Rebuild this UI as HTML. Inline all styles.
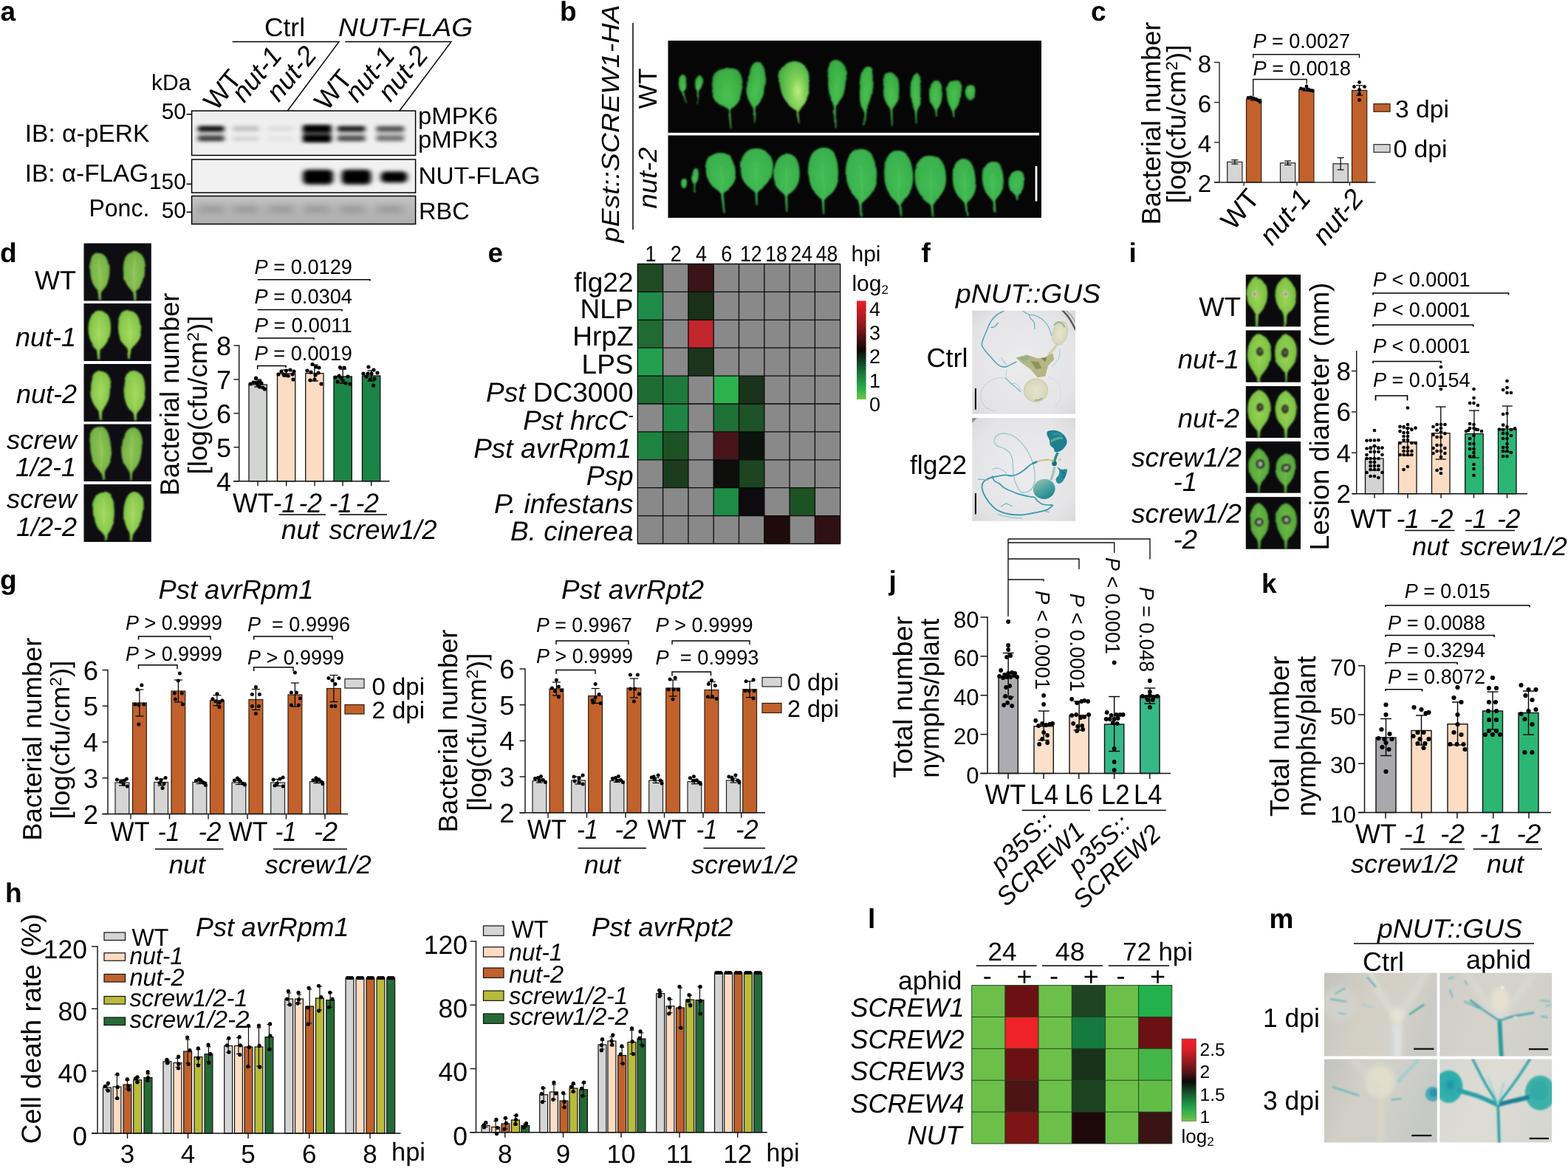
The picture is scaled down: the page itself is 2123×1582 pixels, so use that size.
<!DOCTYPE html>
<html lang="en">
<head>
<meta charset="utf-8">
<title>Figure</title>
<style>html,body{margin:0;padding:0;background:#fff;overflow:hidden}svg{display:block}</style>
</head>
<body>
<svg width="2123" height="1582" viewBox="0 0 2123 1582" font-family="'Liberation Sans', Arial, Helvetica, sans-serif" text-rendering="geometricPrecision">
<defs>
<filter id="bl3" x="-30%" y="-100%" width="160%" height="300%"><feGaussianBlur stdDeviation="3.2 2.2"/></filter>
<filter id="bl4" x="-30%" y="-100%" width="160%" height="300%"><feGaussianBlur stdDeviation="3.5 2.6"/></filter>
<filter id="bl6" x="-30%" y="-100%" width="160%" height="300%"><feGaussianBlur stdDeviation="6 4"/></filter>
<clipPath id="cb1"><rect x="259.6" y="150.1" width="303" height="60.3"/></clipPath>
<clipPath id="cb2"><rect x="259.6" y="216" width="303" height="45"/></clipPath>
<clipPath id="cb3"><rect x="259.6" y="265.5" width="303" height="38"/></clipPath>
<linearGradient id="gp" x1="0" y1="0" x2="0" y2="1"><stop offset="0" stop-color="#c4c4c4"/><stop offset="0.5" stop-color="#b6b6b6"/><stop offset="1" stop-color="#aeaeae"/></linearGradient>
<radialGradient id="lg" cx="0.5" cy="0.45" r="0.65"><stop offset="0" stop-color="#4cc052"/><stop offset="0.6" stop-color="#3bb045"/><stop offset="1" stop-color="#2a9239"/></radialGradient>
<radialGradient id="lgy" cx="0.55" cy="0.5" r="0.6"><stop offset="0" stop-color="#c8ec8a"/><stop offset="0.35" stop-color="#8ad65c"/><stop offset="1" stop-color="#3fae42"/></radialGradient>
<radialGradient id="lg2" cx="0.5" cy="0.45" r="0.65"><stop offset="0" stop-color="#44bd55"/><stop offset="0.7" stop-color="#39b04c"/><stop offset="1" stop-color="#2b963e"/></radialGradient>
<filter id="soft" x="-10%" y="-10%" width="120%" height="120%"><feGaussianBlur stdDeviation="0.7"/></filter>
<filter id="rough" x="-5%" y="-5%" width="110%" height="110%" filterUnits="objectBoundingBox"><feTurbulence type="fractalNoise" baseFrequency="0.035" numOctaves="1" seed="7" result="n"/><feDisplacementMap in="SourceGraphic" in2="n" scale="9" xChannelSelector="R" yChannelSelector="G" result="d"/><feGaussianBlur in="d" stdDeviation="0.9"/></filter>
<filter id="rough2" x="-5%" y="-5%" width="110%" height="110%" filterUnits="objectBoundingBox"><feTurbulence type="fractalNoise" baseFrequency="0.03" numOctaves="1" seed="11" result="n"/><feDisplacementMap in="SourceGraphic" in2="n" scale="6" xChannelSelector="R" yChannelSelector="G" result="d"/><feGaussianBlur in="d" stdDeviation="0.9"/></filter>
<radialGradient id="ld" cx="0.5" cy="0.45" r="0.7"><stop offset="0" stop-color="#a6d95f"/><stop offset="0.6" stop-color="#86c84a"/><stop offset="1" stop-color="#5da33a"/></radialGradient>
<radialGradient id="ldd" cx="0.5" cy="0.45" r="0.7"><stop offset="0" stop-color="#8cc456"/><stop offset="0.6" stop-color="#78b447"/><stop offset="1" stop-color="#4f8e36"/></radialGradient>
<clipPath id="cd0"><rect x="113.5" y="329.5" width="91.3" height="78"/></clipPath>
<clipPath id="cd1"><rect x="113.5" y="411" width="91.3" height="78"/></clipPath>
<clipPath id="cd2"><rect x="113.5" y="493" width="91.3" height="78"/></clipPath>
<clipPath id="cd3"><rect x="113.5" y="574.5" width="91.3" height="77.5"/></clipPath>
<clipPath id="cd4"><rect x="113.5" y="656" width="91.3" height="78"/></clipPath>
<linearGradient id="cbe" x1="0" y1="0" x2="0" y2="1"><stop offset="0" stop-color="#ee1f2b"/><stop offset="0.25" stop-color="#8e1a1f"/><stop offset="0.5" stop-color="#0a0a0a"/><stop offset="0.75" stop-color="#1c7d3c"/><stop offset="0.9" stop-color="#2cb24a"/><stop offset="1" stop-color="#72c34b"/></linearGradient>
<radialGradient id="pf" cx="0.5" cy="0.5" r="0.75"><stop offset="0" stop-color="#ececee"/><stop offset="0.7" stop-color="#e4e4e6"/><stop offset="1" stop-color="#d6d6d8"/></radialGradient>
<clipPath id="cf1"><rect x="1316.3" y="420.7" width="139.7" height="140"/></clipPath>
<clipPath id="cf2"><rect x="1316.3" y="566.2" width="139.7" height="139.5"/></clipPath>
<filter id="soft2" x="-10%" y="-10%" width="120%" height="120%"><feGaussianBlur stdDeviation="0.7"/></filter>
<radialGradient id="cot1" cx="0.5" cy="0.5" r="0.6"><stop offset="0" stop-color="#e6e3cf"/><stop offset="0.7" stop-color="#d9d8bc"/><stop offset="1" stop-color="#b9ba8f"/></radialGradient>
<linearGradient id="cot2" x1="0.3" y1="0" x2="0.6" y2="1"><stop offset="0" stop-color="#8fbdb0"/><stop offset="0.5" stop-color="#4ea3a0"/><stop offset="1" stop-color="#1c8890"/></linearGradient>
<radialGradient id="li" cx="0.5" cy="0.4" r="0.7"><stop offset="0" stop-color="#9bd455"/><stop offset="0.6" stop-color="#7cc244"/><stop offset="1" stop-color="#4f9a35"/></radialGradient>
<radialGradient id="li2" cx="0.5" cy="0.4" r="0.7"><stop offset="0" stop-color="#6db844"/><stop offset="0.6" stop-color="#57a83c"/><stop offset="1" stop-color="#3a8030"/></radialGradient>
<clipPath id="ci0"><rect x="1686.8" y="371.9" width="74.2" height="70.5"/></clipPath>
<clipPath id="ci1"><rect x="1686.8" y="447.4" width="74.2" height="70.3"/></clipPath>
<clipPath id="ci2"><rect x="1686.8" y="523" width="74.2" height="70"/></clipPath>
<clipPath id="ci3"><rect x="1686.8" y="597.9" width="74.2" height="69.8"/></clipPath>
<clipPath id="ci4"><rect x="1686.8" y="673.1" width="74.2" height="70.6"/></clipPath>
<linearGradient id="cbl" x1="0" y1="0" x2="0" y2="1"><stop offset="0" stop-color="#f01f2a"/><stop offset="0.12" stop-color="#e01f28"/><stop offset="0.4" stop-color="#5a1416"/><stop offset="0.52" stop-color="#0a0a0a"/><stop offset="0.66" stop-color="#17552b"/><stop offset="0.82" stop-color="#1fa049"/><stop offset="0.93" stop-color="#4cb848"/><stop offset="1" stop-color="#74c34b"/></linearGradient>
<linearGradient id="pm1" x1="0" y1="0" x2="1" y2="0.3"><stop offset="0" stop-color="#c3c3bf"/><stop offset="0.45" stop-color="#d3cfc5"/><stop offset="0.75" stop-color="#d4d1c8"/><stop offset="1" stop-color="#cacac5"/></linearGradient>
<linearGradient id="pm2" x1="0" y1="0" x2="1" y2="0.2"><stop offset="0" stop-color="#cfcdc8"/><stop offset="0.5" stop-color="#d6d3cb"/><stop offset="1" stop-color="#d0d0ca"/></linearGradient>
<linearGradient id="pm3" x1="0" y1="0" x2="1" y2="0.3"><stop offset="0" stop-color="#c2c3bf"/><stop offset="0.4" stop-color="#d2d0c6"/><stop offset="0.7" stop-color="#cfcfc9"/><stop offset="1" stop-color="#c6c9c6"/></linearGradient>
<linearGradient id="pm4" x1="0" y1="0" x2="1" y2="0.3"><stop offset="0" stop-color="#d6d6d0"/><stop offset="0.5" stop-color="#dddcd5"/><stop offset="1" stop-color="#d7d7d1"/></linearGradient>
<filter id="soft3" x="-10%" y="-10%" width="120%" height="120%"><feGaussianBlur stdDeviation="1.1"/></filter>
<filter id="soft4" x="-20%" y="-20%" width="140%" height="140%"><feGaussianBlur stdDeviation="3"/></filter>
<radialGradient id="ctl" cx="0.55" cy="0.45" r="0.6"><stop offset="0" stop-color="#1f8fa0"/><stop offset="0.3" stop-color="#2aa9ac"/><stop offset="1" stop-color="#38b3ae"/></radialGradient>
<clipPath id="cm0"><rect x="1793" y="1317.7" width="152.6" height="112.8"/></clipPath>
<clipPath id="cm1"><rect x="1949.4" y="1317.7" width="151.8" height="112.8"/></clipPath>
<clipPath id="cm2"><rect x="1793" y="1434.6" width="152.8" height="112.8"/></clipPath>
<clipPath id="cm3"><rect x="1949.4" y="1434.6" width="151.8" height="112.8"/></clipPath>
</defs>
<text x="0.5" y="27.5" font-size="37" font-weight="bold">a</text>
<text x="358" y="48.6" font-size="35" textLength="55" lengthAdjust="spacingAndGlyphs">Ctrl</text>
<text x="458" y="48.6" font-size="35" font-style="italic" textLength="182" lengthAdjust="spacingAndGlyphs">NUT-FLAG</text>
<polyline points="314.6,56.6 459,56.6 389.3,150" fill="none" stroke="#000" stroke-width="1.5"/>
<polyline points="467.2,56.6 610.9,56.6 541,150" fill="none" stroke="#000" stroke-width="1.5"/>
<text x="292.8" y="151.4" font-size="36.5" transform="rotate(-50.5 292.8 151.4)">WT</text>
<text x="330.4" y="140.4" font-size="36.5" font-style="italic" transform="rotate(-50.5 330.4 140.4)">nut-1</text>
<text x="377.6" y="139.5" font-size="36.5" font-style="italic" transform="rotate(-50.5 377.6 139.5)">nut-2</text>
<text x="442.8" y="151.4" font-size="36.5" transform="rotate(-50.5 442.8 151.4)">WT</text>
<text x="483.4" y="140.4" font-size="36.5" font-style="italic" transform="rotate(-50.5 483.4 140.4)">nut-1</text>
<text x="528.6" y="139.5" font-size="36.5" font-style="italic" transform="rotate(-50.5 528.6 139.5)">nut-2</text>
<text x="205" y="122.4" font-size="30">kDa</text>
<rect x="259.6" y="150.1" width="303" height="60.3" fill="#efefef"/>
<g clip-path="url(#cb1)">
<g filter="url(#bl3)">
<rect x="267.7" y="170.45" width="36" height="7.5" fill="#000" rx="3" opacity="0.92"/>
<rect x="267.7" y="184.05" width="36" height="7.5" fill="#000" rx="3" opacity="0.7"/>
<rect x="267.7" y="174" width="36" height="14" fill="#000" rx="4" opacity="0.18"/>
<rect x="315" y="170.45" width="36" height="7.5" fill="#000" rx="3" opacity="0.18"/>
<rect x="315" y="184.05" width="36" height="7.5" fill="#000" rx="3" opacity="0.1"/>
<rect x="363" y="170.45" width="34" height="7.5" fill="#000" rx="3" opacity="0.07"/>
<rect x="363" y="184.05" width="34" height="7.5" fill="#000" rx="3" opacity="0.04"/>
<rect x="409.8" y="168.95" width="39" height="10.5" fill="#000" rx="3" opacity="1.0"/>
<rect x="409.8" y="182.55" width="39" height="10.5" fill="#000" rx="3" opacity="1.0"/>
<rect x="409.8" y="171" width="39" height="20" fill="#000" rx="4" opacity="0.5"/>
<rect x="456.7" y="170.45" width="38" height="7.5" fill="#000" rx="3" opacity="0.85"/>
<rect x="456.7" y="184.05" width="38" height="7.5" fill="#000" rx="3" opacity="0.62"/>
<rect x="456.7" y="174" width="38" height="14" fill="#000" rx="4" opacity="0.18"/>
<rect x="509.3" y="170.45" width="38" height="7.5" fill="#000" rx="3" opacity="0.6"/>
<rect x="509.3" y="184.05" width="38" height="7.5" fill="#000" rx="3" opacity="0.45"/>
<rect x="509.3" y="174" width="38" height="14" fill="#000" rx="4" opacity="0.18"/>
</g>
</g>
<rect x="259.6" y="150.1" width="303" height="60.3" fill="none" stroke="#000" stroke-width="1.5"/>
<rect x="259.6" y="216" width="303" height="45" fill="#f1f1f1"/>
<g clip-path="url(#cb2)">
<g filter="url(#bl4)">
<rect x="410" y="229.8" width="41" height="20" fill="#000" rx="6"/>
<rect x="412" y="230.8" width="37" height="18" fill="#000" rx="6"/>
<rect x="462.5" y="229.8" width="40" height="20" fill="#000" rx="6"/>
<rect x="464.5" y="230.8" width="36" height="18" fill="#000" rx="6"/>
<rect x="515.5" y="232.3" width="36" height="15" fill="#000" rx="6"/>
<rect x="517.5" y="233.3" width="32" height="13" fill="#000" rx="6"/>
</g>
</g>
<rect x="259.6" y="216" width="303" height="45" fill="none" stroke="#000" stroke-width="1.5"/>
<rect x="259.6" y="265.5" width="303" height="38" fill="url(#gp)"/>
<g clip-path="url(#cb3)">
<g filter="url(#bl6)" opacity="0.35">
<rect x="269" y="279" width="34" height="8" fill="#555"/>
<rect x="316" y="279" width="34" height="8" fill="#555"/>
<rect x="363" y="279" width="34" height="8" fill="#555"/>
<rect x="412" y="279" width="34" height="8" fill="#555"/>
<rect x="460" y="279" width="34" height="8" fill="#555"/>
<rect x="511" y="279" width="34" height="8" fill="#555"/>
</g>
</g>
<rect x="259.6" y="265.5" width="303" height="38" fill="none" stroke="#000" stroke-width="1.5"/>
<text x="252" y="160.8" font-size="30" text-anchor="end">50</text>
<line x1="252.5" y1="154.8" x2="259.6" y2="154.8" stroke="#000" stroke-width="1.5"/>
<text x="252" y="256" font-size="30" text-anchor="end">150</text>
<line x1="252.5" y1="249.3" x2="259.6" y2="249.3" stroke="#000" stroke-width="1.5"/>
<text x="252" y="295.2" font-size="30" text-anchor="end">50</text>
<line x1="252.5" y1="287.3" x2="259.6" y2="287.3" stroke="#000" stroke-width="1.5"/>
<text x="33.8" y="192.2" font-size="33.5" textLength="168.5" lengthAdjust="spacingAndGlyphs">IB: α-pERK</text>
<text x="33.8" y="245.8" font-size="33.5" textLength="167.5" lengthAdjust="spacingAndGlyphs">IB: α-FLAG</text>
<text x="120.4" y="293.4" font-size="33" textLength="82" lengthAdjust="spacingAndGlyphs">Ponc.</text>
<text x="566" y="168.3" font-size="32.5" textLength="108" lengthAdjust="spacingAndGlyphs">pMPK6</text>
<text x="566" y="199.5" font-size="32.5" textLength="108" lengthAdjust="spacingAndGlyphs">pMPK3</text>
<text x="566.5" y="249" font-size="32.5" textLength="165" lengthAdjust="spacingAndGlyphs">NUT-FLAG</text>
<text x="567" y="296.5" font-size="32.5">RBC</text>
<text x="758" y="27.5" font-size="37" font-weight="bold">b</text>
<text x="838" y="328.5" font-size="33.5" font-style="italic" transform="rotate(-90 838 328.5)" textLength="322" lengthAdjust="spacingAndGlyphs">pEst::SCREW1-HA</text>
<line x1="857" y1="31" x2="857" y2="311" stroke="#000" stroke-width="1.5"/>
<text x="889" y="147.5" font-size="35" transform="rotate(-90 889 147.5)" textLength="55" lengthAdjust="spacingAndGlyphs">WT</text>
<text x="889" y="282.5" font-size="35" font-style="italic" transform="rotate(-90 889 282.5)" textLength="83" lengthAdjust="spacingAndGlyphs">nut-2</text>
<rect x="904.5" y="55" width="505.5" height="240" fill="#060606"/>
<rect x="904.5" y="179.8" width="502.5" height="3.6" fill="#fff"/>
<rect x="1401.6" y="225" width="2.8" height="47.5" fill="#fff"/>
<g filter="url(#rough)">
<g transform="rotate(-8 924 113.0)">
<path d="M924.0,140.0 L923.0,124.0 C922.4,121.8 918.5,120.5 918.5,111.2 C918.5,105.1 920.7,102.0 924.0,102.0 C927.3,102.0 929.5,105.1 929.5,111.2 C929.5,120.5 925.6,121.8 925.0,124.0 L925.2,140.0 Z" fill="url(#lg)"/>
</g>
<g transform="rotate(4 945.5 114.0)">
<path d="M945.6,141.0 L944.5,124.0 C943.9,122.0 941.0,120.8 941.0,112.4 C941.0,106.8 942.8,104.0 945.5,104.0 C948.2,104.0 950.0,106.8 950.0,112.4 C950.0,120.8 947.1,122.0 946.5,124.0 L946.8,141.0 Z" fill="url(#lg)"/>
</g>
<g transform="rotate(-3 985 121.5)">
<path d="M985.1,175.0 L983.7,152.0 C982.8,145.9 963.5,142.2 963.5,116.6 C963.5,99.5 972.1,91.0 985.0,91.0 C997.9,91.0 1006.5,99.5 1006.5,116.6 C1006.5,142.2 987.2,145.9 986.3,152.0 L986.7,175.0 Z" fill="url(#lg)"/>
</g>
<g transform="rotate(4 1024.5 115.5)">
<path d="M1024.5,166.0 L1023.2,147.0 C1022.3,140.7 1012.2,136.9 1012.2,110.5 C1012.2,92.8 1017.1,84.0 1024.5,84.0 C1031.8,84.0 1036.8,92.8 1036.8,110.5 C1036.8,136.9 1026.7,140.7 1025.8,147.0 L1026.1,166.0 Z" fill="url(#lg)"/>
</g>
<g transform="rotate(-6 1077 117.5)">
<path d="M1076.8,168.0 L1075.7,152.0 C1074.8,145.1 1056.2,141.0 1056.2,112.0 C1056.2,92.7 1064.5,83.0 1077.0,83.0 C1089.5,83.0 1097.8,92.7 1097.8,112.0 C1097.8,141.0 1079.2,145.1 1078.3,152.0 L1078.4,168.0 Z" fill="url(#lgy)"/>
</g>
<g transform="rotate(2 1132.5 113.0)">
<path d="M1132.9,174.0 L1131.2,145.0 C1130.3,138.6 1120.0,134.8 1120.0,107.9 C1120.0,90.0 1125.0,81.0 1132.5,81.0 C1140.0,81.0 1145.0,90.0 1145.0,107.9 C1145.0,134.8 1134.7,138.6 1133.8,145.0 L1134.5,174.0 Z" fill="url(#lg)"/>
</g>
<g transform="rotate(5 1172.5 121.5)">
<path d="M1172.4,170.0 L1171.2,152.0 C1170.3,145.9 1164.0,142.2 1164.0,116.6 C1164.0,99.5 1167.4,91.0 1172.5,91.0 C1177.6,91.0 1181.0,99.5 1181.0,116.6 C1181.0,142.2 1174.7,145.9 1173.8,152.0 L1174.0,170.0 Z" fill="url(#lg)"/>
</g>
<g>
<path d="M1207.1,171.0 L1205.7,149.0 C1204.8,143.7 1195.5,140.5 1195.5,118.3 C1195.5,103.4 1200.1,96.0 1207.0,96.0 C1213.9,96.0 1218.5,103.4 1218.5,118.3 C1218.5,140.5 1209.2,143.7 1208.3,149.0 L1208.7,171.0 Z" fill="url(#lg)"/>
</g>
<g>
<path d="M1239.8,166.0 L1238.7,151.0 C1237.8,146.1 1232.5,143.2 1232.5,122.6 C1232.5,108.9 1235.5,102.0 1240.0,102.0 C1244.5,102.0 1247.5,108.9 1247.5,122.6 C1247.5,143.2 1242.2,146.1 1241.3,151.0 L1241.4,166.0 Z" fill="url(#lg)"/>
</g>
<g>
<path d="M1267.1,159.0 L1266.2,150.0 C1265.3,145.7 1259.0,143.1 1259.0,125.1 C1259.0,113.0 1262.4,107.0 1267.5,107.0 C1272.6,107.0 1276.0,113.0 1276.0,125.1 C1276.0,143.1 1269.7,145.7 1268.8,150.0 L1268.7,159.0 Z" fill="url(#lg)"/>
</g>
<g>
<path d="M1291.5,159.0 L1290.7,151.0 C1289.8,146.7 1281.5,144.1 1281.5,126.1 C1281.5,114.0 1285.7,108.0 1292.0,108.0 C1298.3,108.0 1302.5,114.0 1302.5,126.1 C1302.5,144.1 1294.2,146.7 1293.3,151.0 L1293.1,159.0 Z" fill="url(#lg)"/>
</g>
<g>
<path d="M1314.5,137.0 C1310.3,136.6 1307.5,132.6 1307.5,124.2 C1307.5,118.1 1310.3,115.0 1314.5,115.0 C1318.7,115.0 1321.5,118.1 1321.5,124.2 C1321.5,132.6 1318.7,136.6 1314.5,137.0 Z" fill="url(#lg)"/>
</g>
</g>
<g filter="url(#rough2)">
<g>
<path d="M927.0,255.0 C924.6,254.7 923.0,252.2 923.0,247.4 C923.0,243.0 924.6,241.0 927.0,241.0 C929.4,241.0 931.0,243.0 931.0,247.4 C931.0,252.2 929.4,254.7 927.0,255.0 Z" fill="url(#lg2)"/>
</g>
<g transform="rotate(5 941.5 239.0)">
<path d="M941.4,261.0 L940.5,249.0 C939.9,247.0 937.2,245.8 937.2,238.2 C937.2,231.8 939.0,229.0 941.5,229.0 C944.0,229.0 945.8,231.8 945.8,238.2 C945.8,245.8 943.1,247.0 942.5,249.0 L942.6,261.0 Z" fill="url(#lg2)"/>
</g>
<g transform="rotate(-4 976 235.0)">
<path d="M976.0,288.0 L974.4,263.0 C973.4,257.4 956.0,254.0 956.0,232.8 C956.0,214.8 964.0,207.0 976.0,207.0 C988.0,207.0 996.0,214.8 996.0,232.8 C996.0,254.0 978.6,257.4 977.6,263.0 L978.0,288.0 Z" fill="url(#lg2)"/>
</g>
<line x1="976" y1="223.8" x2="976.5" y2="261" stroke="#63c765" stroke-width="1.2" opacity="0.55"/>
<g>
<path d="M1023.7,278.0 L1022.4,261.0 C1021.4,255.0 1002.8,251.4 1002.8,228.6 C1002.8,209.4 1011.2,201.0 1024.0,201.0 C1036.8,201.0 1045.2,209.4 1045.2,228.6 C1045.2,251.4 1026.6,255.0 1025.6,261.0 L1025.6,278.0 Z" fill="url(#lg2)"/>
</g>
<line x1="1024" y1="219" x2="1024.5" y2="259" stroke="#63c765" stroke-width="1.2" opacity="0.55"/>
<g>
<path d="M1064.4,288.0 L1062.9,266.0 C1061.9,260.2 1046.2,256.7 1046.2,234.7 C1046.2,216.1 1053.5,208.0 1064.5,208.0 C1075.5,208.0 1082.8,216.1 1082.8,234.7 C1082.8,256.7 1067.1,260.2 1066.1,266.0 L1066.3,288.0 Z" fill="url(#lg2)"/>
</g>
<line x1="1064.5" y1="225.4" x2="1065" y2="264" stroke="#63c765" stroke-width="1.2" opacity="0.55"/>
<g>
<path d="M1114.3,291.0 L1112.9,273.0 C1111.9,265.7 1094.0,261.3 1094.0,233.6 C1094.0,210.2 1102.2,200.0 1114.5,200.0 C1126.8,200.0 1135.0,210.2 1135.0,233.6 C1135.0,261.3 1117.1,265.7 1116.1,273.0 L1116.2,291.0 Z" fill="url(#lg2)"/>
</g>
<line x1="1114.5" y1="221.9" x2="1115" y2="271" stroke="#63c765" stroke-width="1.2" opacity="0.55"/>
<g>
<path d="M1165.7,293.0 L1164.4,276.0 C1163.4,268.6 1144.8,264.2 1144.8,236.0 C1144.8,212.4 1153.2,202.0 1166.0,202.0 C1178.8,202.0 1187.2,212.4 1187.2,236.0 C1187.2,264.2 1168.6,268.6 1167.6,276.0 L1167.6,293.0 Z" fill="url(#lg2)"/>
</g>
<line x1="1166" y1="224.2" x2="1166.5" y2="274" stroke="#63c765" stroke-width="1.2" opacity="0.55"/>
<g transform="rotate(-3 1217 241.5)">
<path d="M1216.7,294.0 L1215.4,278.0 C1214.4,270.7 1197.5,266.3 1197.5,238.6 C1197.5,215.2 1205.3,205.0 1217.0,205.0 C1228.7,205.0 1236.5,215.2 1236.5,238.6 C1236.5,266.3 1219.6,270.7 1218.6,278.0 L1218.6,294.0 Z" fill="url(#lg2)"/>
</g>
<line x1="1217" y1="226.9" x2="1217.5" y2="276" stroke="#63c765" stroke-width="1.2" opacity="0.55"/>
<g transform="rotate(-3 1260 244.0)">
<path d="M1259.6,293.0 L1258.4,278.0 C1257.4,271.2 1238.8,267.1 1238.8,241.3 C1238.8,219.5 1247.2,210.0 1260.0,210.0 C1272.8,210.0 1281.2,219.5 1281.2,241.3 C1281.2,267.1 1262.6,271.2 1261.6,278.0 L1261.6,293.0 Z" fill="url(#lg2)"/>
</g>
<line x1="1260" y1="230.4" x2="1260.5" y2="276" stroke="#63c765" stroke-width="1.2" opacity="0.55"/>
<g transform="rotate(-4 1305.5 245.5)">
<path d="M1305.2,293.0 L1303.9,276.0 C1302.9,269.9 1290.0,266.2 1290.0,243.1 C1290.0,223.5 1296.2,215.0 1305.5,215.0 C1314.8,215.0 1321.0,223.5 1321.0,243.1 C1321.0,266.2 1308.1,269.9 1307.1,276.0 L1307.1,293.0 Z" fill="url(#lg2)"/>
</g>
<line x1="1305.5" y1="233.3" x2="1306" y2="274" stroke="#63c765" stroke-width="1.2" opacity="0.55"/>
<g transform="rotate(-4 1345 245.5)">
<path d="M1344.6,288.0 L1343.4,273.0 C1342.4,267.5 1330.0,264.2 1330.0,243.3 C1330.0,225.7 1336.0,218.0 1345.0,218.0 C1354.0,218.0 1360.0,225.7 1360.0,243.3 C1360.0,264.2 1347.6,267.5 1346.6,273.0 L1346.6,288.0 Z" fill="url(#lg2)"/>
</g>
<line x1="1345" y1="234.5" x2="1345.5" y2="271" stroke="#63c765" stroke-width="1.2" opacity="0.55"/>
<g>
<path d="M1376.2,271.0 L1375.4,266.0 C1374.4,262.5 1366.5,260.4 1366.5,247.1 C1366.5,235.9 1370.7,231.0 1377.0,231.0 C1383.3,231.0 1387.5,235.9 1387.5,247.1 C1387.5,260.4 1379.6,262.5 1378.6,266.0 L1378.2,271.0 Z" fill="url(#lg2)"/>
</g>
</g>
<text x="1477" y="27.5" font-size="37" font-weight="bold">c</text>
<text x="1571" y="304.5" font-size="36" transform="rotate(-90 1571 304.5)" textLength="275" lengthAdjust="spacingAndGlyphs">Bacterial number</text>
<text x="1605" y="275.5" font-size="36" transform="rotate(-90 1605 275.5)" textLength="215" lengthAdjust="spacingAndGlyphs">[log(cfu/cm<tspan font-size="22" dy="-11">2</tspan><tspan dy="11">)]</tspan></text>
<rect x="1661.7" y="219.38" width="20.2" height="27.62" fill="#d5d5d5" stroke="#222" stroke-width="1.2"/>
<rect x="1687.5" y="134.33" width="20.2" height="112.67" fill="#c1622c" stroke="#3a1a08" stroke-width="1.2"/>
<line x1="1671.8" y1="216.67" x2="1671.8" y2="222.08" stroke="#000" stroke-width="1.2"/>
<line x1="1667.3" y1="216.67" x2="1676.3" y2="216.67" stroke="#000" stroke-width="1.2"/>
<line x1="1667.3" y1="222.08" x2="1676.3" y2="222.08" stroke="#000" stroke-width="1.2"/>
<line x1="1697.6" y1="132.71" x2="1697.6" y2="135.96" stroke="#000" stroke-width="1.2"/>
<line x1="1693.1" y1="132.71" x2="1702.1" y2="132.71" stroke="#000" stroke-width="1.2"/>
<line x1="1693.1" y1="135.96" x2="1702.1" y2="135.96" stroke="#000" stroke-width="1.2"/>
<rect x="1733.5" y="220.73" width="20.2" height="26.27" fill="#d5d5d5" stroke="#222" stroke-width="1.2"/>
<rect x="1758.7" y="121.33" width="20.2" height="125.67" fill="#c1622c" stroke="#3a1a08" stroke-width="1.2"/>
<line x1="1743.6" y1="218.02" x2="1743.6" y2="223.44" stroke="#000" stroke-width="1.2"/>
<line x1="1739.1" y1="218.02" x2="1748.1" y2="218.02" stroke="#000" stroke-width="1.2"/>
<line x1="1739.1" y1="223.44" x2="1748.1" y2="223.44" stroke="#000" stroke-width="1.2"/>
<line x1="1768.8" y1="119.44" x2="1768.8" y2="123.23" stroke="#000" stroke-width="1.2"/>
<line x1="1764.3" y1="119.44" x2="1773.3" y2="119.44" stroke="#000" stroke-width="1.2"/>
<line x1="1764.3" y1="123.23" x2="1773.3" y2="123.23" stroke="#000" stroke-width="1.2"/>
<rect x="1805" y="221.81" width="20.2" height="25.19" fill="#d5d5d5" stroke="#222" stroke-width="1.2"/>
<rect x="1830.5" y="122.42" width="20.2" height="124.58" fill="#c1622c" stroke="#3a1a08" stroke-width="1.2"/>
<line x1="1815.1" y1="213.69" x2="1815.1" y2="229.94" stroke="#000" stroke-width="1.2"/>
<line x1="1810.6" y1="213.69" x2="1819.6" y2="213.69" stroke="#000" stroke-width="1.2"/>
<line x1="1810.6" y1="229.94" x2="1819.6" y2="229.94" stroke="#000" stroke-width="1.2"/>
<line x1="1840.6" y1="115.65" x2="1840.6" y2="129.19" stroke="#000" stroke-width="1.2"/>
<line x1="1836.1" y1="115.65" x2="1845.1" y2="115.65" stroke="#000" stroke-width="1.2"/>
<line x1="1836.1" y1="129.19" x2="1845.1" y2="129.19" stroke="#000" stroke-width="1.2"/>
<circle cx="1690" cy="132.5" r="2.4" fill="#000"/>
<circle cx="1693.5" cy="132" r="2.4" fill="#000"/>
<circle cx="1697" cy="133" r="2.4" fill="#000"/>
<circle cx="1700.5" cy="134.5" r="2.4" fill="#000"/>
<circle cx="1703.5" cy="136" r="2.4" fill="#000"/>
<circle cx="1706" cy="138" r="2.4" fill="#000"/>
<circle cx="1761.5" cy="120" r="2.4" fill="#000"/>
<circle cx="1765" cy="121" r="2.4" fill="#000"/>
<circle cx="1769" cy="117" r="2.4" fill="#000"/>
<circle cx="1771.5" cy="121.5" r="2.4" fill="#000"/>
<circle cx="1774.5" cy="122.5" r="2.4" fill="#000"/>
<circle cx="1777" cy="123" r="2.4" fill="#000"/>
<circle cx="1840.5" cy="111.5" r="2.4" fill="#000"/>
<circle cx="1833.5" cy="117.5" r="2.4" fill="#000"/>
<circle cx="1847.5" cy="117.5" r="2.4" fill="#000"/>
<circle cx="1840.5" cy="121.5" r="2.4" fill="#000"/>
<circle cx="1840.5" cy="127" r="2.4" fill="#000"/>
<circle cx="1840.5" cy="135.5" r="2.4" fill="#000"/>
<line x1="1651" y1="83.8" x2="1651" y2="247" stroke="#222" stroke-width="1.4"/>
<line x1="1644" y1="247" x2="1862.5" y2="247" stroke="#222" stroke-width="1.4"/>
<line x1="1644" y1="247" x2="1651" y2="247" stroke="#222" stroke-width="1.4"/>
<text x="1640" y="260" font-size="33" text-anchor="end">2</text>
<line x1="1644" y1="192.83" x2="1651" y2="192.83" stroke="#222" stroke-width="1.4"/>
<text x="1640" y="205.83" font-size="33" text-anchor="end">4</text>
<line x1="1644" y1="138.67" x2="1651" y2="138.67" stroke="#222" stroke-width="1.4"/>
<text x="1640" y="151.67" font-size="33" text-anchor="end">6</text>
<line x1="1644" y1="84.5" x2="1651" y2="84.5" stroke="#222" stroke-width="1.4"/>
<text x="1640" y="97.5" font-size="33" text-anchor="end">8</text>
<line x1="1684.2" y1="247" x2="1684.2" y2="251.5" stroke="#222" stroke-width="1.4"/>
<line x1="1756" y1="247" x2="1756" y2="251.5" stroke="#222" stroke-width="1.4"/>
<line x1="1827.5" y1="247" x2="1827.5" y2="251.5" stroke="#222" stroke-width="1.4"/>
<text x="1707" y="269.5" font-size="37" text-anchor="end" transform="rotate(-50 1707 269.5)">WT</text>
<text x="1776.5" y="269.5" font-size="37" text-anchor="end" font-style="italic" transform="rotate(-50 1776.5 269.5)">nut-1</text>
<text x="1848" y="269.5" font-size="37" text-anchor="end" font-style="italic" transform="rotate(-50 1848 269.5)">nut-2</text>
<text x="1696.5" y="65" font-size="27.8" textLength="131.5" lengthAdjust="spacingAndGlyphs"><tspan font-style="italic">P</tspan> = 0.0027</text>
<polyline points="1696.7,78.5 1696.7,73.7 1840.5,73.7 1840.5,78.5" fill="none" stroke="#111" stroke-width="1.4"/>
<text x="1696.5" y="102" font-size="27.8" textLength="132.5" lengthAdjust="spacingAndGlyphs"><tspan font-style="italic">P</tspan> = 0.0018</text>
<polyline points="1696.7,130 1696.7,107.5 1769.2,107.5 1769.2,113.5" fill="none" stroke="#111" stroke-width="1.4"/>
<rect x="1860" y="140.7" width="22" height="10.5" fill="#c1622c" stroke="#3a1a08" stroke-width="1.2"/>
<text x="1889" y="159" font-size="33" textLength="73" lengthAdjust="spacingAndGlyphs">3 dpi</text>
<rect x="1860" y="195.7" width="22" height="10.5" fill="#d5d5d5" stroke="#222" stroke-width="1.2"/>
<text x="1886.5" y="213" font-size="33" textLength="73" lengthAdjust="spacingAndGlyphs">0 dpi</text>
<text x="0" y="355" font-size="37" font-weight="bold">d</text>
<rect x="113.5" y="329.5" width="91.3" height="78" fill="#0e0e12"/>
<g clip-path="url(#cd0)" filter="url(#rough2)">
<g>
<path d="M133.9,408.0 L132.6,396.0 C131.1,390.6 121.1,387.4 121.1,364.7 C121.1,349.6 126.6,342.0 134.8,342.0 C143.1,342.0 148.6,349.6 148.6,364.7 C148.6,387.4 138.5,390.6 137.0,396.0 L136.6,408.0 Z" fill="url(#ldd)"/>
</g>
<line x1="134.8" y1="350" x2="134.8" y2="392" stroke="#b5dd7a" stroke-width="1" opacity="0.6"/>
<g>
<path d="M180.6,408.0 L179.3,396.0 C177.8,390.5 166.8,387.2 166.8,364.1 C166.8,348.7 172.7,341.0 181.5,341.0 C190.3,341.0 196.2,348.7 196.2,364.1 C196.2,387.2 185.2,390.5 183.7,396.0 L183.3,408.0 Z" fill="url(#ldd)"/>
</g>
<line x1="181.5" y1="349" x2="181.5" y2="392" stroke="#b5dd7a" stroke-width="1" opacity="0.6"/>
</g>
<rect x="113.5" y="411" width="91.3" height="78" fill="#0e0e12"/>
<g clip-path="url(#cd1)" filter="url(#rough2)">
<g>
<path d="M133.4,487.0 L132.1,475.0 C130.6,469.7 119.6,466.5 119.6,444.1 C119.6,429.2 125.5,421.7 134.3,421.7 C143.2,421.7 149.1,429.2 149.1,444.1 C149.1,466.5 138.0,469.7 136.5,475.0 L136.1,487.0 Z" fill="url(#ld)"/>
</g>
<line x1="134.3" y1="429.7" x2="134.3" y2="471" stroke="#b5dd7a" stroke-width="1" opacity="0.6"/>
<g>
<path d="M174.2,486.0 L172.8,473.0 C171.3,467.8 159.0,464.7 159.0,442.8 C159.0,428.3 165.4,421.0 175.0,421.0 C184.6,421.0 191.0,428.3 191.0,442.8 C191.0,464.7 178.7,467.8 177.2,473.0 L176.9,486.0 Z" fill="url(#ld)"/>
</g>
<line x1="175" y1="429" x2="175" y2="469" stroke="#b5dd7a" stroke-width="1" opacity="0.6"/>
</g>
<rect x="113.5" y="493" width="91.3" height="78" fill="#0e0e12"/>
<g clip-path="url(#cd2)" filter="url(#rough2)">
<g>
<path d="M135.0,569.0 L133.8,559.0 C132.3,553.3 122.0,549.9 122.0,525.9 C122.0,510.0 127.6,502.0 136.0,502.0 C144.4,502.0 150.0,510.0 150.0,525.9 C150.0,549.9 139.7,553.3 138.2,559.0 L137.8,569.0 Z" fill="url(#ld)"/>
</g>
<line x1="136" y1="510" x2="136" y2="555" stroke="#b5dd7a" stroke-width="1" opacity="0.6"/>
<g>
<path d="M181.0,569.0 L179.8,559.0 C178.3,553.3 167.5,549.9 167.5,525.9 C167.5,510.0 173.3,502.0 182.0,502.0 C190.7,502.0 196.5,510.0 196.5,525.9 C196.5,549.9 185.7,553.3 184.2,559.0 L183.8,569.0 Z" fill="url(#ld)"/>
</g>
<line x1="182" y1="510" x2="182" y2="555" stroke="#b5dd7a" stroke-width="1" opacity="0.6"/>
</g>
<rect x="113.5" y="574.5" width="91.3" height="77.5" fill="#0e0e12"/>
<g clip-path="url(#cd3)" filter="url(#rough2)">
<g transform="rotate(-4 136.5 609.5)">
<path d="M135.5,651.0 L134.3,641.0 C132.8,634.7 121.5,630.9 121.5,604.5 C121.5,586.8 127.5,578.0 136.5,578.0 C145.5,578.0 151.5,586.8 151.5,604.5 C151.5,630.9 140.2,634.7 138.7,641.0 L138.3,651.0 Z" fill="url(#ldd)"/>
</g>
<line x1="136.5" y1="586" x2="136.5" y2="637" stroke="#b5dd7a" stroke-width="1" opacity="0.6"/>
<g transform="rotate(2 179 610.5)">
<path d="M178.0,651.0 L176.8,641.0 C175.3,634.9 165.0,631.2 165.0,605.6 C165.0,588.5 170.6,580.0 179.0,580.0 C187.4,580.0 193.0,588.5 193.0,605.6 C193.0,631.2 182.7,634.9 181.2,641.0 L180.8,651.0 Z" fill="url(#ldd)"/>
</g>
<line x1="179" y1="588" x2="179" y2="637" stroke="#b5dd7a" stroke-width="1" opacity="0.6"/>
</g>
<rect x="113.5" y="656" width="91.3" height="78" fill="#0e0e12"/>
<g clip-path="url(#cd4)" filter="url(#rough2)">
<g transform="rotate(-3 141 696.5)">
<path d="M139.9,733.0 L138.8,726.0 C137.3,720.1 126.0,716.6 126.0,691.8 C126.0,675.3 132.0,667.0 141.0,667.0 C150.0,667.0 156.0,675.3 156.0,691.8 C156.0,716.6 144.7,720.1 143.2,726.0 L142.6,733.0 Z" fill="url(#ld)"/>
</g>
<line x1="141" y1="675" x2="141" y2="722" stroke="#b5dd7a" stroke-width="1" opacity="0.6"/>
<g transform="rotate(6 180 694.5)">
<path d="M179.0,733.0 L177.8,724.0 C176.3,718.1 167.0,714.6 167.0,689.8 C167.0,673.3 172.2,665.0 180.0,665.0 C187.8,665.0 193.0,673.3 193.0,689.8 C193.0,714.6 183.7,718.1 182.2,724.0 L181.7,733.0 Z" fill="url(#ld)"/>
</g>
<line x1="180" y1="673" x2="180" y2="720" stroke="#b5dd7a" stroke-width="1" opacity="0.6"/>
</g>
<text x="103" y="391.5" font-size="36" text-anchor="end">WT</text>
<text x="103" y="468.7" font-size="36" text-anchor="end" font-style="italic">nut-1</text>
<text x="104" y="546" font-size="36" text-anchor="end" font-style="italic">nut-2</text>
<text x="104" y="608" font-size="36" text-anchor="end" font-style="italic" textLength="95" lengthAdjust="spacingAndGlyphs">screw</text>
<text x="103" y="645" font-size="36" text-anchor="end" font-style="italic">1/2-1</text>
<text x="104" y="687.5" font-size="36" text-anchor="end" font-style="italic" textLength="95" lengthAdjust="spacingAndGlyphs">screw</text>
<text x="104" y="725.5" font-size="36" text-anchor="end" font-style="italic">1/2-2</text>
<text x="241.5" y="671.5" font-size="36" transform="rotate(-90 241.5 671.5)" textLength="275" lengthAdjust="spacingAndGlyphs">Bacterial number</text>
<text x="279.5" y="642.5" font-size="36" transform="rotate(-90 279.5 642.5)" textLength="215" lengthAdjust="spacingAndGlyphs">[log(cfu/cm<tspan font-size="22" dy="-11">2</tspan><tspan dy="11">)]</tspan></text>
<rect x="337" y="521" width="24.3" height="130.7" fill="#d3d5d3" stroke="#111" stroke-width="1.3"/>
<line x1="349.15" y1="514" x2="349.15" y2="524" stroke="#000" stroke-width="1.3"/>
<line x1="344.15" y1="514" x2="354.15" y2="514" stroke="#000" stroke-width="1.3"/>
<line x1="344.15" y1="524" x2="354.15" y2="524" stroke="#000" stroke-width="1.3"/>
<rect x="375.5" y="506" width="24.3" height="145.7" fill="#fcdcc2" stroke="#111" stroke-width="1.3"/>
<line x1="387.65" y1="501" x2="387.65" y2="510" stroke="#000" stroke-width="1.3"/>
<line x1="382.65" y1="501" x2="392.65" y2="501" stroke="#000" stroke-width="1.3"/>
<line x1="382.65" y1="510" x2="392.65" y2="510" stroke="#000" stroke-width="1.3"/>
<rect x="413.7" y="505.7" width="24.3" height="146" fill="#fcdcc2" stroke="#111" stroke-width="1.3"/>
<line x1="425.85" y1="494" x2="425.85" y2="516" stroke="#000" stroke-width="1.3"/>
<line x1="420.85" y1="494" x2="430.85" y2="494" stroke="#000" stroke-width="1.3"/>
<line x1="420.85" y1="516" x2="430.85" y2="516" stroke="#000" stroke-width="1.3"/>
<rect x="452" y="510" width="24.3" height="141.7" fill="#1c8446" stroke="#111" stroke-width="1.3"/>
<line x1="464.15" y1="500" x2="464.15" y2="519" stroke="#000" stroke-width="1.3"/>
<line x1="459.15" y1="500" x2="469.15" y2="500" stroke="#000" stroke-width="1.3"/>
<line x1="459.15" y1="519" x2="469.15" y2="519" stroke="#000" stroke-width="1.3"/>
<rect x="490.5" y="509" width="24.3" height="142.7" fill="#1c8446" stroke="#111" stroke-width="1.3"/>
<line x1="502.65" y1="502" x2="502.65" y2="516" stroke="#000" stroke-width="1.3"/>
<line x1="497.65" y1="502" x2="507.65" y2="502" stroke="#000" stroke-width="1.3"/>
<line x1="497.65" y1="516" x2="507.65" y2="516" stroke="#000" stroke-width="1.3"/>
<circle cx="339" cy="520" r="2.6" fill="#000"/>
<circle cx="343" cy="518" r="2.6" fill="#000"/>
<circle cx="346.5" cy="512" r="2.6" fill="#000"/>
<circle cx="349" cy="521" r="2.6" fill="#000"/>
<circle cx="351.5" cy="524" r="2.6" fill="#000"/>
<circle cx="354" cy="519" r="2.6" fill="#000"/>
<circle cx="356" cy="525" r="2.6" fill="#000"/>
<circle cx="358.5" cy="527" r="2.6" fill="#000"/>
<circle cx="347" cy="518" r="2.6" fill="#000"/>
<circle cx="352" cy="517" r="2.6" fill="#000"/>
<circle cx="377" cy="507" r="2.6" fill="#000"/>
<circle cx="381" cy="503" r="2.6" fill="#000"/>
<circle cx="384" cy="507" r="2.6" fill="#000"/>
<circle cx="387.5" cy="502" r="2.6" fill="#000"/>
<circle cx="390" cy="509" r="2.6" fill="#000"/>
<circle cx="393" cy="501" r="2.6" fill="#000"/>
<circle cx="396" cy="507" r="2.6" fill="#000"/>
<circle cx="397" cy="514" r="2.6" fill="#000"/>
<circle cx="398" cy="503" r="2.6" fill="#000"/>
<circle cx="385" cy="508" r="2.6" fill="#000"/>
<circle cx="416" cy="502" r="2.6" fill="#000"/>
<circle cx="420" cy="515" r="2.6" fill="#000"/>
<circle cx="423" cy="493.5" r="2.6" fill="#000"/>
<circle cx="426" cy="514" r="2.6" fill="#000"/>
<circle cx="428" cy="497" r="2.6" fill="#000"/>
<circle cx="431" cy="505" r="2.6" fill="#000"/>
<circle cx="432" cy="498" r="2.6" fill="#000"/>
<circle cx="435" cy="520" r="2.6" fill="#000"/>
<circle cx="421" cy="504" r="2.6" fill="#000"/>
<circle cx="427" cy="508" r="2.6" fill="#000"/>
<circle cx="454" cy="511" r="2.6" fill="#000"/>
<circle cx="457" cy="517" r="2.6" fill="#000"/>
<circle cx="460.5" cy="497.5" r="2.6" fill="#000"/>
<circle cx="462" cy="512" r="2.6" fill="#000"/>
<circle cx="464" cy="515" r="2.6" fill="#000"/>
<circle cx="466" cy="498" r="2.6" fill="#000"/>
<circle cx="468" cy="519" r="2.6" fill="#000"/>
<circle cx="471" cy="510" r="2.6" fill="#000"/>
<circle cx="474" cy="520" r="2.6" fill="#000"/>
<circle cx="459" cy="509" r="2.6" fill="#000"/>
<circle cx="492" cy="506" r="2.6" fill="#000"/>
<circle cx="496" cy="510" r="2.6" fill="#000"/>
<circle cx="499" cy="497" r="2.6" fill="#000"/>
<circle cx="501" cy="514" r="2.6" fill="#000"/>
<circle cx="503" cy="506" r="2.6" fill="#000"/>
<circle cx="506" cy="501" r="2.6" fill="#000"/>
<circle cx="507" cy="513" r="2.6" fill="#000"/>
<circle cx="511" cy="505" r="2.6" fill="#000"/>
<circle cx="505.5" cy="522" r="2.6" fill="#000"/>
<circle cx="498" cy="506" r="2.6" fill="#000"/>
<line x1="323.7" y1="467.3" x2="323.7" y2="651.7" stroke="#111" stroke-width="1.4"/>
<line x1="316" y1="651.7" x2="527.5" y2="651.7" stroke="#111" stroke-width="1.4"/>
<line x1="316.5" y1="651.7" x2="323.7" y2="651.7" stroke="#111" stroke-width="1.4"/>
<text x="313" y="664.5" font-size="36" text-anchor="end">4</text>
<line x1="316.5" y1="605.78" x2="323.7" y2="605.78" stroke="#111" stroke-width="1.4"/>
<text x="313" y="618.58" font-size="36" text-anchor="end">5</text>
<line x1="316.5" y1="559.85" x2="323.7" y2="559.85" stroke="#111" stroke-width="1.4"/>
<text x="313" y="572.65" font-size="36" text-anchor="end">6</text>
<line x1="316.5" y1="513.92" x2="323.7" y2="513.92" stroke="#111" stroke-width="1.4"/>
<text x="313" y="526.72" font-size="36" text-anchor="end">7</text>
<line x1="316.5" y1="468" x2="323.7" y2="468" stroke="#111" stroke-width="1.4"/>
<text x="313" y="480.8" font-size="36" text-anchor="end">8</text>
<line x1="349" y1="651.7" x2="349" y2="658.2" stroke="#111" stroke-width="1.4"/>
<line x1="387.7" y1="651.7" x2="387.7" y2="658.2" stroke="#111" stroke-width="1.4"/>
<line x1="426" y1="651.7" x2="426" y2="658.2" stroke="#111" stroke-width="1.4"/>
<line x1="464" y1="651.7" x2="464" y2="658.2" stroke="#111" stroke-width="1.4"/>
<line x1="502.7" y1="651.7" x2="502.7" y2="658.2" stroke="#111" stroke-width="1.4"/>
<text x="315" y="694" font-size="37" textLength="55.5" lengthAdjust="spacingAndGlyphs">WT</text>
<text x="369.5" y="694" font-size="37" font-style="italic" textLength="31.5" lengthAdjust="spacingAndGlyphs">-1</text>
<text x="404.5" y="694" font-size="37" font-style="italic" textLength="31.5" lengthAdjust="spacingAndGlyphs">-2</text>
<text x="445.5" y="694" font-size="37" font-style="italic" textLength="31.5" lengthAdjust="spacingAndGlyphs">-1</text>
<text x="481.5" y="694" font-size="37" font-style="italic" textLength="31.5" lengthAdjust="spacingAndGlyphs">-2</text>
<line x1="377.5" y1="697" x2="441" y2="697" stroke="#000" stroke-width="1.4"/>
<line x1="459.5" y1="697" x2="524" y2="697" stroke="#000" stroke-width="1.4"/>
<text x="381" y="730" font-size="37" font-style="italic" textLength="51" lengthAdjust="spacingAndGlyphs">nut</text>
<text x="445.5" y="730" font-size="37" font-style="italic" textLength="146" lengthAdjust="spacingAndGlyphs">screw1/2</text>
<text x="344.5" y="371" font-size="27.8" textLength="132.5" lengthAdjust="spacingAndGlyphs"><tspan font-style="italic">P</tspan> = 0.0129</text>
<text x="344.5" y="411" font-size="27.8" textLength="132.5" lengthAdjust="spacingAndGlyphs"><tspan font-style="italic">P</tspan> = 0.0304</text>
<text x="344.5" y="450" font-size="27.8" textLength="132.5" lengthAdjust="spacingAndGlyphs"><tspan font-style="italic">P</tspan> = 0.0011</text>
<text x="344.5" y="488" font-size="27.8" textLength="132.5" lengthAdjust="spacingAndGlyphs"><tspan font-style="italic">P</tspan> = 0.0019</text>
<polyline points="348.7,378.7 501,378.7 501,380.5" fill="none" stroke="#000" stroke-width="1.5"/>
<polyline points="348.7,419.5 463,419.5 463,421.5" fill="none" stroke="#000" stroke-width="1.5"/>
<polyline points="348.7,458 425,458 425,460" fill="none" stroke="#000" stroke-width="1.5"/>
<polyline points="348.7,500 348.7,495.5 387,495.5 387,498" fill="none" stroke="#000" stroke-width="1.5"/>
<text x="660.5" y="355" font-size="37" font-weight="bold">e</text>
<rect x="863.3" y="357.5" width="274.4" height="379" fill="#898989"/>
<rect x="863.3" y="357.5" width="34.3" height="37.9" fill="#1f4a22"/>
<rect x="931.9" y="357.5" width="34.3" height="37.9" fill="#3a1417"/>
<rect x="863.3" y="395.4" width="34.3" height="37.9" fill="#1e8c48"/>
<rect x="931.9" y="395.4" width="34.3" height="37.9" fill="#1a3019"/>
<rect x="863.3" y="433.3" width="34.3" height="37.9" fill="#216a33"/>
<rect x="931.9" y="433.3" width="34.3" height="37.9" fill="#c1272d"/>
<rect x="863.3" y="471.2" width="34.3" height="37.9" fill="#22a04e"/>
<rect x="931.9" y="471.2" width="34.3" height="37.9" fill="#1c341c"/>
<rect x="863.3" y="509.1" width="34.3" height="37.9" fill="#1f6b34"/>
<rect x="897.6" y="509.1" width="34.3" height="37.9" fill="#1e7a3c"/>
<rect x="966.2" y="509.1" width="34.3" height="37.9" fill="#2bb24c"/>
<rect x="1000.5" y="509.1" width="34.3" height="37.9" fill="#1a331b"/>
<rect x="897.6" y="547" width="34.3" height="37.9" fill="#1e8543"/>
<rect x="966.2" y="547" width="34.3" height="37.9" fill="#1f7036"/>
<rect x="1000.5" y="547" width="34.3" height="37.9" fill="#1d5326"/>
<rect x="863.3" y="584.9" width="34.3" height="37.9" fill="#1e8241"/>
<rect x="897.6" y="584.9" width="34.3" height="37.9" fill="#1d5224"/>
<rect x="966.2" y="584.9" width="34.3" height="37.9" fill="#471519"/>
<rect x="1000.5" y="584.9" width="34.3" height="37.9" fill="#0c120c"/>
<rect x="897.6" y="622.8" width="34.3" height="37.9" fill="#1c3d1d"/>
<rect x="966.2" y="622.8" width="34.3" height="37.9" fill="#0e0e0c"/>
<rect x="1000.5" y="622.8" width="34.3" height="37.9" fill="#1c4520"/>
<rect x="966.2" y="660.7" width="34.3" height="37.9" fill="#1e8c45"/>
<rect x="1000.5" y="660.7" width="34.3" height="37.9" fill="#0d0b0d"/>
<rect x="1069.1" y="660.7" width="34.3" height="37.9" fill="#1d5224"/>
<rect x="1034.8" y="698.6" width="34.3" height="37.9" fill="#1f0b0c"/>
<rect x="1103.4" y="698.6" width="34.3" height="37.9" fill="#2f1114"/>
<line x1="863.3" y1="357.5" x2="863.3" y2="736.5" stroke="#0a0a0a" stroke-width="1.3"/>
<line x1="897.6" y1="357.5" x2="897.6" y2="736.5" stroke="#0a0a0a" stroke-width="1.3"/>
<line x1="931.9" y1="357.5" x2="931.9" y2="736.5" stroke="#0a0a0a" stroke-width="1.3"/>
<line x1="966.2" y1="357.5" x2="966.2" y2="736.5" stroke="#0a0a0a" stroke-width="1.3"/>
<line x1="1000.5" y1="357.5" x2="1000.5" y2="736.5" stroke="#0a0a0a" stroke-width="1.3"/>
<line x1="1034.8" y1="357.5" x2="1034.8" y2="736.5" stroke="#0a0a0a" stroke-width="1.3"/>
<line x1="1069.1" y1="357.5" x2="1069.1" y2="736.5" stroke="#0a0a0a" stroke-width="1.3"/>
<line x1="1103.4" y1="357.5" x2="1103.4" y2="736.5" stroke="#0a0a0a" stroke-width="1.3"/>
<line x1="1137.7" y1="357.5" x2="1137.7" y2="736.5" stroke="#0a0a0a" stroke-width="1.3"/>
<line x1="863.3" y1="357.5" x2="1137.7" y2="357.5" stroke="#0a0a0a" stroke-width="1.3"/>
<line x1="863.3" y1="395.4" x2="1137.7" y2="395.4" stroke="#0a0a0a" stroke-width="1.3"/>
<line x1="863.3" y1="433.3" x2="1137.7" y2="433.3" stroke="#0a0a0a" stroke-width="1.3"/>
<line x1="863.3" y1="471.2" x2="1137.7" y2="471.2" stroke="#0a0a0a" stroke-width="1.3"/>
<line x1="863.3" y1="509.1" x2="1137.7" y2="509.1" stroke="#0a0a0a" stroke-width="1.3"/>
<line x1="863.3" y1="547" x2="1137.7" y2="547" stroke="#0a0a0a" stroke-width="1.3"/>
<line x1="863.3" y1="584.9" x2="1137.7" y2="584.9" stroke="#0a0a0a" stroke-width="1.3"/>
<line x1="863.3" y1="622.8" x2="1137.7" y2="622.8" stroke="#0a0a0a" stroke-width="1.3"/>
<line x1="863.3" y1="660.7" x2="1137.7" y2="660.7" stroke="#0a0a0a" stroke-width="1.3"/>
<line x1="863.3" y1="698.6" x2="1137.7" y2="698.6" stroke="#0a0a0a" stroke-width="1.3"/>
<line x1="863.3" y1="736.5" x2="1137.7" y2="736.5" stroke="#0a0a0a" stroke-width="1.3"/>
<text x="880.95" y="353.5" font-size="30" text-anchor="middle" textLength="15" lengthAdjust="spacingAndGlyphs">1</text>
<text x="915.25" y="353.5" font-size="30" text-anchor="middle" textLength="15" lengthAdjust="spacingAndGlyphs">2</text>
<text x="949.55" y="353.5" font-size="30" text-anchor="middle" textLength="15" lengthAdjust="spacingAndGlyphs">4</text>
<text x="983.85" y="353.5" font-size="30" text-anchor="middle" textLength="15" lengthAdjust="spacingAndGlyphs">6</text>
<text x="1016.65" y="353.5" font-size="30" text-anchor="middle" textLength="29.5" lengthAdjust="spacingAndGlyphs">12</text>
<text x="1050.95" y="353.5" font-size="30" text-anchor="middle" textLength="29.5" lengthAdjust="spacingAndGlyphs">18</text>
<text x="1085.25" y="353.5" font-size="30" text-anchor="middle" textLength="29.5" lengthAdjust="spacingAndGlyphs">24</text>
<text x="1119.55" y="353.5" font-size="30" text-anchor="middle" textLength="29.5" lengthAdjust="spacingAndGlyphs">48</text>
<text x="1152.5" y="353.5" font-size="30">hpi</text>
<text x="857.5" y="395" font-size="37" text-anchor="end">flg22</text>
<text x="857.5" y="431" font-size="37" text-anchor="end">NLP</text>
<text x="857.5" y="468" font-size="37" text-anchor="end">HrpZ</text>
<text x="857.5" y="505.5" font-size="37" text-anchor="end">LPS</text>
<text x="857.5" y="544" font-size="37" text-anchor="end"><tspan font-style="italic">Pst</tspan> DC3000</text>
<text x="857.5" y="582" font-size="37" text-anchor="end" font-style="italic">Pst hrcC<tspan font-size="22" dy="-12">-</tspan></text>
<text x="855" y="620" font-size="37" text-anchor="end" font-style="italic">Pst avrRpm1</text>
<text x="857.5" y="657" font-size="37" text-anchor="end" font-style="italic">Psp</text>
<text x="857.5" y="694.5" font-size="37" text-anchor="end" font-style="italic">P. infestans</text>
<text x="857.5" y="732" font-size="37" text-anchor="end" font-style="italic">B. cinerea</text>
<rect x="1160" y="407.4" width="12.6" height="133.6" fill="url(#cbe)"/>
<text x="1177" y="427.6" font-size="27">4</text>
<text x="1177" y="460.3" font-size="27">3</text>
<text x="1177" y="491.7" font-size="27">2</text>
<text x="1177" y="524.7" font-size="27">1</text>
<text x="1177" y="557.4" font-size="27">0</text>
<text x="1153.4" y="394" font-size="30">log<tspan font-size="17" dy="4">2</tspan></text>
<text x="1247.5" y="355" font-size="37" font-weight="bold">f</text>
<text x="1294" y="410" font-size="36" font-style="italic" textLength="196" lengthAdjust="spacingAndGlyphs">pNUT::GUS</text>
<text x="1254.5" y="496.5" font-size="36" textLength="56" lengthAdjust="spacingAndGlyphs">Ctrl</text>
<text x="1232" y="642" font-size="36" textLength="77" lengthAdjust="spacingAndGlyphs">flg22</text>
<rect x="1316.3" y="420.7" width="139.7" height="140" fill="url(#pf)"/>
<g clip-path="url(#cf1)" filter="url(#soft2)">
<path d="M1438.0,419.7 C1439.4,421.3 1444.1,426.1 1446.5,429.2 C1448.9,432.4 1450.5,435.7 1452.2,438.7 C1453.9,441.7 1455.8,445.8 1456.5,447.2" fill="none" stroke="#5a5a58" stroke-width="2.6"/>
<path d="M1442.7,419.7 C1444.0,421.0 1448.1,424.5 1450.3,427.3 C1452.5,430.2 1455.1,435.2 1456.0,436.8" fill="none" stroke="#a9a9a6" stroke-width="1.6"/>
<path d="M1376.4,489.9 C1375.4,490.4 1372.9,491.6 1370.7,492.7 C1368.5,493.8 1365.5,495.9 1363.1,496.5 C1360.7,497.2 1358.7,497.2 1356.5,496.5 C1354.2,495.9 1352.3,495.0 1349.8,492.7 C1347.3,490.5 1344.0,486.3 1341.3,483.3 C1338.6,480.3 1335.7,477.4 1333.7,474.7 C1331.7,472.0 1329.8,470.0 1329.4,467.1 C1329.1,464.3 1330.6,461.1 1331.8,457.7 C1333.0,454.2 1335.0,449.9 1336.5,446.3 C1338.1,442.7 1339.1,439.2 1341.3,435.9 C1343.5,432.5 1346.8,428.8 1349.8,426.4 C1352.8,423.9 1357.7,422.0 1359.3,421.2" fill="none" stroke="#4f9fb8" stroke-width="1.5"/>
<path d="M1341.3,443.4 C1342.2,443.3 1345.2,443.6 1347.0,442.5 C1348.7,441.4 1350.9,437.8 1351.7,436.8" fill="none" stroke="#4f9fb8" stroke-width="1.2"/>
<path d="M1384.4,421.2 C1385.9,422.0 1390.7,424.9 1393.4,425.9 C1396.2,426.9 1398.2,426.3 1401.0,427.3 C1403.9,428.4 1407.5,429.7 1410.5,432.1 C1413.5,434.4 1416.8,437.8 1419.0,441.5 C1421.2,445.3 1423.0,452.6 1423.8,454.8" fill="none" stroke="#7ab4c6" stroke-width="1.3"/>
<path d="M1393.4,425.9 C1393.7,426.8 1394.2,429.3 1395.3,431.1 C1396.4,432.9 1399.1,434.3 1400.1,436.8 C1401.0,439.3 1400.9,444.7 1401.0,446.3" fill="none" stroke="#6aaec2" stroke-width="1.2"/>
<path d="M1355.5,484.2 C1356.1,485.2 1357.9,488.0 1359.3,489.9 C1360.7,491.8 1363.2,494.6 1364.0,495.6" fill="none" stroke="#9cc6d2" stroke-width="1.1"/>
<path d="M1361.2,511.7 C1362.1,512.6 1364.7,515.3 1366.9,517.4 C1369.1,519.4 1371.9,521.8 1374.5,524.0 C1377.0,526.2 1380.8,529.6 1382.1,530.7" fill="none" stroke="#7ab4c6" stroke-width="1.3"/>
<path d="M1368.8,519.3 C1370.0,519.4 1374.2,518.7 1376.4,520.2 C1378.6,521.8 1381.1,527.3 1382.1,528.8" fill="none" stroke="#9cc6d2" stroke-width="1"/>
<path d="M1363.1,500.3 C1362.8,502.2 1363.1,509.8 1361.2,511.7 C1359.3,513.6 1355.5,510.8 1351.7,511.7 C1347.9,512.6 1342.2,514.5 1338.4,517.4 C1334.6,520.2 1330.7,525.0 1329.0,528.8 C1327.2,532.6 1327.1,536.4 1328.0,540.1 C1329.0,543.9 1331.3,548.7 1334.6,551.5 C1338.0,554.4 1345.7,556.3 1347.9,557.2" fill="none" stroke="#c5d3d8" stroke-width="1.1"/>
<path d="M1419.0,509.8 C1421.4,511.4 1430.4,514.5 1433.2,519.3 C1436.1,524.0 1436.9,532.7 1436.1,538.2 C1435.3,543.8 1429.8,550.1 1428.5,552.5" fill="none" stroke="#d5dade" stroke-width="1.1"/>
<path d="M1435.1,471.9 C1434.8,474.3 1435.1,482.0 1433.2,486.1 C1431.4,490.2 1425.3,494.8 1423.8,496.5" fill="none" stroke="#9cc6d2" stroke-width="1"/>
<ellipse cx="1435.14" cy="451.5" rx="10.6" ry="16.6" fill="url(#cot1)" transform="rotate(14 1435.14 451.5)"/>
<path d="M1426.6,440.6 C1427.6,439.9 1430.4,436.7 1432.3,436.3 C1434.2,435.9 1436.4,437.0 1438.0,438.2 C1439.6,439.4 1441.1,442.6 1441.8,443.4" fill="none" stroke="#8fb08a" stroke-width="2.2" opacity="0.8"/>
<path d="M1432.3,465.2 C1431.4,466.5 1428.8,470.1 1426.6,472.8 C1424.4,475.5 1420.3,479.9 1419.0,481.4" fill="none" stroke="#cfcfae" stroke-width="3"/>
<path d="M1375.4,484.2 L1390.6,480.4 L1404.8,485.6 L1414.3,483.7 L1425.7,478.5 L1427.1,487.1 L1419.0,495.6 L1415.2,509.8 L1404.8,511.2 L1395.3,500.3 L1382.1,490.8Z" fill="#b4b684"/>
<path d="M1395.3,488.9 L1405.8,489.9 L1410.5,498.4 L1402.9,500.3Z" fill="#8e9160"/>
<path d="M1378.3,485.2 L1390.6,481.4 L1395.3,485.2 L1385.8,489.9Z" fill="#8fae8a" opacity="0.8"/>
<path d="M1409.5,485.2 L1417.1,484.2 L1415.2,489.9Z" fill="#7f8250"/>
<ellipse cx="1402.43" cy="528.77" rx="16.8" ry="16.2" fill="url(#cot1)" transform="rotate(-10 1402.43 528.77)"/>
<path d="M1401.0,542.0 C1402.0,542.0 1405.0,542.0 1406.7,541.6 C1408.4,541.1 1410.7,539.6 1411.4,539.2" fill="none" stroke="#6fae9f" stroke-width="1.8" opacity="0.8"/>
</g>
<line x1="1320.9" y1="526" x2="1320.9" y2="554.8" stroke="#111" stroke-width="2.1"/>
<rect x="1316.3" y="566.2" width="139.7" height="139.5" fill="url(#pf)"/>
<g clip-path="url(#cf2)" filter="url(#soft2)">
<path d="M1316,566 L1323,566 L1316,573 Z" fill="#8a8a8a"/>
<path d="M1347.9,591.3 C1349.0,590.7 1352.0,588.1 1354.6,587.5 C1357.1,586.9 1360.2,587.0 1363.1,587.5 C1365.9,588.0 1368.8,588.8 1371.6,590.3 C1374.5,591.9 1377.5,594.4 1380.2,597.0 C1382.8,599.5 1385.5,602.5 1387.7,605.5 C1390.0,608.5 1391.7,611.5 1393.4,615.0 C1395.2,618.5 1396.9,622.4 1398.2,626.4 C1399.4,630.3 1400.5,634.6 1401.0,638.7 C1401.5,642.8 1401.5,647.4 1401.0,651.0 C1400.5,654.6 1399.7,658.0 1398.2,660.5 C1396.6,663.0 1393.9,665.1 1391.5,666.2 C1389.2,667.3 1385.2,667.0 1383.9,667.1" fill="none" stroke="#9cc8cc" stroke-width="1.4"/>
<path d="M1347.9,591.3 C1347.6,592.4 1345.7,595.9 1346.0,597.9 C1346.3,600.0 1347.6,602.0 1349.8,603.6 C1352.0,605.2 1356.5,605.8 1359.3,607.4 C1362.1,609.0 1365.0,610.7 1366.9,613.1 C1368.8,615.5 1369.9,618.1 1370.7,621.6 C1371.5,625.1 1371.3,630.0 1371.6,633.9 C1371.9,637.9 1371.9,641.8 1372.6,645.3 C1373.2,648.8 1374.3,652.0 1375.4,654.8 C1376.5,657.6 1377.6,660.0 1379.2,662.4 C1380.8,664.8 1383.9,667.9 1384.9,669.0" fill="none" stroke="#9cc8cc" stroke-width="1.4"/>
<path d="M1343.2,635.8 C1344.3,635.5 1347.4,633.8 1349.8,633.9 C1352.2,634.1 1355.2,635.5 1357.4,636.8 C1359.6,638.1 1362.1,640.7 1363.1,641.5" fill="none" stroke="#9cc8cc" stroke-width="1.1"/>
<path d="M1403.9,625.4 C1402.4,626.0 1398.0,627.5 1395.3,629.2 C1392.6,630.9 1390.4,633.8 1387.7,635.8 C1385.1,637.9 1382.1,640.1 1379.2,641.5 C1376.4,643.0 1373.7,644.1 1370.7,644.4 C1367.7,644.7 1364.7,643.3 1361.2,643.4 C1357.7,643.6 1353.6,644.5 1349.8,645.3 C1346.0,646.1 1341.6,646.7 1338.4,648.2 C1335.3,649.6 1332.3,651.5 1330.9,653.9 C1329.4,656.2 1329.3,659.1 1329.9,662.4 C1330.5,665.7 1332.4,670.0 1334.6,673.8 C1336.9,677.6 1340.0,682.0 1343.2,685.1 C1346.3,688.3 1349.7,690.8 1353.6,692.7 C1357.6,694.6 1362.1,695.7 1366.9,696.5 C1371.6,697.3 1377.3,697.6 1382.1,697.5 C1386.8,697.3 1390.7,696.4 1395.3,695.6 C1399.9,694.8 1405.6,693.7 1409.5,692.7 C1413.5,691.8 1416.3,691.3 1419.0,689.9 C1421.7,688.5 1424.6,685.1 1425.7,684.2" fill="none" stroke="#3a9bb5" stroke-width="1.9"/>
<path d="M1343.2,644.4 C1343.7,645.5 1344.4,649.3 1346.0,651.0 C1347.6,652.8 1350.5,653.2 1352.7,654.8 C1354.9,656.4 1356.9,658.9 1359.3,660.5 C1361.7,662.1 1364.0,663.0 1366.9,664.3 C1369.7,665.5 1373.2,667.0 1376.4,668.1 C1379.5,669.2 1382.7,670.1 1385.8,670.9 C1389.0,671.7 1392.8,672.3 1395.3,672.8 C1397.9,673.3 1399.4,672.8 1401.0,673.8 C1402.6,674.7 1402.9,676.9 1404.8,678.5 C1406.7,680.1 1408.9,682.3 1412.4,683.2 C1415.9,684.2 1423.4,684.0 1425.7,684.2" fill="none" stroke="#3a9bb5" stroke-width="1.7"/>
<path d="M1355.5,686.1 C1356.5,685.5 1359.5,682.8 1361.2,682.3 C1362.9,681.8 1364.4,682.6 1365.9,683.2 C1367.5,683.9 1369.9,685.6 1370.7,686.1" fill="none" stroke="#6fb3c4" stroke-width="1.2"/>
<path d="M1324.2,649.1 L1338.4,650.1" fill="none" stroke="#6fb3c4" stroke-width="1.2"/>
<path d="M1349.8,696.5 C1352.7,697.2 1361.2,699.4 1366.9,700.3 C1372.6,701.3 1381.1,701.9 1383.9,702.2" fill="none" stroke="#9cc8cc" stroke-width="1.2"/>
<path d="M1414.3,692.7 L1420.9,693.7" fill="none" stroke="#6fb3c4" stroke-width="1.2"/>
<path d="M1403.9,625.4 C1405.0,625.1 1408.0,624.0 1410.5,623.5 C1413.0,623.0 1416.3,622.4 1419.0,622.6 C1421.7,622.7 1425.3,624.2 1426.6,624.5" fill="none" stroke="#c3c78c" stroke-width="2.2"/>
<path d="M1398.2,627.8 L1403.9,625.4" fill="none" stroke="#2a8aa0" stroke-width="2.6"/>
<path d="M1427.6,632.1 C1427.3,633.5 1426.9,637.6 1426.1,640.6 C1425.3,643.6 1423.4,648.5 1422.8,650.1" fill="none" stroke="#a3c6bf" stroke-width="3.4"/>
<ellipse cx="1413.81" cy="662.39" rx="14.9" ry="13.5" fill="url(#cot2)" transform="rotate(-15 1413.81 662.39)"/>
<path d="M1418.1,584.6 C1419.5,583.4 1423.6,582.6 1426.6,582.8 C1429.6,582.9 1433.4,584.0 1436.1,585.6 C1438.8,587.2 1441.3,589.9 1442.7,592.2 C1444.1,594.6 1444.9,597.4 1444.6,599.8 C1444.3,602.2 1442.4,604.6 1440.8,606.5 C1439.3,608.4 1437.2,610.2 1435.1,611.2 C1433.1,612.1 1429.9,612.8 1428.5,612.1 C1427.1,611.5 1427.7,609.0 1426.6,607.4 C1425.5,605.8 1422.8,604.6 1421.9,602.7 C1420.9,600.8 1421.6,598.1 1420.9,596.0 C1420.3,594.0 1418.6,592.2 1418.1,590.3 C1417.6,588.4 1416.7,585.9 1418.1,584.6Z" fill="#1d7f8e"/>
<path d="M1422.8,597.9 C1424.1,597.3 1427.7,594.9 1430.4,594.1 C1433.1,593.3 1437.5,593.3 1438.9,593.2" fill="none" stroke="#6aa99a" stroke-width="3.2" opacity="0.9"/>
<path d="M1423.8,588.4 C1425.0,588.3 1429.0,587.2 1431.4,587.5 C1433.7,587.8 1436.9,589.9 1438.0,590.3" fill="none" stroke="#2f95a0" stroke-width="3.5" opacity="0.8"/>
<path d="M1427.6,625.4 C1427.9,624.3 1428.7,620.8 1429.5,618.8 C1430.2,616.7 1431.8,614.0 1432.3,613.1" fill="none" stroke="#2a8f98" stroke-width="3.6"/>
<circle cx="1427.56" cy="627.79" r="3.4" fill="#17707c"/>
<circle cx="1425.19" cy="624.47" r="1.8" fill="#b9c070"/>
<circle cx="1435.14" cy="622.57" r="1.8" fill="#c9cf85"/>
<path d="M1431.4,632.1 C1431.8,631.7 1434.8,635.2 1437.0,635.8 C1439.3,636.5 1443.7,634.3 1444.6,635.8 C1445.6,637.4 1443.8,642.5 1442.7,645.3 C1441.6,648.2 1439.7,651.3 1438.0,652.9 C1436.2,654.5 1433.7,655.4 1432.3,654.8 C1430.9,654.2 1429.3,651.0 1429.5,649.1 C1429.6,647.2 1432.5,645.3 1433.2,643.4 C1434.0,641.5 1434.5,639.6 1434.2,637.7 C1433.9,635.8 1430.9,632.4 1431.4,632.1Z" fill="#2b8c9a"/>
<path d="M1436.1,638.7 C1436.9,639.0 1440.2,639.2 1440.8,640.6 C1441.5,642.0 1440.0,646.1 1439.9,647.2" fill="none" stroke="#1c7482" stroke-width="3" opacity="0.8"/>
</g>
<line x1="1320.9" y1="668" x2="1320.9" y2="696.5" stroke="#111" stroke-width="2.1"/>
<text x="1528.5" y="355" font-size="37" font-weight="bold">i</text>
<rect x="1686.8" y="371.9" width="74.2" height="70.5" fill="#0b0b0d"/>
<g clip-path="url(#ci0)" filter="url(#rough2)">
<path d="M1700.4,445.4 L1699.6,427.0 C1697.5,420.7 1688.2,416.5 1688.2,398.2 C1688.2,385.1 1695.6,376.7 1701.7,374.6 C1707.8,376.7 1715.2,385.1 1715.2,398.2 C1715.2,416.5 1705.9,420.7 1703.8,427.0 L1703.0,445.4 Z" fill="url(#li)"/>
<line x1="1701.7" y1="380.6" x2="1701.7" y2="427" stroke="#a5dd70" stroke-width="1" opacity="0.35"/>
<circle cx="1698.7" cy="398.4" r="3.6" fill="#c9c4b8"/>
<circle cx="1698.7" cy="398.4" r="1.7" fill="#8a6f60"/>
<path d="M1738.9,445.4 L1738.1,428.0 C1736.0,421.7 1725.5,417.5 1725.5,399.1 C1725.5,386.0 1733.6,377.6 1740.2,375.5 C1746.8,377.6 1755.0,386.0 1755.0,399.1 C1755.0,417.5 1744.4,421.7 1742.3,428.0 L1741.5,445.4 Z" fill="url(#li)"/>
<line x1="1740.2" y1="381.5" x2="1740.2" y2="428" stroke="#a5dd70" stroke-width="1" opacity="0.35"/>
<circle cx="1740.5" cy="398.4" r="3.6" fill="#c9c4b8"/>
<circle cx="1740.5" cy="398.4" r="1.7" fill="#8a6f60"/>
</g>
<rect x="1686.8" y="447.4" width="74.2" height="70.3" fill="#0b0b0d"/>
<g clip-path="url(#ci1)" filter="url(#rough2)">
<path d="M1703.7,520.7 L1702.9,512.0 C1700.8,504.8 1688.8,500.0 1688.8,479.0 C1688.8,464.0 1697.7,454.4 1705.0,452.0 C1712.3,454.4 1721.2,464.0 1721.2,479.0 C1721.2,500.0 1709.2,504.8 1707.1,512.0 L1706.3,520.7 Z" fill="url(#li)"/>
<line x1="1705" y1="458" x2="1705" y2="512" stroke="#a5dd70" stroke-width="1" opacity="0.35"/>
<ellipse cx="1705.8" cy="476.2" rx="5.2" ry="6.4" fill="#26331f" opacity="0.9"/>
<circle cx="1705.8" cy="475.7" r="2.6" fill="#474a42"/>
<circle cx="1706.4" cy="475.2" r="1.1" fill="#80837a"/>
<path d="M1739.7,520.7 L1738.9,505.0 C1736.8,498.8 1726.0,494.6 1726.0,476.4 C1726.0,463.4 1734.2,455.1 1741.0,453.0 C1747.8,455.1 1756.0,463.4 1756.0,476.4 C1756.0,494.6 1745.2,498.8 1743.1,505.0 L1742.3,520.7 Z" fill="url(#li)"/>
<line x1="1741" y1="459" x2="1741" y2="505" stroke="#a5dd70" stroke-width="1" opacity="0.35"/>
<ellipse cx="1739.7" cy="477.2" rx="5.2" ry="6.4" fill="#26331f" opacity="0.9"/>
<circle cx="1739.7" cy="476.7" r="2.6" fill="#474a42"/>
<circle cx="1740.3" cy="476.2" r="1.1" fill="#80837a"/>
</g>
<rect x="1686.8" y="523" width="74.2" height="70" fill="#0b0b0d"/>
<g clip-path="url(#ci2)" filter="url(#rough2)">
<path d="M1703.2,596.0 L1702.4,584.0 C1700.3,577.3 1689.2,572.8 1689.2,553.2 C1689.2,539.2 1697.6,530.2 1704.5,528.0 C1711.4,530.2 1719.8,539.2 1719.8,553.2 C1719.8,572.8 1708.7,577.3 1706.6,584.0 L1705.8,596.0 Z" fill="url(#li)"/>
<line x1="1704.5" y1="534" x2="1704.5" y2="584" stroke="#a5dd70" stroke-width="1" opacity="0.35"/>
<ellipse cx="1705" cy="552" rx="5.2" ry="6.4" fill="#26331f" opacity="0.9"/>
<circle cx="1705" cy="551.5" r="2.6" fill="#474a42"/>
<circle cx="1705.6" cy="551" r="1.1" fill="#80837a"/>
<path d="M1739.7,596.0 L1738.9,582.0 C1736.8,575.6 1726.5,571.4 1726.5,552.9 C1726.5,539.6 1734.5,531.1 1741.0,529.0 C1747.5,531.1 1755.5,539.6 1755.5,552.9 C1755.5,571.4 1745.2,575.6 1743.1,582.0 L1742.3,596.0 Z" fill="url(#li)"/>
<line x1="1741" y1="535" x2="1741" y2="582" stroke="#a5dd70" stroke-width="1" opacity="0.35"/>
<ellipse cx="1740" cy="553" rx="5.2" ry="6.4" fill="#26331f" opacity="0.9"/>
<circle cx="1740" cy="552.5" r="2.6" fill="#474a42"/>
<circle cx="1740.6" cy="552" r="1.1" fill="#80837a"/>
</g>
<rect x="1686.8" y="597.9" width="74.2" height="69.8" fill="#0b0b0d"/>
<g clip-path="url(#ci3)" filter="url(#rough2)">
<path d="M1703.7,670.7 L1702.9,657.0 C1700.8,651.1 1691.2,647.2 1691.2,630.0 C1691.2,617.8 1698.8,610.0 1705.0,608.0 C1711.2,610.0 1718.8,617.8 1718.8,630.0 C1718.8,647.2 1709.2,651.1 1707.1,657.0 L1706.3,670.7 Z" fill="url(#li2)"/>
<line x1="1705" y1="614" x2="1705" y2="657" stroke="#a5dd70" stroke-width="1" opacity="0.35"/>
<circle cx="1706.3" cy="629" r="6.2" fill="#223020" opacity="0.9"/>
<circle cx="1706.3" cy="629" r="3.1" fill="#8f8e88"/>
<circle cx="1706.7" cy="628.6" r="1.5" fill="#bdbcb4"/>
<path d="M1739.2,670.7 L1738.4,658.0 C1736.3,652.6 1727.5,649.0 1727.5,633.2 C1727.5,622.0 1734.7,614.8 1740.5,613.0 C1746.3,614.8 1753.5,622.0 1753.5,633.2 C1753.5,649.0 1744.7,652.6 1742.6,658.0 L1741.8,670.7 Z" fill="url(#li2)"/>
<line x1="1740.5" y1="619" x2="1740.5" y2="658" stroke="#a5dd70" stroke-width="1" opacity="0.35"/>
<circle cx="1740.7" cy="634" r="6.2" fill="#223020" opacity="0.9"/>
<circle cx="1740.7" cy="634" r="3.1" fill="#8f8e88"/>
<circle cx="1741.1" cy="633.6" r="1.5" fill="#bdbcb4"/>
</g>
<rect x="1686.8" y="673.1" width="74.2" height="70.6" fill="#0b0b0d"/>
<g clip-path="url(#ci4)" filter="url(#rough2)">
<path d="M1703.7,746.7 L1702.9,733.0 C1700.8,726.8 1691.8,722.6 1691.8,704.4 C1691.8,691.4 1699.0,683.1 1705.0,681.0 C1711.0,683.1 1718.2,691.4 1718.2,704.4 C1718.2,722.6 1709.2,726.8 1707.1,733.0 L1706.3,746.7 Z" fill="url(#li2)"/>
<line x1="1705" y1="687" x2="1705" y2="733" stroke="#a5dd70" stroke-width="1" opacity="0.35"/>
<circle cx="1704.8" cy="707.3" r="6.2" fill="#223020" opacity="0.9"/>
<circle cx="1704.8" cy="707.3" r="3.1" fill="#8f8e88"/>
<circle cx="1705.2" cy="706.9" r="1.5" fill="#bdbcb4"/>
<path d="M1739.7,746.7 L1738.9,734.0 C1736.8,727.6 1727.0,723.3 1727.0,704.6 C1727.0,691.2 1734.7,682.6 1741.0,680.5 C1747.3,682.6 1755.0,691.2 1755.0,704.6 C1755.0,723.3 1745.2,727.6 1743.1,734.0 L1742.3,746.7 Z" fill="url(#li2)"/>
<line x1="1741" y1="686.5" x2="1741" y2="734" stroke="#a5dd70" stroke-width="1" opacity="0.35"/>
<circle cx="1740.7" cy="704.3" r="6.2" fill="#223020" opacity="0.9"/>
<circle cx="1740.7" cy="704.3" r="3.1" fill="#8f8e88"/>
<circle cx="1741.1" cy="703.9" r="1.5" fill="#bdbcb4"/>
</g>
<text x="1680" y="428" font-size="36.5" text-anchor="end">WT</text>
<text x="1678" y="499" font-size="36.5" text-anchor="end" font-style="italic">nut-1</text>
<text x="1678" y="579" font-size="36.5" text-anchor="end" font-style="italic">nut-2</text>
<text x="1681" y="631.5" font-size="36.5" text-anchor="end" font-style="italic" textLength="149" lengthAdjust="spacingAndGlyphs">screw1/2</text>
<text x="1621" y="664.5" font-size="36.5" text-anchor="end" font-style="italic">-1</text>
<text x="1681" y="708" font-size="36.5" text-anchor="end" font-style="italic" textLength="149" lengthAdjust="spacingAndGlyphs">screw1/2</text>
<text x="1621" y="742.5" font-size="36.5" text-anchor="end" font-style="italic">-2</text>
<text x="1799" y="745.5" font-size="36.5" transform="rotate(-90 1799 745.5)" textLength="363" lengthAdjust="spacingAndGlyphs">Lesion diameter (mm)</text>
<rect x="1848.5" y="621" width="24.5" height="47.7" fill="#d3d3d3" stroke="#111" stroke-width="1.3"/>
<line x1="1860.75" y1="605" x2="1860.75" y2="637" stroke="#000" stroke-width="1.3"/>
<line x1="1853.75" y1="605" x2="1867.75" y2="605" stroke="#000" stroke-width="1.3"/>
<line x1="1853.75" y1="637" x2="1867.75" y2="637" stroke="#000" stroke-width="1.3"/>
<rect x="1893.5" y="598.7" width="24.5" height="70" fill="#fcdcc2" stroke="#111" stroke-width="1.3"/>
<line x1="1905.75" y1="580" x2="1905.75" y2="617" stroke="#000" stroke-width="1.3"/>
<line x1="1898.75" y1="580" x2="1912.75" y2="580" stroke="#000" stroke-width="1.3"/>
<line x1="1898.75" y1="617" x2="1912.75" y2="617" stroke="#000" stroke-width="1.3"/>
<rect x="1938.5" y="586.7" width="24.5" height="82" fill="#fcdcc2" stroke="#111" stroke-width="1.3"/>
<line x1="1950.75" y1="551" x2="1950.75" y2="622" stroke="#000" stroke-width="1.3"/>
<line x1="1943.75" y1="551" x2="1957.75" y2="551" stroke="#000" stroke-width="1.3"/>
<line x1="1943.75" y1="622" x2="1957.75" y2="622" stroke="#000" stroke-width="1.3"/>
<rect x="1983.7" y="587.5" width="24.5" height="81.2" fill="#2bb673" stroke="#111" stroke-width="1.3"/>
<line x1="1995.95" y1="556" x2="1995.95" y2="620" stroke="#000" stroke-width="1.3"/>
<line x1="1988.95" y1="556" x2="2002.95" y2="556" stroke="#000" stroke-width="1.3"/>
<line x1="1988.95" y1="620" x2="2002.95" y2="620" stroke="#000" stroke-width="1.3"/>
<rect x="2028.5" y="581" width="24.5" height="87.7" fill="#2bb673" stroke="#111" stroke-width="1.3"/>
<line x1="2040.75" y1="550" x2="2040.75" y2="612" stroke="#000" stroke-width="1.3"/>
<line x1="2033.75" y1="550" x2="2047.75" y2="550" stroke="#000" stroke-width="1.3"/>
<line x1="2033.75" y1="612" x2="2047.75" y2="612" stroke="#000" stroke-width="1.3"/>
<circle cx="1861" cy="583" r="2.35" fill="#000"/>
<circle cx="1861" cy="596.5" r="2.35" fill="#000"/>
<circle cx="1855.6" cy="596.5" r="2.35" fill="#000"/>
<circle cx="1861" cy="604" r="2.35" fill="#000"/>
<circle cx="1855.6" cy="607" r="2.35" fill="#000"/>
<circle cx="1866.4" cy="607" r="2.35" fill="#000"/>
<circle cx="1850.5" cy="607.5" r="2.35" fill="#000"/>
<circle cx="1861" cy="612" r="2.35" fill="#000"/>
<circle cx="1855.6" cy="612" r="2.35" fill="#000"/>
<circle cx="1866.4" cy="612" r="2.35" fill="#000"/>
<circle cx="1850.5" cy="616" r="2.35" fill="#000"/>
<circle cx="1871.5" cy="616" r="2.35" fill="#000"/>
<circle cx="1861" cy="621" r="2.35" fill="#000"/>
<circle cx="1855.6" cy="621" r="2.35" fill="#000"/>
<circle cx="1866.4" cy="621" r="2.35" fill="#000"/>
<circle cx="1850.5" cy="621" r="2.35" fill="#000"/>
<circle cx="1861" cy="626" r="2.35" fill="#000"/>
<circle cx="1855.6" cy="626" r="2.35" fill="#000"/>
<circle cx="1861" cy="631" r="2.35" fill="#000"/>
<circle cx="1855.6" cy="631" r="2.35" fill="#000"/>
<circle cx="1866.4" cy="631" r="2.35" fill="#000"/>
<circle cx="1861" cy="636" r="2.35" fill="#000"/>
<circle cx="1855.6" cy="636" r="2.35" fill="#000"/>
<circle cx="1866.4" cy="636" r="2.35" fill="#000"/>
<circle cx="1850.5" cy="640" r="2.35" fill="#000"/>
<circle cx="1871.5" cy="640" r="2.35" fill="#000"/>
<circle cx="1861" cy="645" r="2.35" fill="#000"/>
<circle cx="1855.6" cy="645" r="2.35" fill="#000"/>
<circle cx="1866.4" cy="647" r="2.35" fill="#000"/>
<circle cx="1866.4" cy="596.21" r="2.35" fill="#000"/>
<circle cx="1850.5" cy="596.86" r="2.35" fill="#000"/>
<circle cx="1871.5" cy="606.55" r="2.35" fill="#000"/>
<circle cx="1906" cy="552.5" r="2.35" fill="#000"/>
<circle cx="1906" cy="575" r="2.35" fill="#000"/>
<circle cx="1900.6" cy="578" r="2.35" fill="#000"/>
<circle cx="1906" cy="580" r="2.35" fill="#000"/>
<circle cx="1911.4" cy="582" r="2.35" fill="#000"/>
<circle cx="1906" cy="586" r="2.35" fill="#000"/>
<circle cx="1900.6" cy="586" r="2.35" fill="#000"/>
<circle cx="1906" cy="591" r="2.35" fill="#000"/>
<circle cx="1900.6" cy="591" r="2.35" fill="#000"/>
<circle cx="1906" cy="596" r="2.35" fill="#000"/>
<circle cx="1900.6" cy="596" r="2.35" fill="#000"/>
<circle cx="1911.4" cy="600" r="2.35" fill="#000"/>
<circle cx="1895.5" cy="600" r="2.35" fill="#000"/>
<circle cx="1916.5" cy="600" r="2.35" fill="#000"/>
<circle cx="1906" cy="606" r="2.35" fill="#000"/>
<circle cx="1900.6" cy="606" r="2.35" fill="#000"/>
<circle cx="1906" cy="611" r="2.35" fill="#000"/>
<circle cx="1900.6" cy="611" r="2.35" fill="#000"/>
<circle cx="1911.4" cy="611" r="2.35" fill="#000"/>
<circle cx="1906" cy="616" r="2.35" fill="#000"/>
<circle cx="1900.6" cy="616" r="2.35" fill="#000"/>
<circle cx="1911.4" cy="616" r="2.35" fill="#000"/>
<circle cx="1895.5" cy="616" r="2.35" fill="#000"/>
<circle cx="1906" cy="632" r="2.35" fill="#000"/>
<circle cx="1900.6" cy="636" r="2.35" fill="#000"/>
<circle cx="1895.5" cy="577.78" r="2.35" fill="#000"/>
<circle cx="1916.5" cy="579.64" r="2.35" fill="#000"/>
<circle cx="1895.5" cy="584.05" r="2.35" fill="#000"/>
<circle cx="1951" cy="497" r="2.35" fill="#000"/>
<circle cx="1951" cy="527" r="2.35" fill="#000"/>
<circle cx="1951" cy="575" r="2.35" fill="#000"/>
<circle cx="1945.6" cy="575" r="2.35" fill="#000"/>
<circle cx="1956.4" cy="575" r="2.35" fill="#000"/>
<circle cx="1940.5" cy="578" r="2.35" fill="#000"/>
<circle cx="1951" cy="580" r="2.35" fill="#000"/>
<circle cx="1951" cy="585" r="2.35" fill="#000"/>
<circle cx="1951" cy="592" r="2.35" fill="#000"/>
<circle cx="1945.6" cy="592" r="2.35" fill="#000"/>
<circle cx="1951" cy="603" r="2.35" fill="#000"/>
<circle cx="1945.6" cy="603" r="2.35" fill="#000"/>
<circle cx="1956.4" cy="607" r="2.35" fill="#000"/>
<circle cx="1940.5" cy="607" r="2.35" fill="#000"/>
<circle cx="1951" cy="611" r="2.35" fill="#000"/>
<circle cx="1945.6" cy="611" r="2.35" fill="#000"/>
<circle cx="1956.4" cy="614" r="2.35" fill="#000"/>
<circle cx="1940.5" cy="614" r="2.35" fill="#000"/>
<circle cx="1951" cy="619" r="2.35" fill="#000"/>
<circle cx="1951" cy="635" r="2.35" fill="#000"/>
<circle cx="1945.6" cy="637" r="2.35" fill="#000"/>
<circle cx="1951" cy="641" r="2.35" fill="#000"/>
<circle cx="1945.6" cy="582.75" r="2.35" fill="#000"/>
<circle cx="1956.4" cy="587.08" r="2.35" fill="#000"/>
<circle cx="1940.5" cy="589" r="2.35" fill="#000"/>
<circle cx="1995.5" cy="527" r="2.35" fill="#000"/>
<circle cx="1995.5" cy="539" r="2.35" fill="#000"/>
<circle cx="1995.5" cy="546" r="2.35" fill="#000"/>
<circle cx="1990.1" cy="546" r="2.35" fill="#000"/>
<circle cx="2000.9" cy="549" r="2.35" fill="#000"/>
<circle cx="1995.5" cy="575" r="2.35" fill="#000"/>
<circle cx="1995.5" cy="580" r="2.35" fill="#000"/>
<circle cx="1990.1" cy="580" r="2.35" fill="#000"/>
<circle cx="2000.9" cy="582" r="2.35" fill="#000"/>
<circle cx="1985" cy="584" r="2.35" fill="#000"/>
<circle cx="2006" cy="584" r="2.35" fill="#000"/>
<circle cx="1995.5" cy="590" r="2.35" fill="#000"/>
<circle cx="1990.1" cy="594" r="2.35" fill="#000"/>
<circle cx="1995.5" cy="601" r="2.35" fill="#000"/>
<circle cx="1990.1" cy="601" r="2.35" fill="#000"/>
<circle cx="1995.5" cy="608" r="2.35" fill="#000"/>
<circle cx="1990.1" cy="608" r="2.35" fill="#000"/>
<circle cx="1995.5" cy="613" r="2.35" fill="#000"/>
<circle cx="1995.5" cy="618" r="2.35" fill="#000"/>
<circle cx="1990.1" cy="618" r="2.35" fill="#000"/>
<circle cx="1995.5" cy="629" r="2.35" fill="#000"/>
<circle cx="1995.5" cy="635" r="2.35" fill="#000"/>
<circle cx="1995.5" cy="644" r="2.35" fill="#000"/>
<circle cx="1990.1" cy="574" r="2.35" fill="#000"/>
<circle cx="1988.12" cy="582.78" r="2.35" fill="#000"/>
<circle cx="1998.37" cy="581.55" r="2.35" fill="#000"/>
<circle cx="2040.5" cy="516" r="2.35" fill="#000"/>
<circle cx="2040.5" cy="525" r="2.35" fill="#000"/>
<circle cx="2035.1" cy="528" r="2.35" fill="#000"/>
<circle cx="2040.5" cy="532" r="2.35" fill="#000"/>
<circle cx="2045.9" cy="532" r="2.35" fill="#000"/>
<circle cx="2040.5" cy="560" r="2.35" fill="#000"/>
<circle cx="2035.1" cy="561" r="2.35" fill="#000"/>
<circle cx="2040.5" cy="578" r="2.35" fill="#000"/>
<circle cx="2035.1" cy="582" r="2.35" fill="#000"/>
<circle cx="2045.9" cy="582" r="2.35" fill="#000"/>
<circle cx="2040.5" cy="587" r="2.35" fill="#000"/>
<circle cx="2035.1" cy="587" r="2.35" fill="#000"/>
<circle cx="2045.9" cy="590" r="2.35" fill="#000"/>
<circle cx="2040.5" cy="594" r="2.35" fill="#000"/>
<circle cx="2035.1" cy="594" r="2.35" fill="#000"/>
<circle cx="2040.5" cy="601" r="2.35" fill="#000"/>
<circle cx="2040.5" cy="606" r="2.35" fill="#000"/>
<circle cx="2035.1" cy="606" r="2.35" fill="#000"/>
<circle cx="2040.5" cy="611" r="2.35" fill="#000"/>
<circle cx="2035.1" cy="611" r="2.35" fill="#000"/>
<circle cx="2045.9" cy="613" r="2.35" fill="#000"/>
<circle cx="2040.5" cy="618" r="2.35" fill="#000"/>
<circle cx="2035.1" cy="618" r="2.35" fill="#000"/>
<circle cx="2035.1" cy="575.7" r="2.35" fill="#000"/>
<circle cx="2030" cy="581.52" r="2.35" fill="#000"/>
<circle cx="2051" cy="580.28" r="2.35" fill="#000"/>
<line x1="1836.7" y1="475" x2="1836.7" y2="668.7" stroke="#111" stroke-width="1.4"/>
<line x1="1831.7" y1="668.7" x2="2068" y2="668.7" stroke="#111" stroke-width="1.4"/>
<line x1="1830" y1="668.7" x2="1836.7" y2="668.7" stroke="#111" stroke-width="1.4"/>
<text x="1829" y="681.2" font-size="35" text-anchor="end">2</text>
<line x1="1830" y1="613.3" x2="1836.7" y2="613.3" stroke="#111" stroke-width="1.4"/>
<text x="1829" y="625.8" font-size="35" text-anchor="end">4</text>
<line x1="1830" y1="557.9" x2="1836.7" y2="557.9" stroke="#111" stroke-width="1.4"/>
<text x="1829" y="570.4" font-size="35" text-anchor="end">6</text>
<line x1="1830" y1="502.5" x2="1836.7" y2="502.5" stroke="#111" stroke-width="1.4"/>
<text x="1829" y="515" font-size="35" text-anchor="end">8</text>
<line x1="1861" y1="668.7" x2="1861" y2="674.7" stroke="#111" stroke-width="1.4"/>
<line x1="1906" y1="668.7" x2="1906" y2="674.7" stroke="#111" stroke-width="1.4"/>
<line x1="1951" y1="668.7" x2="1951" y2="674.7" stroke="#111" stroke-width="1.4"/>
<line x1="1995.5" y1="668.7" x2="1995.5" y2="674.7" stroke="#111" stroke-width="1.4"/>
<line x1="2040.5" y1="668.7" x2="2040.5" y2="674.7" stroke="#111" stroke-width="1.4"/>
<text x="1828.5" y="715" font-size="36.5" textLength="56" lengthAdjust="spacingAndGlyphs">WT</text>
<text x="1890.5" y="715" font-size="36.5" font-style="italic" textLength="31.5" lengthAdjust="spacingAndGlyphs">-1</text>
<text x="1936" y="715" font-size="36.5" font-style="italic" textLength="31.5" lengthAdjust="spacingAndGlyphs">-2</text>
<text x="1982" y="715" font-size="36.5" font-style="italic" textLength="31.5" lengthAdjust="spacingAndGlyphs">-1</text>
<text x="2027" y="715" font-size="36.5" font-style="italic" textLength="31.5" lengthAdjust="spacingAndGlyphs">-2</text>
<line x1="1902" y1="718.5" x2="1969.5" y2="718.5" stroke="#000" stroke-width="1.4"/>
<line x1="1984" y1="718.5" x2="2051" y2="718.5" stroke="#000" stroke-width="1.4"/>
<text x="1912" y="752" font-size="35" font-style="italic" textLength="49" lengthAdjust="spacingAndGlyphs">nut</text>
<text x="1977" y="752" font-size="35" font-style="italic" textLength="145" lengthAdjust="spacingAndGlyphs">screw1/2</text>
<text x="1859" y="387.5" font-size="27.8" textLength="131.5" lengthAdjust="spacingAndGlyphs"><tspan font-style="italic">P</tspan> &lt; 0.0001</text>
<text x="1859" y="428.7" font-size="27.8" textLength="131.5" lengthAdjust="spacingAndGlyphs"><tspan font-style="italic">P</tspan> &lt; 0.0001</text>
<text x="1859" y="477.5" font-size="27.8" textLength="131.5" lengthAdjust="spacingAndGlyphs"><tspan font-style="italic">P</tspan> &lt; 0.0001</text>
<text x="1859" y="523.7" font-size="27.8" textLength="131.5" lengthAdjust="spacingAndGlyphs"><tspan font-style="italic">P</tspan> = 0.0154</text>
<polyline points="1859,399.5 1859,397 2042.5,397 2042.5,399.5" fill="none" stroke="#000" stroke-width="1.7"/>
<polyline points="1859,442.5 1859,440 1994.7,440 1994.7,442.5" fill="none" stroke="#000" stroke-width="1.7"/>
<polyline points="1859,492 1859,489.5 1951,489.5 1951,492" fill="none" stroke="#000" stroke-width="1.7"/>
<polyline points="1862.5,542.5 1862.5,536 1905.5,536 1905.5,542.5" fill="none" stroke="#000" stroke-width="1.7"/>
<text x="0" y="798" font-size="37" font-weight="bold">g</text>
<text x="214.5" y="811" font-size="36.5" font-style="italic" textLength="210" lengthAdjust="spacingAndGlyphs">Pst avrRpm1</text>
<text x="760" y="811" font-size="36.5" font-style="italic" textLength="193" lengthAdjust="spacingAndGlyphs">Pst avrRpt2</text>
<rect x="156" y="1060" width="18.8" height="42.5" fill="#d5d5d5" stroke="#222" stroke-width="1.2"/>
<rect x="179.5" y="952" width="18.8" height="150.5" fill="#c1622c" stroke="#3a1a08" stroke-width="1.2"/>
<line x1="165.4" y1="1056" x2="165.4" y2="1064" stroke="#000" stroke-width="1.2"/>
<line x1="160.9" y1="1056" x2="169.9" y2="1056" stroke="#000" stroke-width="1.2"/>
<line x1="160.9" y1="1064" x2="169.9" y2="1064" stroke="#000" stroke-width="1.2"/>
<line x1="188.9" y1="934" x2="188.9" y2="970" stroke="#000" stroke-width="1.2"/>
<line x1="183.4" y1="934" x2="194.4" y2="934" stroke="#000" stroke-width="1.2"/>
<line x1="183.4" y1="970" x2="194.4" y2="970" stroke="#000" stroke-width="1.2"/>
<circle cx="158.4" cy="1056" r="2.5" fill="#000"/>
<circle cx="163.4" cy="1059" r="2.5" fill="#000"/>
<circle cx="167.4" cy="1062" r="2.5" fill="#000"/>
<circle cx="171.4" cy="1055" r="2.5" fill="#000"/>
<circle cx="172.4" cy="1065" r="2.5" fill="#000"/>
<circle cx="168.4" cy="1057" r="2.5" fill="#000"/>
<circle cx="185.9" cy="934" r="2.5" fill="#000"/>
<circle cx="191.9" cy="928" r="2.5" fill="#000"/>
<circle cx="182.9" cy="954" r="2.5" fill="#000"/>
<circle cx="194.9" cy="954" r="2.5" fill="#000"/>
<circle cx="187.9" cy="955" r="2.5" fill="#000"/>
<circle cx="187.9" cy="981" r="2.5" fill="#000"/>
<rect x="208.7" y="1059.5" width="18.8" height="43" fill="#d5d5d5" stroke="#222" stroke-width="1.2"/>
<rect x="232" y="936" width="18.8" height="166.5" fill="#c1622c" stroke="#3a1a08" stroke-width="1.2"/>
<line x1="218.1" y1="1055" x2="218.1" y2="1064" stroke="#000" stroke-width="1.2"/>
<line x1="213.6" y1="1055" x2="222.6" y2="1055" stroke="#000" stroke-width="1.2"/>
<line x1="213.6" y1="1064" x2="222.6" y2="1064" stroke="#000" stroke-width="1.2"/>
<line x1="241.4" y1="921" x2="241.4" y2="951" stroke="#000" stroke-width="1.2"/>
<line x1="235.9" y1="921" x2="246.9" y2="921" stroke="#000" stroke-width="1.2"/>
<line x1="235.9" y1="951" x2="246.9" y2="951" stroke="#000" stroke-width="1.2"/>
<circle cx="212.1" cy="1054.5" r="2.5" fill="#000"/>
<circle cx="218.1" cy="1056.5" r="2.5" fill="#000"/>
<circle cx="222.1" cy="1061.5" r="2.5" fill="#000"/>
<circle cx="224.1" cy="1053.5" r="2.5" fill="#000"/>
<circle cx="220.1" cy="1067.5" r="2.5" fill="#000"/>
<circle cx="216.1" cy="1060.5" r="2.5" fill="#000"/>
<circle cx="243.4" cy="912" r="2.5" fill="#000"/>
<circle cx="241.4" cy="922" r="2.5" fill="#000"/>
<circle cx="236.4" cy="939" r="2.5" fill="#000"/>
<circle cx="246.4" cy="939" r="2.5" fill="#000"/>
<circle cx="237.4" cy="947" r="2.5" fill="#000"/>
<circle cx="247.4" cy="954" r="2.5" fill="#000"/>
<rect x="261" y="1059.5" width="18.8" height="43" fill="#d5d5d5" stroke="#222" stroke-width="1.2"/>
<rect x="284.5" y="948.7" width="18.8" height="153.8" fill="#c1622c" stroke="#3a1a08" stroke-width="1.2"/>
<line x1="270.4" y1="1057.5" x2="270.4" y2="1061.5" stroke="#000" stroke-width="1.2"/>
<line x1="265.9" y1="1057.5" x2="274.9" y2="1057.5" stroke="#000" stroke-width="1.2"/>
<line x1="265.9" y1="1061.5" x2="274.9" y2="1061.5" stroke="#000" stroke-width="1.2"/>
<line x1="293.9" y1="941.7" x2="293.9" y2="955.7" stroke="#000" stroke-width="1.2"/>
<line x1="288.4" y1="941.7" x2="299.4" y2="941.7" stroke="#000" stroke-width="1.2"/>
<line x1="288.4" y1="955.7" x2="299.4" y2="955.7" stroke="#000" stroke-width="1.2"/>
<circle cx="265.4" cy="1057.5" r="2.5" fill="#000"/>
<circle cx="269.4" cy="1055.5" r="2.5" fill="#000"/>
<circle cx="273.4" cy="1058.5" r="2.5" fill="#000"/>
<circle cx="276.4" cy="1060.5" r="2.5" fill="#000"/>
<circle cx="278.4" cy="1063.5" r="2.5" fill="#000"/>
<circle cx="271.4" cy="1056.5" r="2.5" fill="#000"/>
<circle cx="293.9" cy="939.7" r="2.5" fill="#000"/>
<circle cx="287.9" cy="946.7" r="2.5" fill="#000"/>
<circle cx="291.9" cy="949.7" r="2.5" fill="#000"/>
<circle cx="296.9" cy="951.7" r="2.5" fill="#000"/>
<circle cx="300.9" cy="948.7" r="2.5" fill="#000"/>
<circle cx="296.9" cy="957.7" r="2.5" fill="#000"/>
<rect x="314" y="1060" width="18.8" height="42.5" fill="#d5d5d5" stroke="#222" stroke-width="1.2"/>
<rect x="337" y="947.5" width="18.8" height="155" fill="#c1622c" stroke="#3a1a08" stroke-width="1.2"/>
<line x1="323.4" y1="1057.5" x2="323.4" y2="1062.5" stroke="#000" stroke-width="1.2"/>
<line x1="318.9" y1="1057.5" x2="327.9" y2="1057.5" stroke="#000" stroke-width="1.2"/>
<line x1="318.9" y1="1062.5" x2="327.9" y2="1062.5" stroke="#000" stroke-width="1.2"/>
<line x1="346.4" y1="933.5" x2="346.4" y2="961.5" stroke="#000" stroke-width="1.2"/>
<line x1="340.9" y1="933.5" x2="351.9" y2="933.5" stroke="#000" stroke-width="1.2"/>
<line x1="340.9" y1="961.5" x2="351.9" y2="961.5" stroke="#000" stroke-width="1.2"/>
<circle cx="317.4" cy="1057" r="2.5" fill="#000"/>
<circle cx="321.4" cy="1054" r="2.5" fill="#000"/>
<circle cx="325.4" cy="1058" r="2.5" fill="#000"/>
<circle cx="328.4" cy="1061" r="2.5" fill="#000"/>
<circle cx="331.4" cy="1063" r="2.5" fill="#000"/>
<circle cx="323.4" cy="1056" r="2.5" fill="#000"/>
<circle cx="346.4" cy="930.5" r="2.5" fill="#000"/>
<circle cx="341.4" cy="940.5" r="2.5" fill="#000"/>
<circle cx="351.4" cy="940.5" r="2.5" fill="#000"/>
<circle cx="341.4" cy="956.5" r="2.5" fill="#000"/>
<circle cx="350.4" cy="956.5" r="2.5" fill="#000"/>
<circle cx="346.4" cy="966.5" r="2.5" fill="#000"/>
<rect x="366.7" y="1060" width="18.8" height="42.5" fill="#d5d5d5" stroke="#222" stroke-width="1.2"/>
<rect x="390" y="941" width="18.8" height="161.5" fill="#c1622c" stroke="#3a1a08" stroke-width="1.2"/>
<line x1="376.1" y1="1055.5" x2="376.1" y2="1064.5" stroke="#000" stroke-width="1.2"/>
<line x1="371.6" y1="1055.5" x2="380.6" y2="1055.5" stroke="#000" stroke-width="1.2"/>
<line x1="371.6" y1="1064.5" x2="380.6" y2="1064.5" stroke="#000" stroke-width="1.2"/>
<line x1="399.4" y1="925" x2="399.4" y2="957" stroke="#000" stroke-width="1.2"/>
<line x1="393.9" y1="925" x2="404.9" y2="925" stroke="#000" stroke-width="1.2"/>
<line x1="393.9" y1="957" x2="404.9" y2="957" stroke="#000" stroke-width="1.2"/>
<circle cx="370.1" cy="1056" r="2.5" fill="#000"/>
<circle cx="375.1" cy="1061" r="2.5" fill="#000"/>
<circle cx="379.1" cy="1055" r="2.5" fill="#000"/>
<circle cx="383.1" cy="1053" r="2.5" fill="#000"/>
<circle cx="383.1" cy="1065" r="2.5" fill="#000"/>
<circle cx="372.1" cy="1064" r="2.5" fill="#000"/>
<circle cx="399.4" cy="911" r="2.5" fill="#000"/>
<circle cx="394.4" cy="938" r="2.5" fill="#000"/>
<circle cx="401.4" cy="938" r="2.5" fill="#000"/>
<circle cx="406.4" cy="946" r="2.5" fill="#000"/>
<circle cx="394.4" cy="955" r="2.5" fill="#000"/>
<circle cx="404.4" cy="955" r="2.5" fill="#000"/>
<rect x="419.5" y="1058.7" width="18.8" height="43.8" fill="#d5d5d5" stroke="#222" stroke-width="1.2"/>
<rect x="442.5" y="932.5" width="18.8" height="170" fill="#c1622c" stroke="#3a1a08" stroke-width="1.2"/>
<line x1="428.9" y1="1056.7" x2="428.9" y2="1060.7" stroke="#000" stroke-width="1.2"/>
<line x1="424.4" y1="1056.7" x2="433.4" y2="1056.7" stroke="#000" stroke-width="1.2"/>
<line x1="424.4" y1="1060.7" x2="433.4" y2="1060.7" stroke="#000" stroke-width="1.2"/>
<line x1="451.9" y1="914.5" x2="451.9" y2="950.5" stroke="#000" stroke-width="1.2"/>
<line x1="446.4" y1="914.5" x2="457.4" y2="914.5" stroke="#000" stroke-width="1.2"/>
<line x1="446.4" y1="950.5" x2="457.4" y2="950.5" stroke="#000" stroke-width="1.2"/>
<circle cx="423.9" cy="1056.7" r="2.5" fill="#000"/>
<circle cx="427.9" cy="1053.7" r="2.5" fill="#000"/>
<circle cx="431.9" cy="1055.7" r="2.5" fill="#000"/>
<circle cx="434.9" cy="1058.7" r="2.5" fill="#000"/>
<circle cx="436.9" cy="1061.7" r="2.5" fill="#000"/>
<circle cx="428.9" cy="1057.7" r="2.5" fill="#000"/>
<circle cx="444.9" cy="918.5" r="2.5" fill="#000"/>
<circle cx="449.9" cy="921.5" r="2.5" fill="#000"/>
<circle cx="458.9" cy="918.5" r="2.5" fill="#000"/>
<circle cx="453.9" cy="926.5" r="2.5" fill="#000"/>
<circle cx="448.9" cy="956.5" r="2.5" fill="#000"/>
<circle cx="453.9" cy="956.5" r="2.5" fill="#000"/>
<line x1="146" y1="906.8" x2="146" y2="1102.5" stroke="#111" stroke-width="1.4"/>
<line x1="138.5" y1="1102.5" x2="471" y2="1102.5" stroke="#111" stroke-width="1.4"/>
<line x1="138.5" y1="1102.5" x2="146" y2="1102.5" stroke="#111" stroke-width="1.4"/>
<text x="133" y="1115.5" font-size="36.5" text-anchor="end">2</text>
<line x1="138.5" y1="1053.75" x2="146" y2="1053.75" stroke="#111" stroke-width="1.4"/>
<text x="133" y="1066.75" font-size="36.5" text-anchor="end">3</text>
<line x1="138.5" y1="1005" x2="146" y2="1005" stroke="#111" stroke-width="1.4"/>
<text x="133" y="1018" font-size="36.5" text-anchor="end">4</text>
<line x1="138.5" y1="956.25" x2="146" y2="956.25" stroke="#111" stroke-width="1.4"/>
<text x="133" y="969.25" font-size="36.5" text-anchor="end">5</text>
<line x1="138.5" y1="907.5" x2="146" y2="907.5" stroke="#111" stroke-width="1.4"/>
<text x="133" y="920.5" font-size="36.5" text-anchor="end">6</text>
<line x1="177" y1="1102.5" x2="177" y2="1109.5" stroke="#111" stroke-width="1.4"/>
<line x1="229.5" y1="1102.5" x2="229.5" y2="1109.5" stroke="#111" stroke-width="1.4"/>
<line x1="282" y1="1102.5" x2="282" y2="1109.5" stroke="#111" stroke-width="1.4"/>
<line x1="335" y1="1102.5" x2="335" y2="1109.5" stroke="#111" stroke-width="1.4"/>
<line x1="387.5" y1="1102.5" x2="387.5" y2="1109.5" stroke="#111" stroke-width="1.4"/>
<line x1="440" y1="1102.5" x2="440" y2="1109.5" stroke="#111" stroke-width="1.4"/>
<text x="56" y="1138.7" font-size="36" transform="rotate(-90 56 1138.7)" textLength="275" lengthAdjust="spacingAndGlyphs">Bacterial number</text>
<text x="94" y="1109.5" font-size="36" transform="rotate(-90 94 1109.5)" textLength="215" lengthAdjust="spacingAndGlyphs">[log(cfu/cm<tspan font-size="22" dy="-11">2</tspan><tspan dy="11">)]</tspan></text>
<text x="149.5" y="1138.7" font-size="37" textLength="53" lengthAdjust="spacingAndGlyphs">WT</text>
<text x="213.5" y="1138.7" font-size="37" font-style="italic" textLength="30" lengthAdjust="spacingAndGlyphs">-1</text>
<text x="268.5" y="1138.7" font-size="37" font-style="italic" textLength="31" lengthAdjust="spacingAndGlyphs">-2</text>
<text x="309.5" y="1138.7" font-size="37" textLength="53" lengthAdjust="spacingAndGlyphs">WT</text>
<text x="372.5" y="1138.7" font-size="37" font-style="italic" textLength="29" lengthAdjust="spacingAndGlyphs">-1</text>
<text x="425" y="1138.7" font-size="37" font-style="italic" textLength="32" lengthAdjust="spacingAndGlyphs">-2</text>
<line x1="210" y1="1150" x2="302.5" y2="1150" stroke="#000" stroke-width="1.4"/>
<line x1="370" y1="1150" x2="470" y2="1150" stroke="#000" stroke-width="1.4"/>
<text x="228.7" y="1182.5" font-size="35" font-style="italic" textLength="49" lengthAdjust="spacingAndGlyphs">nut</text>
<text x="358.7" y="1182.5" font-size="35" font-style="italic" textLength="144" lengthAdjust="spacingAndGlyphs">screw1/2</text>
<text x="170" y="852.5" font-size="27.8" textLength="131" lengthAdjust="spacingAndGlyphs"><tspan font-style="italic">P</tspan> &gt; 0.9999</text>
<polyline points="187.5,866.5 187.5,862 285,862 285,866.5" fill="none" stroke="#000" stroke-width="1.4"/>
<text x="170" y="895" font-size="27.8" textLength="131" lengthAdjust="spacingAndGlyphs"><tspan font-style="italic">P</tspan> &gt; 0.9999</text>
<polyline points="187.5,906 187.5,900.7 240,900.7 240,906" fill="none" stroke="#000" stroke-width="1.4"/>
<text x="335" y="855" font-size="27.8" textLength="139" lengthAdjust="spacingAndGlyphs"><tspan font-style="italic">P</tspan>  = 0.9996</text>
<polyline points="343.7,866.5 343.7,862 450,862 450,866.5" fill="none" stroke="#000" stroke-width="1.4"/>
<text x="335" y="900" font-size="27.8" textLength="131" lengthAdjust="spacingAndGlyphs"><tspan font-style="italic">P</tspan> &gt; 0.9999</text>
<polyline points="343.7,909 343.7,903.7 397,903.7 397,909" fill="none" stroke="#000" stroke-width="1.4"/>
<rect x="467" y="919.5" width="26" height="12.5" fill="#d5d5d5" stroke="#222" stroke-width="1.2"/>
<text x="503.5" y="941" font-size="32.5" textLength="71.5" lengthAdjust="spacingAndGlyphs">0 dpi</text>
<rect x="467" y="954.5" width="26" height="12.5" fill="#c1622c" stroke="#3a1a08" stroke-width="1.2"/>
<text x="503.5" y="972.5" font-size="32.5" textLength="71.5" lengthAdjust="spacingAndGlyphs">2 dpi</text>
<rect x="721" y="1057.5" width="18.8" height="43.2" fill="#d5d5d5" stroke="#222" stroke-width="1.2"/>
<rect x="744" y="933" width="18.8" height="167.7" fill="#c1622c" stroke="#3a1a08" stroke-width="1.2"/>
<line x1="730.4" y1="1055" x2="730.4" y2="1060" stroke="#000" stroke-width="1.2"/>
<line x1="725.9" y1="1055" x2="734.9" y2="1055" stroke="#000" stroke-width="1.2"/>
<line x1="725.9" y1="1060" x2="734.9" y2="1060" stroke="#000" stroke-width="1.2"/>
<line x1="753.4" y1="924" x2="753.4" y2="942" stroke="#000" stroke-width="1.2"/>
<line x1="747.9" y1="924" x2="758.9" y2="924" stroke="#000" stroke-width="1.2"/>
<line x1="747.9" y1="942" x2="758.9" y2="942" stroke="#000" stroke-width="1.2"/>
<circle cx="724.4" cy="1054.5" r="2.5" fill="#000"/>
<circle cx="728.4" cy="1053.5" r="2.5" fill="#000"/>
<circle cx="732.4" cy="1051.5" r="2.5" fill="#000"/>
<circle cx="735.4" cy="1056.5" r="2.5" fill="#000"/>
<circle cx="738.4" cy="1059.5" r="2.5" fill="#000"/>
<circle cx="730.4" cy="1057.5" r="2.5" fill="#000"/>
<circle cx="753.4" cy="921" r="2.5" fill="#000"/>
<circle cx="747.4" cy="932" r="2.5" fill="#000"/>
<circle cx="751.4" cy="936" r="2.5" fill="#000"/>
<circle cx="756.4" cy="930" r="2.5" fill="#000"/>
<circle cx="760.4" cy="935" r="2.5" fill="#000"/>
<circle cx="756.4" cy="944" r="2.5" fill="#000"/>
<rect x="773.7" y="1057" width="18.8" height="43.7" fill="#d5d5d5" stroke="#222" stroke-width="1.2"/>
<rect x="796.7" y="942.5" width="18.8" height="158.2" fill="#c1622c" stroke="#3a1a08" stroke-width="1.2"/>
<line x1="783.1" y1="1052" x2="783.1" y2="1062" stroke="#000" stroke-width="1.2"/>
<line x1="778.6" y1="1052" x2="787.6" y2="1052" stroke="#000" stroke-width="1.2"/>
<line x1="778.6" y1="1062" x2="787.6" y2="1062" stroke="#000" stroke-width="1.2"/>
<line x1="806.1" y1="932.5" x2="806.1" y2="952.5" stroke="#000" stroke-width="1.2"/>
<line x1="800.6" y1="932.5" x2="811.6" y2="932.5" stroke="#000" stroke-width="1.2"/>
<line x1="800.6" y1="952.5" x2="811.6" y2="952.5" stroke="#000" stroke-width="1.2"/>
<circle cx="777.1" cy="1052" r="2.5" fill="#000"/>
<circle cx="778.1" cy="1058" r="2.5" fill="#000"/>
<circle cx="784.1" cy="1060" r="2.5" fill="#000"/>
<circle cx="789.1" cy="1050" r="2.5" fill="#000"/>
<circle cx="789.1" cy="1062" r="2.5" fill="#000"/>
<circle cx="784.1" cy="1054" r="2.5" fill="#000"/>
<circle cx="806.1" cy="926.5" r="2.5" fill="#000"/>
<circle cx="802.1" cy="948.5" r="2.5" fill="#000"/>
<circle cx="806.1" cy="944.5" r="2.5" fill="#000"/>
<circle cx="811.1" cy="940.5" r="2.5" fill="#000"/>
<circle cx="803.1" cy="951.5" r="2.5" fill="#000"/>
<circle cx="813.1" cy="952.5" r="2.5" fill="#000"/>
<rect x="826" y="1057.5" width="18.8" height="43.2" fill="#d5d5d5" stroke="#222" stroke-width="1.2"/>
<rect x="849" y="932" width="18.8" height="168.7" fill="#c1622c" stroke="#3a1a08" stroke-width="1.2"/>
<line x1="835.4" y1="1055.5" x2="835.4" y2="1059.5" stroke="#000" stroke-width="1.2"/>
<line x1="830.9" y1="1055.5" x2="839.9" y2="1055.5" stroke="#000" stroke-width="1.2"/>
<line x1="830.9" y1="1059.5" x2="839.9" y2="1059.5" stroke="#000" stroke-width="1.2"/>
<line x1="858.4" y1="919" x2="858.4" y2="945" stroke="#000" stroke-width="1.2"/>
<line x1="852.9" y1="919" x2="863.9" y2="919" stroke="#000" stroke-width="1.2"/>
<line x1="852.9" y1="945" x2="863.9" y2="945" stroke="#000" stroke-width="1.2"/>
<circle cx="829.4" cy="1054.5" r="2.5" fill="#000"/>
<circle cx="833.4" cy="1053.5" r="2.5" fill="#000"/>
<circle cx="837.4" cy="1051.5" r="2.5" fill="#000"/>
<circle cx="840.4" cy="1056.5" r="2.5" fill="#000"/>
<circle cx="843.4" cy="1059.5" r="2.5" fill="#000"/>
<circle cx="835.4" cy="1057.5" r="2.5" fill="#000"/>
<circle cx="853.4" cy="914" r="2.5" fill="#000"/>
<circle cx="863.4" cy="914" r="2.5" fill="#000"/>
<circle cx="853.4" cy="933" r="2.5" fill="#000"/>
<circle cx="859.4" cy="933" r="2.5" fill="#000"/>
<circle cx="865.4" cy="940" r="2.5" fill="#000"/>
<circle cx="858.4" cy="950" r="2.5" fill="#000"/>
<rect x="878.7" y="1057" width="18.8" height="43.7" fill="#d5d5d5" stroke="#222" stroke-width="1.2"/>
<rect x="901.7" y="932" width="18.8" height="168.7" fill="#c1622c" stroke="#3a1a08" stroke-width="1.2"/>
<line x1="888.1" y1="1053.5" x2="888.1" y2="1060.5" stroke="#000" stroke-width="1.2"/>
<line x1="883.6" y1="1053.5" x2="892.6" y2="1053.5" stroke="#000" stroke-width="1.2"/>
<line x1="883.6" y1="1060.5" x2="892.6" y2="1060.5" stroke="#000" stroke-width="1.2"/>
<line x1="911.1" y1="921" x2="911.1" y2="943" stroke="#000" stroke-width="1.2"/>
<line x1="905.6" y1="921" x2="916.6" y2="921" stroke="#000" stroke-width="1.2"/>
<line x1="905.6" y1="943" x2="916.6" y2="943" stroke="#000" stroke-width="1.2"/>
<circle cx="882.1" cy="1053" r="2.5" fill="#000"/>
<circle cx="886.1" cy="1056" r="2.5" fill="#000"/>
<circle cx="891.1" cy="1050" r="2.5" fill="#000"/>
<circle cx="894.1" cy="1057" r="2.5" fill="#000"/>
<circle cx="896.1" cy="1061" r="2.5" fill="#000"/>
<circle cx="885.1" cy="1052" r="2.5" fill="#000"/>
<circle cx="907.1" cy="920" r="2.5" fill="#000"/>
<circle cx="914.1" cy="918" r="2.5" fill="#000"/>
<circle cx="905.1" cy="934" r="2.5" fill="#000"/>
<circle cx="912.1" cy="934" r="2.5" fill="#000"/>
<circle cx="918.1" cy="934" r="2.5" fill="#000"/>
<circle cx="911.1" cy="947" r="2.5" fill="#000"/>
<rect x="931" y="1058.7" width="18.8" height="42" fill="#d5d5d5" stroke="#222" stroke-width="1.2"/>
<rect x="954" y="934.5" width="18.8" height="166.2" fill="#c1622c" stroke="#3a1a08" stroke-width="1.2"/>
<line x1="940.4" y1="1055.7" x2="940.4" y2="1061.7" stroke="#000" stroke-width="1.2"/>
<line x1="935.9" y1="1055.7" x2="944.9" y2="1055.7" stroke="#000" stroke-width="1.2"/>
<line x1="935.9" y1="1061.7" x2="944.9" y2="1061.7" stroke="#000" stroke-width="1.2"/>
<line x1="963.4" y1="923.5" x2="963.4" y2="945.5" stroke="#000" stroke-width="1.2"/>
<line x1="957.9" y1="923.5" x2="968.9" y2="923.5" stroke="#000" stroke-width="1.2"/>
<line x1="957.9" y1="945.5" x2="968.9" y2="945.5" stroke="#000" stroke-width="1.2"/>
<circle cx="934.4" cy="1053.7" r="2.5" fill="#000"/>
<circle cx="939.4" cy="1051.7" r="2.5" fill="#000"/>
<circle cx="943.4" cy="1056.7" r="2.5" fill="#000"/>
<circle cx="946.4" cy="1059.7" r="2.5" fill="#000"/>
<circle cx="948.4" cy="1061.7" r="2.5" fill="#000"/>
<circle cx="938.4" cy="1057.7" r="2.5" fill="#000"/>
<circle cx="963.4" cy="921.5" r="2.5" fill="#000"/>
<circle cx="959.4" cy="926.5" r="2.5" fill="#000"/>
<circle cx="968.4" cy="928.5" r="2.5" fill="#000"/>
<circle cx="958.4" cy="943.5" r="2.5" fill="#000"/>
<circle cx="964.4" cy="943.5" r="2.5" fill="#000"/>
<circle cx="970.4" cy="946.5" r="2.5" fill="#000"/>
<rect x="983.5" y="1057" width="18.8" height="43.7" fill="#d5d5d5" stroke="#222" stroke-width="1.2"/>
<rect x="1005.7" y="933.7" width="18.8" height="167" fill="#c1622c" stroke="#3a1a08" stroke-width="1.2"/>
<line x1="992.9" y1="1054" x2="992.9" y2="1060" stroke="#000" stroke-width="1.2"/>
<line x1="988.4" y1="1054" x2="997.4" y2="1054" stroke="#000" stroke-width="1.2"/>
<line x1="988.4" y1="1060" x2="997.4" y2="1060" stroke="#000" stroke-width="1.2"/>
<line x1="1015.1" y1="922.7" x2="1015.1" y2="944.7" stroke="#000" stroke-width="1.2"/>
<line x1="1009.6" y1="922.7" x2="1020.6" y2="922.7" stroke="#000" stroke-width="1.2"/>
<line x1="1009.6" y1="944.7" x2="1020.6" y2="944.7" stroke="#000" stroke-width="1.2"/>
<circle cx="986.9" cy="1052" r="2.5" fill="#000"/>
<circle cx="990.9" cy="1053" r="2.5" fill="#000"/>
<circle cx="995.9" cy="1050" r="2.5" fill="#000"/>
<circle cx="998.9" cy="1057" r="2.5" fill="#000"/>
<circle cx="1000.9" cy="1060" r="2.5" fill="#000"/>
<circle cx="991.9" cy="1056" r="2.5" fill="#000"/>
<circle cx="1010.1" cy="922.7" r="2.5" fill="#000"/>
<circle cx="1020.1" cy="920.7" r="2.5" fill="#000"/>
<circle cx="1009.1" cy="935.7" r="2.5" fill="#000"/>
<circle cx="1014.1" cy="935.7" r="2.5" fill="#000"/>
<circle cx="1021.1" cy="935.7" r="2.5" fill="#000"/>
<circle cx="1020.1" cy="945.7" r="2.5" fill="#000"/>
<line x1="711" y1="905.3" x2="711" y2="1100.7" stroke="#111" stroke-width="1.4"/>
<line x1="703.5" y1="1100.7" x2="1036" y2="1100.7" stroke="#111" stroke-width="1.4"/>
<line x1="703.5" y1="1100.7" x2="711" y2="1100.7" stroke="#111" stroke-width="1.4"/>
<text x="696.5" y="1113.7" font-size="36.5" text-anchor="end">2</text>
<line x1="703.5" y1="1052.03" x2="711" y2="1052.03" stroke="#111" stroke-width="1.4"/>
<text x="696.5" y="1065.03" font-size="36.5" text-anchor="end">3</text>
<line x1="703.5" y1="1003.35" x2="711" y2="1003.35" stroke="#111" stroke-width="1.4"/>
<text x="696.5" y="1016.35" font-size="36.5" text-anchor="end">4</text>
<line x1="703.5" y1="954.67" x2="711" y2="954.67" stroke="#111" stroke-width="1.4"/>
<text x="696.5" y="967.67" font-size="36.5" text-anchor="end">5</text>
<line x1="703.5" y1="906" x2="711" y2="906" stroke="#111" stroke-width="1.4"/>
<text x="696.5" y="919" font-size="36.5" text-anchor="end">6</text>
<line x1="742" y1="1100.7" x2="742" y2="1107.7" stroke="#111" stroke-width="1.4"/>
<line x1="794.5" y1="1100.7" x2="794.5" y2="1107.7" stroke="#111" stroke-width="1.4"/>
<line x1="847" y1="1100.7" x2="847" y2="1107.7" stroke="#111" stroke-width="1.4"/>
<line x1="899.5" y1="1100.7" x2="899.5" y2="1107.7" stroke="#111" stroke-width="1.4"/>
<line x1="952" y1="1100.7" x2="952" y2="1107.7" stroke="#111" stroke-width="1.4"/>
<line x1="1003.7" y1="1100.7" x2="1003.7" y2="1107.7" stroke="#111" stroke-width="1.4"/>
<text x="619" y="1127.5" font-size="36" transform="rotate(-90 619 1127.5)" textLength="275" lengthAdjust="spacingAndGlyphs">Bacterial number</text>
<text x="658" y="1098.5" font-size="36" transform="rotate(-90 658 1098.5)" textLength="214" lengthAdjust="spacingAndGlyphs">[log(cfu/cm<tspan font-size="22" dy="-11">2</tspan><tspan dy="11">)]</tspan></text>
<text x="714" y="1136" font-size="37" textLength="53" lengthAdjust="spacingAndGlyphs">WT</text>
<text x="781" y="1136" font-size="37" font-style="italic" textLength="28.5" lengthAdjust="spacingAndGlyphs">-1</text>
<text x="832.5" y="1136" font-size="37" font-style="italic" textLength="30.5" lengthAdjust="spacingAndGlyphs">-2</text>
<text x="876.5" y="1136" font-size="37" textLength="53" lengthAdjust="spacingAndGlyphs">WT</text>
<text x="942.5" y="1136" font-size="37" font-style="italic" textLength="28.5" lengthAdjust="spacingAndGlyphs">-1</text>
<text x="996" y="1136" font-size="37" font-style="italic" textLength="30.5" lengthAdjust="spacingAndGlyphs">-2</text>
<line x1="782.5" y1="1148.7" x2="875" y2="1148.7" stroke="#000" stroke-width="1.4"/>
<line x1="952.5" y1="1148.7" x2="1036" y2="1148.7" stroke="#000" stroke-width="1.4"/>
<text x="791" y="1182.5" font-size="35" font-style="italic" textLength="49" lengthAdjust="spacingAndGlyphs">nut</text>
<text x="936" y="1182.5" font-size="35" font-style="italic" textLength="144" lengthAdjust="spacingAndGlyphs">screw1/2</text>
<text x="726" y="856" font-size="27.8" textLength="130" lengthAdjust="spacingAndGlyphs"><tspan font-style="italic">P</tspan> = 0.9967</text>
<polyline points="753,873 753,868 851,868 851,873" fill="none" stroke="#000" stroke-width="1.4"/>
<text x="726" y="897.5" font-size="27.8" textLength="131" lengthAdjust="spacingAndGlyphs"><tspan font-style="italic">P</tspan> &gt; 0.9999</text>
<polyline points="753,913 753,907.5 806,907.5 806,913" fill="none" stroke="#000" stroke-width="1.4"/>
<text x="887.5" y="856" font-size="27.8" textLength="132" lengthAdjust="spacingAndGlyphs"><tspan font-style="italic">P</tspan> &gt; 0.9999</text>
<polyline points="910,873 910,868 1015,868 1015,873" fill="none" stroke="#000" stroke-width="1.4"/>
<text x="887.5" y="899.5" font-size="27.8" textLength="140" lengthAdjust="spacingAndGlyphs"><tspan font-style="italic">P</tspan>  = 0.9993</text>
<polyline points="910,915.5 910,910 962.5,910 962.5,915.5" fill="none" stroke="#000" stroke-width="1.4"/>
<rect x="1032" y="917.5" width="26" height="12.5" fill="#d5d5d5" stroke="#222" stroke-width="1.2"/>
<text x="1066" y="935" font-size="32.5" textLength="70" lengthAdjust="spacingAndGlyphs">0 dpi</text>
<rect x="1032" y="952.5" width="26" height="13" fill="#c1622c" stroke="#3a1a08" stroke-width="1.2"/>
<text x="1066" y="970.5" font-size="32.5" textLength="70" lengthAdjust="spacingAndGlyphs">2 dpi</text>
<text x="1203.5" y="798.5" font-size="37" font-weight="bold">j</text>
<text x="1235.5" y="1053.7" font-size="36.5" transform="rotate(-90 1235.5 1053.7)" textLength="219" lengthAdjust="spacingAndGlyphs">Total number</text>
<text x="1271.5" y="1053.7" font-size="36.5" transform="rotate(-90 1271.5 1053.7)" textLength="216" lengthAdjust="spacingAndGlyphs">nymphs/plant</text>
<rect x="1352" y="916" width="26.3" height="131.5" fill="#acacb0" stroke="#111" stroke-width="1.4"/>
<line x1="1365.15" y1="884.5" x2="1365.15" y2="944" stroke="#000" stroke-width="1.4"/>
<line x1="1357.65" y1="884.5" x2="1372.65" y2="884.5" stroke="#000" stroke-width="1.4"/>
<line x1="1357.65" y1="944" x2="1372.65" y2="944" stroke="#000" stroke-width="1.4"/>
<rect x="1400" y="983.7" width="26.3" height="63.8" fill="#fce0cb" stroke="#111" stroke-width="1.4"/>
<line x1="1413.15" y1="963" x2="1413.15" y2="1002.5" stroke="#000" stroke-width="1.4"/>
<line x1="1405.65" y1="963" x2="1420.65" y2="963" stroke="#000" stroke-width="1.4"/>
<line x1="1405.65" y1="1002.5" x2="1420.65" y2="1002.5" stroke="#000" stroke-width="1.4"/>
<rect x="1448" y="968.7" width="26.3" height="78.8" fill="#fce0cb" stroke="#111" stroke-width="1.4"/>
<line x1="1461.15" y1="950" x2="1461.15" y2="989" stroke="#000" stroke-width="1.4"/>
<line x1="1453.65" y1="950" x2="1468.65" y2="950" stroke="#000" stroke-width="1.4"/>
<line x1="1453.65" y1="989" x2="1468.65" y2="989" stroke="#000" stroke-width="1.4"/>
<rect x="1495.5" y="981" width="26.3" height="66.5" fill="#36b889" stroke="#111" stroke-width="1.4"/>
<line x1="1508.65" y1="943.5" x2="1508.65" y2="1017.5" stroke="#000" stroke-width="1.4"/>
<line x1="1501.15" y1="943.5" x2="1516.15" y2="943.5" stroke="#000" stroke-width="1.4"/>
<line x1="1501.15" y1="1017.5" x2="1516.15" y2="1017.5" stroke="#000" stroke-width="1.4"/>
<rect x="1543.7" y="942.5" width="26.3" height="105" fill="#36b889" stroke="#111" stroke-width="1.4"/>
<line x1="1556.85" y1="932" x2="1556.85" y2="953" stroke="#000" stroke-width="1.4"/>
<line x1="1549.35" y1="932" x2="1564.35" y2="932" stroke="#000" stroke-width="1.4"/>
<line x1="1549.35" y1="953" x2="1564.35" y2="953" stroke="#000" stroke-width="1.4"/>
<circle cx="1365.15" cy="842" r="2.9" fill="#000"/>
<circle cx="1365.15" cy="874" r="2.9" fill="#000"/>
<circle cx="1365.15" cy="880" r="2.9" fill="#000"/>
<circle cx="1363.15" cy="890" r="2.9" fill="#000"/>
<circle cx="1368.15" cy="888" r="2.9" fill="#000"/>
<circle cx="1355.15" cy="908" r="2.9" fill="#000"/>
<circle cx="1360.15" cy="914" r="2.9" fill="#000"/>
<circle cx="1365.15" cy="912" r="2.9" fill="#000"/>
<circle cx="1370.15" cy="911" r="2.9" fill="#000"/>
<circle cx="1374.15" cy="912" r="2.9" fill="#000"/>
<circle cx="1353.15" cy="916" r="2.9" fill="#000"/>
<circle cx="1358.15" cy="918" r="2.9" fill="#000"/>
<circle cx="1363.15" cy="917" r="2.9" fill="#000"/>
<circle cx="1368.15" cy="917" r="2.9" fill="#000"/>
<circle cx="1373.15" cy="915" r="2.9" fill="#000"/>
<circle cx="1377.15" cy="917" r="2.9" fill="#000"/>
<circle cx="1362.15" cy="931" r="2.9" fill="#000"/>
<circle cx="1367.15" cy="929" r="2.9" fill="#000"/>
<circle cx="1361.15" cy="943" r="2.9" fill="#000"/>
<circle cx="1368.15" cy="945" r="2.9" fill="#000"/>
<circle cx="1359.15" cy="955" r="2.9" fill="#000"/>
<circle cx="1364.15" cy="952" r="2.9" fill="#000"/>
<circle cx="1370.15" cy="956" r="2.9" fill="#000"/>
<circle cx="1413.15" cy="942" r="2.9" fill="#000"/>
<circle cx="1413.15" cy="954" r="2.9" fill="#000"/>
<circle cx="1402.15" cy="976" r="2.9" fill="#000"/>
<circle cx="1406.15" cy="983" r="2.9" fill="#000"/>
<circle cx="1411.15" cy="980" r="2.9" fill="#000"/>
<circle cx="1416.15" cy="982" r="2.9" fill="#000"/>
<circle cx="1421.15" cy="981" r="2.9" fill="#000"/>
<circle cx="1425.15" cy="980" r="2.9" fill="#000"/>
<circle cx="1413.15" cy="992" r="2.9" fill="#000"/>
<circle cx="1411.15" cy="1001" r="2.9" fill="#000"/>
<circle cx="1418.15" cy="996" r="2.9" fill="#000"/>
<circle cx="1407.15" cy="1008" r="2.9" fill="#000"/>
<circle cx="1418.15" cy="1006" r="2.9" fill="#000"/>
<circle cx="1451.15" cy="947" r="2.9" fill="#000"/>
<circle cx="1458.15" cy="952" r="2.9" fill="#000"/>
<circle cx="1464.15" cy="950" r="2.9" fill="#000"/>
<circle cx="1468.15" cy="949" r="2.9" fill="#000"/>
<circle cx="1473.15" cy="950" r="2.9" fill="#000"/>
<circle cx="1451.15" cy="969" r="2.9" fill="#000"/>
<circle cx="1457.15" cy="968" r="2.9" fill="#000"/>
<circle cx="1463.15" cy="972" r="2.9" fill="#000"/>
<circle cx="1468.15" cy="971" r="2.9" fill="#000"/>
<circle cx="1474.15" cy="968" r="2.9" fill="#000"/>
<circle cx="1453.15" cy="980" r="2.9" fill="#000"/>
<circle cx="1459.15" cy="984" r="2.9" fill="#000"/>
<circle cx="1465.15" cy="983" r="2.9" fill="#000"/>
<circle cx="1458.15" cy="990" r="2.9" fill="#000"/>
<circle cx="1466.15" cy="988" r="2.9" fill="#000"/>
<circle cx="1508.65" cy="897.5" r="2.9" fill="#000"/>
<circle cx="1498.65" cy="965" r="2.9" fill="#000"/>
<circle cx="1504.65" cy="969" r="2.9" fill="#000"/>
<circle cx="1511.65" cy="968" r="2.9" fill="#000"/>
<circle cx="1516.65" cy="968" r="2.9" fill="#000"/>
<circle cx="1520.65" cy="968" r="2.9" fill="#000"/>
<circle cx="1497.65" cy="974" r="2.9" fill="#000"/>
<circle cx="1502.65" cy="974" r="2.9" fill="#000"/>
<circle cx="1508.65" cy="974" r="2.9" fill="#000"/>
<circle cx="1513.65" cy="973" r="2.9" fill="#000"/>
<circle cx="1506.65" cy="979" r="2.9" fill="#000"/>
<circle cx="1512.65" cy="980" r="2.9" fill="#000"/>
<circle cx="1508.65" cy="1014" r="2.9" fill="#000"/>
<circle cx="1508.65" cy="1032" r="2.9" fill="#000"/>
<circle cx="1508.65" cy="1043" r="2.9" fill="#000"/>
<circle cx="1556.85" cy="922" r="2.9" fill="#000"/>
<circle cx="1556.85" cy="937" r="2.9" fill="#000"/>
<circle cx="1546.85" cy="943" r="2.9" fill="#000"/>
<circle cx="1551.85" cy="944" r="2.9" fill="#000"/>
<circle cx="1556.85" cy="942" r="2.9" fill="#000"/>
<circle cx="1561.85" cy="944" r="2.9" fill="#000"/>
<circle cx="1566.85" cy="943" r="2.9" fill="#000"/>
<circle cx="1553.85" cy="948" r="2.9" fill="#000"/>
<circle cx="1560.85" cy="948" r="2.9" fill="#000"/>
<circle cx="1556.85" cy="958" r="2.9" fill="#000"/>
<line x1="1337" y1="835.3" x2="1337" y2="1047.5" stroke="#111" stroke-width="1.5"/>
<line x1="1327.5" y1="1047.5" x2="1585" y2="1047.5" stroke="#111" stroke-width="1.5"/>
<line x1="1327.5" y1="1047.5" x2="1337" y2="1047.5" stroke="#111" stroke-width="1.5"/>
<text x="1325.5" y="1061" font-size="31" text-anchor="end">0</text>
<line x1="1327.5" y1="994.62" x2="1337" y2="994.62" stroke="#111" stroke-width="1.5"/>
<text x="1325.5" y="1008.12" font-size="31" text-anchor="end">20</text>
<line x1="1327.5" y1="941.75" x2="1337" y2="941.75" stroke="#111" stroke-width="1.5"/>
<text x="1325.5" y="955.25" font-size="31" text-anchor="end">40</text>
<line x1="1327.5" y1="888.88" x2="1337" y2="888.88" stroke="#111" stroke-width="1.5"/>
<text x="1325.5" y="902.38" font-size="31" text-anchor="end">60</text>
<line x1="1327.5" y1="836" x2="1337" y2="836" stroke="#111" stroke-width="1.5"/>
<text x="1325.5" y="849.5" font-size="31" text-anchor="end">80</text>
<line x1="1365" y1="1047.5" x2="1365" y2="1055" stroke="#111" stroke-width="1.5"/>
<line x1="1413" y1="1047.5" x2="1413" y2="1055" stroke="#111" stroke-width="1.5"/>
<line x1="1460.7" y1="1047.5" x2="1460.7" y2="1055" stroke="#111" stroke-width="1.5"/>
<line x1="1508.7" y1="1047.5" x2="1508.7" y2="1055" stroke="#111" stroke-width="1.5"/>
<line x1="1556.7" y1="1047.5" x2="1556.7" y2="1055" stroke="#111" stroke-width="1.5"/>
<text x="1333.5" y="1089" font-size="38" textLength="55.5" lengthAdjust="spacingAndGlyphs">WT</text>
<text x="1394.5" y="1089" font-size="38" textLength="38.5" lengthAdjust="spacingAndGlyphs">L4</text>
<text x="1441.5" y="1089" font-size="38" textLength="39" lengthAdjust="spacingAndGlyphs">L6</text>
<text x="1491" y="1089" font-size="38" textLength="38.5" lengthAdjust="spacingAndGlyphs">L2</text>
<text x="1535" y="1089" font-size="38" textLength="38.5" lengthAdjust="spacingAndGlyphs">L4</text>
<line x1="1383.7" y1="1097.5" x2="1476" y2="1097.5" stroke="#000" stroke-width="1.5"/>
<line x1="1487" y1="1097.5" x2="1578.7" y2="1097.5" stroke="#000" stroke-width="1.5"/>
<text x="1354.5" y="1184" font-size="34.5" font-style="italic" transform="rotate(-43 1354.5 1184)">p35S::</text>
<text x="1362.5" y="1229" font-size="34.5" font-style="italic" transform="rotate(-43 1362.5 1229)">SCREW1</text>
<text x="1459.5" y="1187" font-size="34.5" font-style="italic" transform="rotate(-43 1459.5 1187)">p35S::</text>
<text x="1466" y="1232.5" font-size="34.5" font-style="italic" transform="rotate(-43 1466 1232.5)">SCREW2</text>
<line x1="1365" y1="730" x2="1365" y2="835" stroke="#111" stroke-width="1.4"/>
<polyline points="1365,730 1557,730 1557,757.5" fill="none" stroke="#111" stroke-width="1.4"/>
<polyline points="1365,735 1508.7,735 1508.7,748.7" fill="none" stroke="#111" stroke-width="1.4"/>
<polyline points="1365,757 1461,757 1461,771" fill="none" stroke="#111" stroke-width="1.4"/>
<polyline points="1365,785 1413,785 1413,787.5" fill="none" stroke="#111" stroke-width="1.4"/>
<text x="1401.5" y="800" font-size="27.8" transform="rotate(90 1401.5 800)" textLength="134" lengthAdjust="spacingAndGlyphs"><tspan font-style="italic">P</tspan> &lt; 0.0001</text>
<text x="1449" y="803.7" font-size="27.8" transform="rotate(90 1449 803.7)" textLength="133" lengthAdjust="spacingAndGlyphs"><tspan font-style="italic">P</tspan> &lt; 0.0001</text>
<text x="1496.5" y="755" font-size="27.8" transform="rotate(90 1496.5 755)" textLength="131" lengthAdjust="spacingAndGlyphs"><tspan font-style="italic">P</tspan> &lt; 0.0001</text>
<text x="1543" y="795" font-size="27.8" transform="rotate(90 1543 795)" textLength="115" lengthAdjust="spacingAndGlyphs"><tspan font-style="italic">P</tspan> = 0.048</text>
<text x="1708" y="802.5" font-size="37" font-weight="bold">k</text>
<text x="1745" y="1106" font-size="36.5" transform="rotate(-90 1745 1106)" textLength="217.5" lengthAdjust="spacingAndGlyphs">Total number</text>
<text x="1781" y="1106" font-size="36.5" transform="rotate(-90 1781 1106)" textLength="217.5" lengthAdjust="spacingAndGlyphs">nymphs/plant</text>
<rect x="1863" y="999" width="27" height="101.5" fill="#a9a9ad" stroke="#111" stroke-width="1.4"/>
<line x1="1876.5" y1="973.5" x2="1876.5" y2="1023.5" stroke="#000" stroke-width="1.4"/>
<line x1="1869" y1="973.5" x2="1884" y2="973.5" stroke="#000" stroke-width="1.4"/>
<line x1="1869" y1="1023.5" x2="1884" y2="1023.5" stroke="#000" stroke-width="1.4"/>
<rect x="1911" y="989.5" width="27" height="111" fill="#fcdcc2" stroke="#111" stroke-width="1.4"/>
<line x1="1924.5" y1="969" x2="1924.5" y2="1009" stroke="#000" stroke-width="1.4"/>
<line x1="1917" y1="969" x2="1932" y2="969" stroke="#000" stroke-width="1.4"/>
<line x1="1917" y1="1009" x2="1932" y2="1009" stroke="#000" stroke-width="1.4"/>
<rect x="1960" y="980.7" width="27" height="119.8" fill="#fcdcc2" stroke="#111" stroke-width="1.4"/>
<line x1="1973.5" y1="951" x2="1973.5" y2="1009" stroke="#000" stroke-width="1.4"/>
<line x1="1966" y1="951" x2="1981" y2="951" stroke="#000" stroke-width="1.4"/>
<line x1="1966" y1="1009" x2="1981" y2="1009" stroke="#000" stroke-width="1.4"/>
<rect x="2007.5" y="963" width="27" height="137.5" fill="#2bb673" stroke="#111" stroke-width="1.4"/>
<line x1="2021" y1="937" x2="2021" y2="988" stroke="#000" stroke-width="1.4"/>
<line x1="2013.5" y1="937" x2="2028.5" y2="937" stroke="#000" stroke-width="1.4"/>
<line x1="2013.5" y1="988" x2="2028.5" y2="988" stroke="#000" stroke-width="1.4"/>
<rect x="2056" y="965.5" width="27" height="135" fill="#2bb673" stroke="#111" stroke-width="1.4"/>
<line x1="2069.5" y1="936" x2="2069.5" y2="995" stroke="#000" stroke-width="1.4"/>
<line x1="2062" y1="936" x2="2077" y2="936" stroke="#000" stroke-width="1.4"/>
<line x1="2062" y1="995" x2="2077" y2="995" stroke="#000" stroke-width="1.4"/>
<circle cx="1876.5" cy="954.5" r="3.1" fill="#000"/>
<circle cx="1876.5" cy="968" r="3.1" fill="#000"/>
<circle cx="1870.5" cy="988" r="3.1" fill="#000"/>
<circle cx="1881.5" cy="994" r="3.1" fill="#000"/>
<circle cx="1866.5" cy="1000" r="3.1" fill="#000"/>
<circle cx="1874.5" cy="1001" r="3.1" fill="#000"/>
<circle cx="1884.5" cy="1001" r="3.1" fill="#000"/>
<circle cx="1876.5" cy="1006" r="3.1" fill="#000"/>
<circle cx="1871.5" cy="1012" r="3.1" fill="#000"/>
<circle cx="1880.5" cy="1015" r="3.1" fill="#000"/>
<circle cx="1876.5" cy="1045" r="3.1" fill="#000"/>
<circle cx="1914.5" cy="958" r="3.1" fill="#000"/>
<circle cx="1924.5" cy="961" r="3.1" fill="#000"/>
<circle cx="1930.5" cy="966" r="3.1" fill="#000"/>
<circle cx="1934.5" cy="965" r="3.1" fill="#000"/>
<circle cx="1919.5" cy="992" r="3.1" fill="#000"/>
<circle cx="1927.5" cy="992" r="3.1" fill="#000"/>
<circle cx="1913.5" cy="997" r="3.1" fill="#000"/>
<circle cx="1934.5" cy="1001" r="3.1" fill="#000"/>
<circle cx="1922.5" cy="1001" r="3.1" fill="#000"/>
<circle cx="1919.5" cy="1007" r="3.1" fill="#000"/>
<circle cx="1929.5" cy="1007" r="3.1" fill="#000"/>
<circle cx="1927.5" cy="1013" r="3.1" fill="#000"/>
<circle cx="1973.5" cy="931" r="3.1" fill="#000"/>
<circle cx="1968.5" cy="945" r="3.1" fill="#000"/>
<circle cx="1978.5" cy="951" r="3.1" fill="#000"/>
<circle cx="1973.5" cy="968" r="3.1" fill="#000"/>
<circle cx="1973.5" cy="981" r="3.1" fill="#000"/>
<circle cx="1968.5" cy="992" r="3.1" fill="#000"/>
<circle cx="1978.5" cy="995" r="3.1" fill="#000"/>
<circle cx="1963.5" cy="1008" r="3.1" fill="#000"/>
<circle cx="1972.5" cy="1008" r="3.1" fill="#000"/>
<circle cx="1981.5" cy="1008" r="3.1" fill="#000"/>
<circle cx="1983.5" cy="1015" r="3.1" fill="#000"/>
<circle cx="2021" cy="918" r="3.1" fill="#000"/>
<circle cx="2016" cy="932" r="3.1" fill="#000"/>
<circle cx="2026" cy="932" r="3.1" fill="#000"/>
<circle cx="2016" cy="951" r="3.1" fill="#000"/>
<circle cx="2025" cy="951" r="3.1" fill="#000"/>
<circle cx="2015" cy="963" r="3.1" fill="#000"/>
<circle cx="2026" cy="963" r="3.1" fill="#000"/>
<circle cx="2016" cy="975" r="3.1" fill="#000"/>
<circle cx="2026" cy="975" r="3.1" fill="#000"/>
<circle cx="2011" cy="995" r="3.1" fill="#000"/>
<circle cx="2021" cy="995" r="3.1" fill="#000"/>
<circle cx="2031" cy="995" r="3.1" fill="#000"/>
<circle cx="2016" cy="990" r="3.1" fill="#000"/>
<circle cx="2026" cy="990" r="3.1" fill="#000"/>
<circle cx="2059.5" cy="928" r="3.1" fill="#000"/>
<circle cx="2069.5" cy="934" r="3.1" fill="#000"/>
<circle cx="2079.5" cy="934" r="3.1" fill="#000"/>
<circle cx="2065.5" cy="942" r="3.1" fill="#000"/>
<circle cx="2074.5" cy="948" r="3.1" fill="#000"/>
<circle cx="2069.5" cy="963" r="3.1" fill="#000"/>
<circle cx="2079.5" cy="961" r="3.1" fill="#000"/>
<circle cx="2059.5" cy="967" r="3.1" fill="#000"/>
<circle cx="2064.5" cy="974" r="3.1" fill="#000"/>
<circle cx="2074.5" cy="981" r="3.1" fill="#000"/>
<circle cx="2064.5" cy="1019" r="3.1" fill="#000"/>
<circle cx="2074.5" cy="1019" r="3.1" fill="#000"/>
<line x1="1847.5" y1="901" x2="1847.5" y2="1100.5" stroke="#111" stroke-width="1.5"/>
<line x1="1839" y1="1100.5" x2="2100" y2="1100.5" stroke="#111" stroke-width="1.5"/>
<line x1="1839" y1="1100.5" x2="1847.5" y2="1100.5" stroke="#111" stroke-width="1.5"/>
<text x="1836" y="1113.7" font-size="31.5" text-anchor="end">10</text>
<line x1="1839" y1="1034.23" x2="1847.5" y2="1034.23" stroke="#111" stroke-width="1.5"/>
<text x="1836" y="1047.43" font-size="31.5" text-anchor="end">30</text>
<line x1="1839" y1="967.97" x2="1847.5" y2="967.97" stroke="#111" stroke-width="1.5"/>
<text x="1836" y="981.17" font-size="31.5" text-anchor="end">50</text>
<line x1="1839" y1="901.7" x2="1847.5" y2="901.7" stroke="#111" stroke-width="1.5"/>
<text x="1836" y="914.9" font-size="31.5" text-anchor="end">70</text>
<line x1="1876" y1="1100.5" x2="1876" y2="1108.5" stroke="#111" stroke-width="1.5"/>
<line x1="1924.7" y1="1100.5" x2="1924.7" y2="1108.5" stroke="#111" stroke-width="1.5"/>
<line x1="1973" y1="1100.5" x2="1973" y2="1108.5" stroke="#111" stroke-width="1.5"/>
<line x1="2021.7" y1="1100.5" x2="2021.7" y2="1108.5" stroke="#111" stroke-width="1.5"/>
<line x1="2070" y1="1100.5" x2="2070" y2="1108.5" stroke="#111" stroke-width="1.5"/>
<text x="1835" y="1141.7" font-size="37" textLength="56" lengthAdjust="spacingAndGlyphs">WT</text>
<text x="1901" y="1141.7" font-size="37" font-style="italic" textLength="31" lengthAdjust="spacingAndGlyphs">-1</text>
<text x="1950" y="1141.7" font-size="37" font-style="italic" textLength="33" lengthAdjust="spacingAndGlyphs">-2</text>
<text x="2003.5" y="1141.7" font-size="37" font-style="italic" textLength="30" lengthAdjust="spacingAndGlyphs">-1</text>
<text x="2053.5" y="1141.7" font-size="37" font-style="italic" textLength="33" lengthAdjust="spacingAndGlyphs">-2</text>
<line x1="1896" y1="1150" x2="1983" y2="1150" stroke="#000" stroke-width="1.5"/>
<line x1="1994.7" y1="1150" x2="2088" y2="1150" stroke="#000" stroke-width="1.5"/>
<text x="1829" y="1182" font-size="35" font-style="italic" textLength="145" lengthAdjust="spacingAndGlyphs">screw1/2</text>
<text x="2013" y="1182" font-size="35" font-style="italic" textLength="50" lengthAdjust="spacingAndGlyphs">nut</text>
<text x="1901.7" y="810" font-size="27.8" textLength="116" lengthAdjust="spacingAndGlyphs"><tspan font-style="italic">P</tspan> = 0.015</text>
<polyline points="1876,822 1876,820 2071,820 2071,822.5" fill="none" stroke="#000" stroke-width="1.6"/>
<text x="1879" y="852.5" font-size="27.8" textLength="132" lengthAdjust="spacingAndGlyphs"><tspan font-style="italic">P</tspan> = 0.0088</text>
<polyline points="1876,862.5 1876,860.5 2023,860.5 2023,863" fill="none" stroke="#000" stroke-width="1.6"/>
<text x="1879" y="889.5" font-size="27.8" textLength="132" lengthAdjust="spacingAndGlyphs"><tspan font-style="italic">P</tspan> = 0.3294</text>
<polyline points="1876,899.5 1876,897.5 1973,897.5 1973,900" fill="none" stroke="#000" stroke-width="1.6"/>
<text x="1879" y="926" font-size="27.8" textLength="132" lengthAdjust="spacingAndGlyphs"><tspan font-style="italic">P</tspan> = 0.8072</text>
<polyline points="1876,936 1876,933.7 1925.5,933.7 1925.5,936.5" fill="none" stroke="#000" stroke-width="1.6"/>
<text x="7" y="1222" font-size="37" font-weight="bold">h</text>
<text x="54.5" y="1549.5" font-size="37" transform="rotate(-90 54.5 1549.5)" textLength="312" lengthAdjust="spacingAndGlyphs">Cell death rate (%)</text>
<text x="265" y="1268" font-size="36" font-style="italic" textLength="207.5" lengthAdjust="spacingAndGlyphs">Pst avrRpm1</text>
<text x="801" y="1268" font-size="36" font-style="italic" textLength="191.5" lengthAdjust="spacingAndGlyphs">Pst avrRpt2</text>
<rect x="139.5" y="1473" width="10.9" height="62" fill="#d5d5d5" stroke="#111" stroke-width="1.2"/>
<line x1="144.95" y1="1470" x2="144.95" y2="1476" stroke="#111" stroke-width="1.2"/>
<line x1="141.95" y1="1470" x2="147.95" y2="1470" stroke="#111" stroke-width="1.2"/>
<line x1="141.95" y1="1476" x2="147.95" y2="1476" stroke="#111" stroke-width="1.2"/>
<circle cx="146.32" cy="1467.16" r="2.6" fill="#000"/>
<circle cx="142.29" cy="1471.34" r="2.6" fill="#000"/>
<circle cx="146.29" cy="1477.21" r="2.6" fill="#000"/>
<rect x="153" y="1472" width="10.9" height="63" fill="#fddcc2" stroke="#111" stroke-width="1.2"/>
<line x1="158.45" y1="1456" x2="158.45" y2="1488" stroke="#111" stroke-width="1.2"/>
<line x1="155.45" y1="1456" x2="161.45" y2="1456" stroke="#111" stroke-width="1.2"/>
<line x1="155.45" y1="1488" x2="161.45" y2="1488" stroke="#111" stroke-width="1.2"/>
<circle cx="158.96" cy="1455.08" r="2.6" fill="#000"/>
<circle cx="159.09" cy="1472.43" r="2.6" fill="#000"/>
<circle cx="158.77" cy="1487.48" r="2.6" fill="#000"/>
<rect x="167" y="1469" width="10.9" height="66" fill="#c1622c" stroke="#111" stroke-width="1.2"/>
<line x1="172.45" y1="1463" x2="172.45" y2="1475" stroke="#111" stroke-width="1.2"/>
<line x1="169.45" y1="1463" x2="175.45" y2="1463" stroke="#111" stroke-width="1.2"/>
<line x1="169.45" y1="1475" x2="175.45" y2="1475" stroke="#111" stroke-width="1.2"/>
<circle cx="172.24" cy="1461.82" r="2.6" fill="#000"/>
<circle cx="173.79" cy="1470.98" r="2.6" fill="#000"/>
<circle cx="174.25" cy="1475.63" r="2.6" fill="#000"/>
<rect x="180.7" y="1462.7" width="10.9" height="72.3" fill="#b9bb3a" stroke="#111" stroke-width="1.2"/>
<line x1="186.15" y1="1459.7" x2="186.15" y2="1465.7" stroke="#111" stroke-width="1.2"/>
<line x1="183.15" y1="1459.7" x2="189.15" y2="1459.7" stroke="#111" stroke-width="1.2"/>
<line x1="183.15" y1="1465.7" x2="189.15" y2="1465.7" stroke="#111" stroke-width="1.2"/>
<circle cx="185.98" cy="1458.9" r="2.6" fill="#000"/>
<circle cx="183.37" cy="1460.81" r="2.6" fill="#000"/>
<circle cx="186.01" cy="1465.66" r="2.6" fill="#000"/>
<rect x="195" y="1459.5" width="10.9" height="75.5" fill="#256b35" stroke="#111" stroke-width="1.2"/>
<line x1="200.45" y1="1454.5" x2="200.45" y2="1464.5" stroke="#111" stroke-width="1.2"/>
<line x1="197.45" y1="1454.5" x2="203.45" y2="1454.5" stroke="#111" stroke-width="1.2"/>
<line x1="197.45" y1="1464.5" x2="203.45" y2="1464.5" stroke="#111" stroke-width="1.2"/>
<circle cx="200.09" cy="1451.82" r="2.6" fill="#000"/>
<circle cx="200.6" cy="1459.74" r="2.6" fill="#000"/>
<circle cx="199.39" cy="1463.57" r="2.6" fill="#000"/>
<rect x="221" y="1437.7" width="10.9" height="97.3" fill="#d5d5d5" stroke="#111" stroke-width="1.2"/>
<line x1="226.45" y1="1435.7" x2="226.45" y2="1439.7" stroke="#111" stroke-width="1.2"/>
<line x1="223.45" y1="1435.7" x2="229.45" y2="1435.7" stroke="#111" stroke-width="1.2"/>
<line x1="223.45" y1="1439.7" x2="229.45" y2="1439.7" stroke="#111" stroke-width="1.2"/>
<circle cx="225.93" cy="1435.29" r="2.6" fill="#000"/>
<circle cx="226.51" cy="1439.69" r="2.6" fill="#000"/>
<circle cx="227.15" cy="1439.25" r="2.6" fill="#000"/>
<rect x="235" y="1439.5" width="10.9" height="95.5" fill="#fddcc2" stroke="#111" stroke-width="1.2"/>
<line x1="240.45" y1="1433.5" x2="240.45" y2="1445.5" stroke="#111" stroke-width="1.2"/>
<line x1="237.45" y1="1433.5" x2="243.45" y2="1433.5" stroke="#111" stroke-width="1.2"/>
<line x1="237.45" y1="1445.5" x2="243.45" y2="1445.5" stroke="#111" stroke-width="1.2"/>
<circle cx="241.63" cy="1431.11" r="2.6" fill="#000"/>
<circle cx="241.86" cy="1441.13" r="2.6" fill="#000"/>
<circle cx="241.5" cy="1446.87" r="2.6" fill="#000"/>
<rect x="248.7" y="1424" width="10.9" height="111" fill="#c1622c" stroke="#111" stroke-width="1.2"/>
<line x1="254.15" y1="1408" x2="254.15" y2="1440" stroke="#111" stroke-width="1.2"/>
<line x1="251.15" y1="1408" x2="257.15" y2="1408" stroke="#111" stroke-width="1.2"/>
<line x1="251.15" y1="1440" x2="257.15" y2="1440" stroke="#111" stroke-width="1.2"/>
<circle cx="253.71" cy="1405.06" r="2.6" fill="#000"/>
<circle cx="256.92" cy="1422.64" r="2.6" fill="#000"/>
<circle cx="255.17" cy="1441.15" r="2.6" fill="#000"/>
<rect x="263" y="1431.5" width="10.9" height="103.5" fill="#b9bb3a" stroke="#111" stroke-width="1.2"/>
<line x1="268.45" y1="1421.5" x2="268.45" y2="1441.5" stroke="#111" stroke-width="1.2"/>
<line x1="265.45" y1="1421.5" x2="271.45" y2="1421.5" stroke="#111" stroke-width="1.2"/>
<line x1="265.45" y1="1441.5" x2="271.45" y2="1441.5" stroke="#111" stroke-width="1.2"/>
<circle cx="268.33" cy="1419.91" r="2.6" fill="#000"/>
<circle cx="268.39" cy="1433.2" r="2.6" fill="#000"/>
<circle cx="268.45" cy="1442.99" r="2.6" fill="#000"/>
<rect x="277" y="1427.7" width="10.9" height="107.3" fill="#256b35" stroke="#111" stroke-width="1.2"/>
<line x1="282.45" y1="1417.7" x2="282.45" y2="1437.7" stroke="#111" stroke-width="1.2"/>
<line x1="279.45" y1="1417.7" x2="285.45" y2="1417.7" stroke="#111" stroke-width="1.2"/>
<line x1="279.45" y1="1437.7" x2="285.45" y2="1437.7" stroke="#111" stroke-width="1.2"/>
<circle cx="282.01" cy="1415.05" r="2.6" fill="#000"/>
<circle cx="284.85" cy="1427.54" r="2.6" fill="#000"/>
<circle cx="282.72" cy="1439.46" r="2.6" fill="#000"/>
<rect x="303.7" y="1416.5" width="10.9" height="118.5" fill="#d5d5d5" stroke="#111" stroke-width="1.2"/>
<line x1="309.15" y1="1407.5" x2="309.15" y2="1425.5" stroke="#111" stroke-width="1.2"/>
<line x1="306.15" y1="1407.5" x2="312.15" y2="1407.5" stroke="#111" stroke-width="1.2"/>
<line x1="306.15" y1="1425.5" x2="312.15" y2="1425.5" stroke="#111" stroke-width="1.2"/>
<circle cx="309.82" cy="1406.04" r="2.6" fill="#000"/>
<circle cx="307.48" cy="1415.8" r="2.6" fill="#000"/>
<circle cx="309.95" cy="1425" r="2.6" fill="#000"/>
<rect x="317.5" y="1416.5" width="10.9" height="118.5" fill="#fddcc2" stroke="#111" stroke-width="1.2"/>
<line x1="322.95" y1="1405.5" x2="322.95" y2="1427.5" stroke="#111" stroke-width="1.2"/>
<line x1="319.95" y1="1405.5" x2="325.95" y2="1405.5" stroke="#111" stroke-width="1.2"/>
<line x1="319.95" y1="1427.5" x2="325.95" y2="1427.5" stroke="#111" stroke-width="1.2"/>
<circle cx="324.17" cy="1404.7" r="2.6" fill="#000"/>
<circle cx="325.42" cy="1415.74" r="2.6" fill="#000"/>
<circle cx="324.78" cy="1428.62" r="2.6" fill="#000"/>
<rect x="331" y="1418" width="10.9" height="117" fill="#c1622c" stroke="#111" stroke-width="1.2"/>
<line x1="336.45" y1="1391" x2="336.45" y2="1445" stroke="#111" stroke-width="1.2"/>
<line x1="333.45" y1="1391" x2="339.45" y2="1391" stroke="#111" stroke-width="1.2"/>
<line x1="333.45" y1="1445" x2="339.45" y2="1445" stroke="#111" stroke-width="1.2"/>
<circle cx="336.46" cy="1389.45" r="2.6" fill="#000"/>
<circle cx="337.36" cy="1418.35" r="2.6" fill="#000"/>
<circle cx="335.7" cy="1444.62" r="2.6" fill="#000"/>
<rect x="345" y="1418" width="10.9" height="117" fill="#b9bb3a" stroke="#111" stroke-width="1.2"/>
<line x1="350.45" y1="1392" x2="350.45" y2="1444" stroke="#111" stroke-width="1.2"/>
<line x1="347.45" y1="1392" x2="353.45" y2="1392" stroke="#111" stroke-width="1.2"/>
<line x1="347.45" y1="1444" x2="353.45" y2="1444" stroke="#111" stroke-width="1.2"/>
<circle cx="350.49" cy="1389.2" r="2.6" fill="#000"/>
<circle cx="351.19" cy="1416.3" r="2.6" fill="#000"/>
<circle cx="351.73" cy="1445.18" r="2.6" fill="#000"/>
<rect x="359" y="1404.5" width="10.9" height="130.5" fill="#256b35" stroke="#111" stroke-width="1.2"/>
<line x1="364.45" y1="1387.5" x2="364.45" y2="1421.5" stroke="#111" stroke-width="1.2"/>
<line x1="361.45" y1="1387.5" x2="367.45" y2="1387.5" stroke="#111" stroke-width="1.2"/>
<line x1="361.45" y1="1421.5" x2="367.45" y2="1421.5" stroke="#111" stroke-width="1.2"/>
<circle cx="365.67" cy="1386.93" r="2.6" fill="#000"/>
<circle cx="365.92" cy="1402.74" r="2.6" fill="#000"/>
<circle cx="365.06" cy="1421.32" r="2.6" fill="#000"/>
<rect x="385.7" y="1353" width="10.9" height="182" fill="#d5d5d5" stroke="#111" stroke-width="1.2"/>
<line x1="391.15" y1="1345" x2="391.15" y2="1361" stroke="#111" stroke-width="1.2"/>
<line x1="388.15" y1="1345" x2="394.15" y2="1345" stroke="#111" stroke-width="1.2"/>
<line x1="388.15" y1="1361" x2="394.15" y2="1361" stroke="#111" stroke-width="1.2"/>
<circle cx="390.33" cy="1342.37" r="2.6" fill="#000"/>
<circle cx="388.79" cy="1353.09" r="2.6" fill="#000"/>
<circle cx="392.57" cy="1360.73" r="2.6" fill="#000"/>
<rect x="399.5" y="1353" width="10.9" height="182" fill="#fddcc2" stroke="#111" stroke-width="1.2"/>
<line x1="404.95" y1="1347" x2="404.95" y2="1359" stroke="#111" stroke-width="1.2"/>
<line x1="401.95" y1="1347" x2="407.95" y2="1347" stroke="#111" stroke-width="1.2"/>
<line x1="401.95" y1="1359" x2="407.95" y2="1359" stroke="#111" stroke-width="1.2"/>
<circle cx="404.08" cy="1344.36" r="2.6" fill="#000"/>
<circle cx="404.49" cy="1353.87" r="2.6" fill="#000"/>
<circle cx="403.08" cy="1359.09" r="2.6" fill="#000"/>
<rect x="413.7" y="1363" width="10.9" height="172" fill="#c1622c" stroke="#111" stroke-width="1.2"/>
<line x1="419.15" y1="1340" x2="419.15" y2="1386" stroke="#111" stroke-width="1.2"/>
<line x1="416.15" y1="1340" x2="422.15" y2="1340" stroke="#111" stroke-width="1.2"/>
<line x1="416.15" y1="1386" x2="422.15" y2="1386" stroke="#111" stroke-width="1.2"/>
<circle cx="418.17" cy="1337.98" r="2.6" fill="#000"/>
<circle cx="416.65" cy="1364.82" r="2.6" fill="#000"/>
<circle cx="417.25" cy="1387.19" r="2.6" fill="#000"/>
<rect x="427.5" y="1352" width="10.9" height="183" fill="#b9bb3a" stroke="#111" stroke-width="1.2"/>
<line x1="432.95" y1="1336" x2="432.95" y2="1368" stroke="#111" stroke-width="1.2"/>
<line x1="429.95" y1="1336" x2="435.95" y2="1336" stroke="#111" stroke-width="1.2"/>
<line x1="429.95" y1="1368" x2="435.95" y2="1368" stroke="#111" stroke-width="1.2"/>
<circle cx="431.51" cy="1335.23" r="2.6" fill="#000"/>
<circle cx="434.83" cy="1350.63" r="2.6" fill="#000"/>
<circle cx="431.68" cy="1369.07" r="2.6" fill="#000"/>
<rect x="441.7" y="1354.5" width="10.9" height="180.5" fill="#256b35" stroke="#111" stroke-width="1.2"/>
<line x1="447.15" y1="1344.5" x2="447.15" y2="1364.5" stroke="#111" stroke-width="1.2"/>
<line x1="444.15" y1="1344.5" x2="450.15" y2="1344.5" stroke="#111" stroke-width="1.2"/>
<line x1="444.15" y1="1364.5" x2="450.15" y2="1364.5" stroke="#111" stroke-width="1.2"/>
<circle cx="446.81" cy="1344.37" r="2.6" fill="#000"/>
<circle cx="450.09" cy="1353.11" r="2.6" fill="#000"/>
<circle cx="445.3" cy="1364.53" r="2.6" fill="#000"/>
<rect x="468" y="1325" width="10.9" height="210" fill="#d5d5d5" stroke="#111" stroke-width="1.2"/>
<circle cx="470.45" cy="1324.5" r="2.5" fill="#000"/>
<circle cx="473.45" cy="1324.5" r="2.5" fill="#000"/>
<circle cx="476.45" cy="1324.5" r="2.5" fill="#000"/>
<rect x="482" y="1325" width="10.9" height="210" fill="#fddcc2" stroke="#111" stroke-width="1.2"/>
<circle cx="484.45" cy="1324.5" r="2.5" fill="#000"/>
<circle cx="487.45" cy="1324.5" r="2.5" fill="#000"/>
<circle cx="490.45" cy="1324.5" r="2.5" fill="#000"/>
<rect x="496" y="1325" width="10.9" height="210" fill="#c1622c" stroke="#111" stroke-width="1.2"/>
<circle cx="498.45" cy="1324.5" r="2.5" fill="#000"/>
<circle cx="501.45" cy="1324.5" r="2.5" fill="#000"/>
<circle cx="504.45" cy="1324.5" r="2.5" fill="#000"/>
<rect x="510" y="1325" width="10.9" height="210" fill="#b9bb3a" stroke="#111" stroke-width="1.2"/>
<circle cx="512.45" cy="1324.5" r="2.5" fill="#000"/>
<circle cx="515.45" cy="1324.5" r="2.5" fill="#000"/>
<circle cx="518.45" cy="1324.5" r="2.5" fill="#000"/>
<rect x="523.7" y="1325" width="10.9" height="210" fill="#256b35" stroke="#111" stroke-width="1.2"/>
<circle cx="526.15" cy="1324.5" r="2.5" fill="#000"/>
<circle cx="529.15" cy="1324.5" r="2.5" fill="#000"/>
<circle cx="532.15" cy="1324.5" r="2.5" fill="#000"/>
<line x1="132" y1="1281.3" x2="132" y2="1535" stroke="#111" stroke-width="1.4"/>
<line x1="124" y1="1535" x2="542.5" y2="1535" stroke="#111" stroke-width="1.4"/>
<line x1="124" y1="1535" x2="132" y2="1535" stroke="#111" stroke-width="1.4"/>
<text x="118" y="1550.5" font-size="35.5" text-anchor="end">0</text>
<line x1="124" y1="1450.67" x2="132" y2="1450.67" stroke="#111" stroke-width="1.4"/>
<text x="118" y="1466.17" font-size="35.5" text-anchor="end">40</text>
<line x1="124" y1="1366.33" x2="132" y2="1366.33" stroke="#111" stroke-width="1.4"/>
<text x="118" y="1381.83" font-size="35.5" text-anchor="end">80</text>
<line x1="124" y1="1282" x2="132" y2="1282" stroke="#111" stroke-width="1.4"/>
<text x="118" y="1297.5" font-size="35.5" text-anchor="end">120</text>
<line x1="172.5" y1="1535" x2="172.5" y2="1542" stroke="#111" stroke-width="1.4"/>
<text x="172.5" y="1574.5" font-size="35" text-anchor="middle">3</text>
<line x1="254.5" y1="1535" x2="254.5" y2="1542" stroke="#111" stroke-width="1.4"/>
<text x="254.5" y="1574.5" font-size="35" text-anchor="middle">4</text>
<line x1="336" y1="1535" x2="336" y2="1542" stroke="#111" stroke-width="1.4"/>
<text x="336" y="1574.5" font-size="35" text-anchor="middle">5</text>
<line x1="418.7" y1="1535" x2="418.7" y2="1542" stroke="#111" stroke-width="1.4"/>
<text x="418.7" y="1574.5" font-size="35" text-anchor="middle">6</text>
<line x1="501" y1="1535" x2="501" y2="1542" stroke="#111" stroke-width="1.4"/>
<text x="501" y="1574.5" font-size="35" text-anchor="middle">8</text>
<text x="530" y="1572" font-size="35" textLength="46" lengthAdjust="spacingAndGlyphs">hpi</text>
<rect x="141" y="1263" width="28.5" height="10.5" fill="#d5d5d5" stroke="#111" stroke-width="1.2"/>
<text x="178.5" y="1280.7" font-size="33" textLength="50" lengthAdjust="spacingAndGlyphs">WT</text>
<rect x="141" y="1290.7" width="28.5" height="10.5" fill="#fddcc2" stroke="#111" stroke-width="1.2"/>
<text x="175.5" y="1305.7" font-size="33" font-style="italic" textLength="72.5" lengthAdjust="spacingAndGlyphs">nut-1</text>
<rect x="141" y="1319.5" width="28.5" height="10.5" fill="#c1622c" stroke="#111" stroke-width="1.2"/>
<text x="175.5" y="1334.5" font-size="33" font-style="italic" textLength="74" lengthAdjust="spacingAndGlyphs">nut-2</text>
<rect x="141" y="1349.5" width="28.5" height="10.5" fill="#b9bb3a" stroke="#111" stroke-width="1.2"/>
<text x="175.5" y="1363" font-size="33" font-style="italic" textLength="160" lengthAdjust="spacingAndGlyphs">screw1/2-1</text>
<rect x="141" y="1378" width="28.5" height="10.5" fill="#256b35" stroke="#111" stroke-width="1.2"/>
<text x="175.5" y="1392" font-size="33" font-style="italic" textLength="162" lengthAdjust="spacingAndGlyphs">screw1/2-2</text>
<rect x="652" y="1524.5" width="10.9" height="9.2" fill="#d5d5d5" stroke="#111" stroke-width="1.2"/>
<line x1="657.45" y1="1522.5" x2="657.45" y2="1526.5" stroke="#111" stroke-width="1.2"/>
<line x1="654.45" y1="1522.5" x2="660.45" y2="1522.5" stroke="#111" stroke-width="1.2"/>
<line x1="654.45" y1="1526.5" x2="660.45" y2="1526.5" stroke="#111" stroke-width="1.2"/>
<circle cx="657.8" cy="1520.27" r="2.6" fill="#000"/>
<circle cx="655.13" cy="1523.85" r="2.6" fill="#000"/>
<circle cx="655.57" cy="1526.85" r="2.6" fill="#000"/>
<rect x="665.7" y="1526.5" width="10.9" height="7.2" fill="#fddcc2" stroke="#111" stroke-width="1.2"/>
<line x1="671.15" y1="1518.5" x2="671.15" y2="1534.5" stroke="#111" stroke-width="1.2"/>
<line x1="668.15" y1="1518.5" x2="674.15" y2="1518.5" stroke="#111" stroke-width="1.2"/>
<line x1="668.15" y1="1534.5" x2="674.15" y2="1534.5" stroke="#111" stroke-width="1.2"/>
<circle cx="671.95" cy="1516.28" r="2.6" fill="#000"/>
<circle cx="673.56" cy="1527.52" r="2.6" fill="#000"/>
<circle cx="672.6" cy="1535.62" r="2.6" fill="#000"/>
<rect x="679" y="1522" width="10.9" height="11.7" fill="#c1622c" stroke="#111" stroke-width="1.2"/>
<line x1="684.45" y1="1515" x2="684.45" y2="1529" stroke="#111" stroke-width="1.2"/>
<line x1="681.45" y1="1515" x2="687.45" y2="1515" stroke="#111" stroke-width="1.2"/>
<line x1="681.45" y1="1529" x2="687.45" y2="1529" stroke="#111" stroke-width="1.2"/>
<circle cx="684.37" cy="1514.32" r="2.6" fill="#000"/>
<circle cx="685.41" cy="1521.27" r="2.6" fill="#000"/>
<circle cx="682.86" cy="1529.34" r="2.6" fill="#000"/>
<rect x="692.5" y="1517" width="10.9" height="16.7" fill="#b9bb3a" stroke="#111" stroke-width="1.2"/>
<line x1="697.95" y1="1511" x2="697.95" y2="1523" stroke="#111" stroke-width="1.2"/>
<line x1="694.95" y1="1511" x2="700.95" y2="1511" stroke="#111" stroke-width="1.2"/>
<line x1="694.95" y1="1523" x2="700.95" y2="1523" stroke="#111" stroke-width="1.2"/>
<circle cx="699.07" cy="1510.62" r="2.6" fill="#000"/>
<circle cx="698.46" cy="1516.57" r="2.6" fill="#000"/>
<circle cx="698.01" cy="1522.43" r="2.6" fill="#000"/>
<rect x="705.7" y="1524.5" width="10.9" height="9.2" fill="#256b35" stroke="#111" stroke-width="1.2"/>
<line x1="711.15" y1="1522.5" x2="711.15" y2="1526.5" stroke="#111" stroke-width="1.2"/>
<line x1="708.15" y1="1522.5" x2="714.15" y2="1522.5" stroke="#111" stroke-width="1.2"/>
<line x1="708.15" y1="1526.5" x2="714.15" y2="1526.5" stroke="#111" stroke-width="1.2"/>
<circle cx="712.53" cy="1521.72" r="2.6" fill="#000"/>
<circle cx="711.79" cy="1524.18" r="2.6" fill="#000"/>
<circle cx="709.22" cy="1527.17" r="2.6" fill="#000"/>
<rect x="730.7" y="1482.7" width="10.9" height="51" fill="#d5d5d5" stroke="#111" stroke-width="1.2"/>
<line x1="736.15" y1="1473.7" x2="736.15" y2="1491.7" stroke="#111" stroke-width="1.2"/>
<line x1="733.15" y1="1473.7" x2="739.15" y2="1473.7" stroke="#111" stroke-width="1.2"/>
<line x1="733.15" y1="1491.7" x2="739.15" y2="1491.7" stroke="#111" stroke-width="1.2"/>
<circle cx="735.07" cy="1473.53" r="2.6" fill="#000"/>
<circle cx="733.35" cy="1481.34" r="2.6" fill="#000"/>
<circle cx="734.53" cy="1492.61" r="2.6" fill="#000"/>
<rect x="744.5" y="1479" width="10.9" height="54.7" fill="#fddcc2" stroke="#111" stroke-width="1.2"/>
<line x1="749.95" y1="1469" x2="749.95" y2="1489" stroke="#111" stroke-width="1.2"/>
<line x1="746.95" y1="1469" x2="752.95" y2="1469" stroke="#111" stroke-width="1.2"/>
<line x1="746.95" y1="1489" x2="752.95" y2="1489" stroke="#111" stroke-width="1.2"/>
<circle cx="749.97" cy="1466.05" r="2.6" fill="#000"/>
<circle cx="752.55" cy="1480.98" r="2.6" fill="#000"/>
<circle cx="748.88" cy="1489.33" r="2.6" fill="#000"/>
<rect x="758" y="1491" width="10.9" height="42.7" fill="#c1622c" stroke="#111" stroke-width="1.2"/>
<line x1="763.45" y1="1482" x2="763.45" y2="1500" stroke="#111" stroke-width="1.2"/>
<line x1="760.45" y1="1482" x2="766.45" y2="1482" stroke="#111" stroke-width="1.2"/>
<line x1="760.45" y1="1500" x2="766.45" y2="1500" stroke="#111" stroke-width="1.2"/>
<circle cx="762.7" cy="1480.23" r="2.6" fill="#000"/>
<circle cx="764.19" cy="1492.2" r="2.6" fill="#000"/>
<circle cx="764.29" cy="1499.77" r="2.6" fill="#000"/>
<rect x="771" y="1474" width="10.9" height="59.7" fill="#b9bb3a" stroke="#111" stroke-width="1.2"/>
<line x1="776.45" y1="1469" x2="776.45" y2="1479" stroke="#111" stroke-width="1.2"/>
<line x1="773.45" y1="1469" x2="779.45" y2="1469" stroke="#111" stroke-width="1.2"/>
<line x1="773.45" y1="1479" x2="779.45" y2="1479" stroke="#111" stroke-width="1.2"/>
<circle cx="776.22" cy="1467.42" r="2.6" fill="#000"/>
<circle cx="773.48" cy="1472.14" r="2.6" fill="#000"/>
<circle cx="776.08" cy="1478.33" r="2.6" fill="#000"/>
<rect x="784.5" y="1475.7" width="10.9" height="58" fill="#256b35" stroke="#111" stroke-width="1.2"/>
<line x1="789.95" y1="1466.7" x2="789.95" y2="1484.7" stroke="#111" stroke-width="1.2"/>
<line x1="786.95" y1="1466.7" x2="792.95" y2="1466.7" stroke="#111" stroke-width="1.2"/>
<line x1="786.95" y1="1484.7" x2="792.95" y2="1484.7" stroke="#111" stroke-width="1.2"/>
<circle cx="790.62" cy="1465.98" r="2.6" fill="#000"/>
<circle cx="787.55" cy="1474.43" r="2.6" fill="#000"/>
<circle cx="788.88" cy="1484.35" r="2.6" fill="#000"/>
<rect x="810" y="1415" width="10.9" height="118.7" fill="#d5d5d5" stroke="#111" stroke-width="1.2"/>
<line x1="815.45" y1="1409" x2="815.45" y2="1421" stroke="#111" stroke-width="1.2"/>
<line x1="812.45" y1="1409" x2="818.45" y2="1409" stroke="#111" stroke-width="1.2"/>
<line x1="812.45" y1="1421" x2="818.45" y2="1421" stroke="#111" stroke-width="1.2"/>
<circle cx="815.51" cy="1407.61" r="2.6" fill="#000"/>
<circle cx="814.31" cy="1415.57" r="2.6" fill="#000"/>
<circle cx="814.3" cy="1422.72" r="2.6" fill="#000"/>
<rect x="823" y="1410" width="10.9" height="123.7" fill="#fddcc2" stroke="#111" stroke-width="1.2"/>
<line x1="828.45" y1="1404" x2="828.45" y2="1416" stroke="#111" stroke-width="1.2"/>
<line x1="825.45" y1="1404" x2="831.45" y2="1404" stroke="#111" stroke-width="1.2"/>
<line x1="825.45" y1="1416" x2="831.45" y2="1416" stroke="#111" stroke-width="1.2"/>
<circle cx="829.84" cy="1401.81" r="2.6" fill="#000"/>
<circle cx="828.05" cy="1410.05" r="2.6" fill="#000"/>
<circle cx="828.77" cy="1415.15" r="2.6" fill="#000"/>
<rect x="836.7" y="1429.5" width="10.9" height="104.2" fill="#c1622c" stroke="#111" stroke-width="1.2"/>
<line x1="842.15" y1="1418.5" x2="842.15" y2="1440.5" stroke="#111" stroke-width="1.2"/>
<line x1="839.15" y1="1418.5" x2="845.15" y2="1418.5" stroke="#111" stroke-width="1.2"/>
<line x1="839.15" y1="1440.5" x2="845.15" y2="1440.5" stroke="#111" stroke-width="1.2"/>
<circle cx="841.9" cy="1416.92" r="2.6" fill="#000"/>
<circle cx="840.24" cy="1427.88" r="2.6" fill="#000"/>
<circle cx="843.36" cy="1440.6" r="2.6" fill="#000"/>
<rect x="850" y="1411.5" width="10.9" height="122.2" fill="#b9bb3a" stroke="#111" stroke-width="1.2"/>
<line x1="855.45" y1="1395.5" x2="855.45" y2="1427.5" stroke="#111" stroke-width="1.2"/>
<line x1="852.45" y1="1395.5" x2="858.45" y2="1395.5" stroke="#111" stroke-width="1.2"/>
<line x1="852.45" y1="1427.5" x2="858.45" y2="1427.5" stroke="#111" stroke-width="1.2"/>
<circle cx="855.51" cy="1392.74" r="2.6" fill="#000"/>
<circle cx="856.11" cy="1410.66" r="2.6" fill="#000"/>
<circle cx="857.38" cy="1427.62" r="2.6" fill="#000"/>
<rect x="863" y="1407" width="10.9" height="126.7" fill="#256b35" stroke="#111" stroke-width="1.2"/>
<line x1="868.45" y1="1399" x2="868.45" y2="1415" stroke="#111" stroke-width="1.2"/>
<line x1="865.45" y1="1399" x2="871.45" y2="1399" stroke="#111" stroke-width="1.2"/>
<line x1="865.45" y1="1415" x2="871.45" y2="1415" stroke="#111" stroke-width="1.2"/>
<circle cx="867.01" cy="1396.94" r="2.6" fill="#000"/>
<circle cx="866.06" cy="1406.22" r="2.6" fill="#000"/>
<circle cx="869.81" cy="1416.02" r="2.6" fill="#000"/>
<rect x="888.7" y="1345.7" width="10.9" height="188" fill="#d5d5d5" stroke="#111" stroke-width="1.2"/>
<line x1="894.15" y1="1342.7" x2="894.15" y2="1348.7" stroke="#111" stroke-width="1.2"/>
<line x1="891.15" y1="1342.7" x2="897.15" y2="1342.7" stroke="#111" stroke-width="1.2"/>
<line x1="891.15" y1="1348.7" x2="897.15" y2="1348.7" stroke="#111" stroke-width="1.2"/>
<circle cx="892.7" cy="1341.35" r="2.6" fill="#000"/>
<circle cx="893.61" cy="1345.64" r="2.6" fill="#000"/>
<circle cx="892.98" cy="1349.47" r="2.6" fill="#000"/>
<rect x="902" y="1362.7" width="10.9" height="171" fill="#fddcc2" stroke="#111" stroke-width="1.2"/>
<line x1="907.45" y1="1353.7" x2="907.45" y2="1371.7" stroke="#111" stroke-width="1.2"/>
<line x1="904.45" y1="1353.7" x2="910.45" y2="1353.7" stroke="#111" stroke-width="1.2"/>
<line x1="904.45" y1="1371.7" x2="910.45" y2="1371.7" stroke="#111" stroke-width="1.2"/>
<circle cx="906.17" cy="1352.85" r="2.6" fill="#000"/>
<circle cx="906.69" cy="1364.44" r="2.6" fill="#000"/>
<circle cx="905.76" cy="1372.96" r="2.6" fill="#000"/>
<rect x="915.5" y="1365" width="10.9" height="168.7" fill="#c1622c" stroke="#111" stroke-width="1.2"/>
<line x1="920.95" y1="1338" x2="920.95" y2="1392" stroke="#111" stroke-width="1.2"/>
<line x1="917.95" y1="1338" x2="923.95" y2="1338" stroke="#111" stroke-width="1.2"/>
<line x1="917.95" y1="1392" x2="923.95" y2="1392" stroke="#111" stroke-width="1.2"/>
<circle cx="920.03" cy="1336.29" r="2.6" fill="#000"/>
<circle cx="920.3" cy="1364.85" r="2.6" fill="#000"/>
<circle cx="921.96" cy="1392.19" r="2.6" fill="#000"/>
<rect x="928.7" y="1354" width="10.9" height="179.7" fill="#b9bb3a" stroke="#111" stroke-width="1.2"/>
<line x1="934.15" y1="1348" x2="934.15" y2="1360" stroke="#111" stroke-width="1.2"/>
<line x1="931.15" y1="1348" x2="937.15" y2="1348" stroke="#111" stroke-width="1.2"/>
<line x1="931.15" y1="1360" x2="937.15" y2="1360" stroke="#111" stroke-width="1.2"/>
<circle cx="933.02" cy="1347.63" r="2.6" fill="#000"/>
<circle cx="931.63" cy="1355.4" r="2.6" fill="#000"/>
<circle cx="934.71" cy="1361.88" r="2.6" fill="#000"/>
<rect x="942" y="1354.5" width="10.9" height="179.2" fill="#256b35" stroke="#111" stroke-width="1.2"/>
<line x1="947.45" y1="1336.5" x2="947.45" y2="1372.5" stroke="#111" stroke-width="1.2"/>
<line x1="944.45" y1="1336.5" x2="950.45" y2="1336.5" stroke="#111" stroke-width="1.2"/>
<line x1="944.45" y1="1372.5" x2="950.45" y2="1372.5" stroke="#111" stroke-width="1.2"/>
<circle cx="948.03" cy="1336.43" r="2.6" fill="#000"/>
<circle cx="948.4" cy="1355.61" r="2.6" fill="#000"/>
<circle cx="948.34" cy="1372.99" r="2.6" fill="#000"/>
<rect x="967.5" y="1318" width="10.9" height="215.7" fill="#d5d5d5" stroke="#111" stroke-width="1.2"/>
<circle cx="969.95" cy="1317.5" r="2.5" fill="#000"/>
<circle cx="972.95" cy="1317.5" r="2.5" fill="#000"/>
<circle cx="975.95" cy="1317.5" r="2.5" fill="#000"/>
<rect x="980.7" y="1318" width="10.9" height="215.7" fill="#fddcc2" stroke="#111" stroke-width="1.2"/>
<circle cx="983.15" cy="1317.5" r="2.5" fill="#000"/>
<circle cx="986.15" cy="1317.5" r="2.5" fill="#000"/>
<circle cx="989.15" cy="1317.5" r="2.5" fill="#000"/>
<rect x="994" y="1318" width="10.9" height="215.7" fill="#c1622c" stroke="#111" stroke-width="1.2"/>
<circle cx="996.45" cy="1317.5" r="2.5" fill="#000"/>
<circle cx="999.45" cy="1317.5" r="2.5" fill="#000"/>
<circle cx="1002.45" cy="1317.5" r="2.5" fill="#000"/>
<rect x="1007.5" y="1318" width="10.9" height="215.7" fill="#b9bb3a" stroke="#111" stroke-width="1.2"/>
<circle cx="1009.95" cy="1317.5" r="2.5" fill="#000"/>
<circle cx="1012.95" cy="1317.5" r="2.5" fill="#000"/>
<circle cx="1015.95" cy="1317.5" r="2.5" fill="#000"/>
<rect x="1020.7" y="1318" width="10.9" height="215.7" fill="#256b35" stroke="#111" stroke-width="1.2"/>
<circle cx="1023.15" cy="1317.5" r="2.5" fill="#000"/>
<circle cx="1026.15" cy="1317.5" r="2.5" fill="#000"/>
<circle cx="1029.15" cy="1317.5" r="2.5" fill="#000"/>
<line x1="644.5" y1="1274.3" x2="644.5" y2="1533.7" stroke="#111" stroke-width="1.4"/>
<line x1="636.5" y1="1533.7" x2="1038.7" y2="1533.7" stroke="#111" stroke-width="1.4"/>
<line x1="636.5" y1="1533.7" x2="644.5" y2="1533.7" stroke="#111" stroke-width="1.4"/>
<text x="633" y="1550.7" font-size="35.5" text-anchor="end">0</text>
<line x1="636.5" y1="1447.47" x2="644.5" y2="1447.47" stroke="#111" stroke-width="1.4"/>
<text x="633" y="1464.47" font-size="35.5" text-anchor="end">40</text>
<line x1="636.5" y1="1361.23" x2="644.5" y2="1361.23" stroke="#111" stroke-width="1.4"/>
<text x="633" y="1378.23" font-size="35.5" text-anchor="end">80</text>
<line x1="636.5" y1="1275" x2="644.5" y2="1275" stroke="#111" stroke-width="1.4"/>
<text x="633" y="1292" font-size="35.5" text-anchor="end">120</text>
<line x1="683.7" y1="1533.7" x2="683.7" y2="1540.7" stroke="#111" stroke-width="1.4"/>
<text x="683.7" y="1574.5" font-size="35" text-anchor="middle">8</text>
<line x1="762.5" y1="1533.7" x2="762.5" y2="1540.7" stroke="#111" stroke-width="1.4"/>
<text x="762.5" y="1574.5" font-size="35" text-anchor="middle">9</text>
<line x1="841" y1="1533.7" x2="841" y2="1540.7" stroke="#111" stroke-width="1.4"/>
<text x="841" y="1574.5" font-size="35" text-anchor="middle">10</text>
<line x1="920" y1="1533.7" x2="920" y2="1540.7" stroke="#111" stroke-width="1.4"/>
<text x="920" y="1574.5" font-size="35" text-anchor="middle">11</text>
<line x1="998.7" y1="1533.7" x2="998.7" y2="1540.7" stroke="#111" stroke-width="1.4"/>
<text x="998.7" y="1574.5" font-size="35" text-anchor="middle">12</text>
<text x="1037.5" y="1573" font-size="35" textLength="45" lengthAdjust="spacingAndGlyphs">hpi</text>
<rect x="654.5" y="1254" width="27.5" height="13.3" fill="#d5d5d5" stroke="#111" stroke-width="1.2"/>
<text x="692.5" y="1270" font-size="33" textLength="50" lengthAdjust="spacingAndGlyphs">WT</text>
<rect x="654.5" y="1282.7" width="27.5" height="13.3" fill="#fddcc2" stroke="#111" stroke-width="1.2"/>
<text x="689" y="1300.7" font-size="33" font-style="italic" textLength="72.5" lengthAdjust="spacingAndGlyphs">nut-1</text>
<rect x="654.5" y="1311" width="27.5" height="13.3" fill="#c1622c" stroke="#111" stroke-width="1.2"/>
<text x="689" y="1330.7" font-size="33" font-style="italic" textLength="74" lengthAdjust="spacingAndGlyphs">nut-2</text>
<rect x="654.5" y="1342" width="27.5" height="13.3" fill="#b9bb3a" stroke="#111" stroke-width="1.2"/>
<text x="689" y="1359.5" font-size="33" font-style="italic" textLength="161" lengthAdjust="spacingAndGlyphs">screw1/2-1</text>
<rect x="654.5" y="1373" width="27.5" height="13.3" fill="#256b35" stroke="#111" stroke-width="1.2"/>
<text x="689" y="1388" font-size="33" font-style="italic" textLength="162" lengthAdjust="spacingAndGlyphs">screw1/2-2</text>
<text x="1175" y="1257.3" font-size="37" font-weight="bold">l</text>
<rect x="1315.7" y="1334.5" width="271.02" height="214.5" fill="#6cc04a"/>
<rect x="1360.87" y="1334.5" width="45.17" height="42.9" fill="#6b1113"/>
<rect x="1451.21" y="1334.5" width="45.17" height="42.9" fill="#1f4423"/>
<rect x="1541.55" y="1334.5" width="45.17" height="42.9" fill="#22b14c"/>
<rect x="1360.87" y="1377.4" width="45.17" height="42.9" fill="#ee2228"/>
<rect x="1451.21" y="1377.4" width="45.17" height="42.9" fill="#157a40"/>
<rect x="1541.55" y="1377.4" width="45.17" height="42.9" fill="#6b1113"/>
<rect x="1360.87" y="1420.3" width="45.17" height="42.9" fill="#6b1113"/>
<rect x="1451.21" y="1420.3" width="45.17" height="42.9" fill="#173219"/>
<rect x="1541.55" y="1420.3" width="45.17" height="42.9" fill="#45b649"/>
<rect x="1360.87" y="1463.2" width="45.17" height="42.9" fill="#4d1416"/>
<rect x="1451.21" y="1463.2" width="45.17" height="42.9" fill="#1b4221"/>
<rect x="1541.55" y="1463.2" width="45.17" height="42.9" fill="#62bd47"/>
<rect x="1360.87" y="1506.1" width="45.17" height="42.9" fill="#7d1416"/>
<rect x="1451.21" y="1506.1" width="45.17" height="42.9" fill="#1f0809"/>
<rect x="1541.55" y="1506.1" width="45.17" height="42.9" fill="#3a1415"/>
<line x1="1315.7" y1="1334.5" x2="1315.7" y2="1549" stroke="#1a3a1a" stroke-width="0.9"/>
<line x1="1360.87" y1="1334.5" x2="1360.87" y2="1549" stroke="#1a3a1a" stroke-width="0.9"/>
<line x1="1406.04" y1="1334.5" x2="1406.04" y2="1549" stroke="#1a3a1a" stroke-width="0.9"/>
<line x1="1451.21" y1="1334.5" x2="1451.21" y2="1549" stroke="#1a3a1a" stroke-width="0.9"/>
<line x1="1496.38" y1="1334.5" x2="1496.38" y2="1549" stroke="#1a3a1a" stroke-width="0.9"/>
<line x1="1541.55" y1="1334.5" x2="1541.55" y2="1549" stroke="#1a3a1a" stroke-width="0.9"/>
<line x1="1586.72" y1="1334.5" x2="1586.72" y2="1549" stroke="#1a3a1a" stroke-width="0.9"/>
<line x1="1315.7" y1="1334.5" x2="1586.72" y2="1334.5" stroke="#1a3a1a" stroke-width="0.9"/>
<line x1="1315.7" y1="1377.4" x2="1586.72" y2="1377.4" stroke="#1a3a1a" stroke-width="0.9"/>
<line x1="1315.7" y1="1420.3" x2="1586.72" y2="1420.3" stroke="#1a3a1a" stroke-width="0.9"/>
<line x1="1315.7" y1="1463.2" x2="1586.72" y2="1463.2" stroke="#1a3a1a" stroke-width="0.9"/>
<line x1="1315.7" y1="1506.1" x2="1586.72" y2="1506.1" stroke="#1a3a1a" stroke-width="0.9"/>
<line x1="1315.7" y1="1549" x2="1586.72" y2="1549" stroke="#1a3a1a" stroke-width="0.9"/>
<text x="1337.5" y="1301" font-size="35" textLength="39" lengthAdjust="spacingAndGlyphs">24</text>
<text x="1428.7" y="1301" font-size="35" textLength="40" lengthAdjust="spacingAndGlyphs">48</text>
<text x="1520" y="1301" font-size="35" textLength="95" lengthAdjust="spacingAndGlyphs">72 hpi</text>
<line x1="1321.7" y1="1308" x2="1403.7" y2="1308" stroke="#000" stroke-width="1.4"/>
<line x1="1411" y1="1308" x2="1493" y2="1308" stroke="#000" stroke-width="1.4"/>
<line x1="1500.7" y1="1308" x2="1583" y2="1308" stroke="#000" stroke-width="1.4"/>
<text x="1336.79" y="1333.5" font-size="36" text-anchor="middle">-</text>
<text x="1386.96" y="1334.7" font-size="36" text-anchor="middle">+</text>
<text x="1427.12" y="1333.5" font-size="36" text-anchor="middle">-</text>
<text x="1477.3" y="1334.7" font-size="36" text-anchor="middle">+</text>
<text x="1517.47" y="1333.5" font-size="36" text-anchor="middle">-</text>
<text x="1567.64" y="1334.7" font-size="36" text-anchor="middle">+</text>
<text x="1216" y="1339.5" font-size="35" textLength="86.5" lengthAdjust="spacingAndGlyphs">aphid</text>
<text x="1305.5" y="1377" font-size="36" text-anchor="end" font-style="italic">SCREW1</text>
<text x="1305.5" y="1420" font-size="36" text-anchor="end" font-style="italic">SCREW2</text>
<text x="1305.5" y="1463" font-size="36" text-anchor="end" font-style="italic">SCREW3</text>
<text x="1305.5" y="1506.5" font-size="36" text-anchor="end" font-style="italic">SCREW4</text>
<text x="1302.5" y="1549.5" font-size="36" text-anchor="end" font-style="italic">NUT</text>
<rect x="1600" y="1407" width="19.5" height="111.5" fill="url(#cbl)" stroke="#4a6a4a" stroke-width="0.6"/>
<text x="1624.5" y="1429.5" font-size="24.5">2.5</text>
<text x="1624.5" y="1459.8" font-size="24.5">2</text>
<text x="1624.5" y="1490.8" font-size="24.5">1.5</text>
<text x="1624.5" y="1520.8" font-size="24.5">1</text>
<text x="1599.5" y="1548" font-size="26">log<tspan font-size="17" dy="4">2</tspan></text>
<text x="1718.5" y="1257" font-size="37" font-weight="bold">m</text>
<text x="1865" y="1269.5" font-size="36" font-style="italic" textLength="196" lengthAdjust="spacingAndGlyphs">pNUT::GUS</text>
<line x1="1833" y1="1278" x2="2077" y2="1278" stroke="#000" stroke-width="1.5"/>
<text x="1845" y="1314.5" font-size="36" textLength="56" lengthAdjust="spacingAndGlyphs">Ctrl</text>
<text x="1985" y="1312" font-size="36" textLength="88" lengthAdjust="spacingAndGlyphs">aphid</text>
<text x="1710" y="1390.7" font-size="36" textLength="77" lengthAdjust="spacingAndGlyphs">1 dpi</text>
<text x="1710" y="1503" font-size="36" textLength="77" lengthAdjust="spacingAndGlyphs">3 dpi</text>
<rect x="1793" y="1317.7" width="152.6" height="112.8" fill="url(#pm1)"/>
<rect x="1949.4" y="1317.7" width="151.8" height="112.8" fill="url(#pm2)"/>
<rect x="1793" y="1434.6" width="152.8" height="112.8" fill="url(#pm3)"/>
<rect x="1949.4" y="1434.6" width="151.8" height="112.8" fill="url(#pm4)"/>
<g clip-path="url(#cm0)">
<g filter="url(#soft4)">
<path d="M1891.8,1387.4 L1891.8,1432.3" fill="none" stroke="#e0e6e4" stroke-width="12" stroke-linecap="round" opacity="0.85"/>
<path d="M1891.8,1384.3 L1854.7,1319.3" fill="none" stroke="#dcdcd6" stroke-width="9" stroke-linecap="round" opacity="0.8"/>
<path d="M1891.8,1384.3 L1930.5,1319.3" fill="none" stroke="#dad9d3" stroke-width="9" stroke-linecap="round" opacity="0.8"/>
<circle cx="1891.84" cy="1375.03" r="10" fill="#e8e4d6" opacity="0.9"/>
<ellipse cx="1814.42" cy="1359.55" rx="23" ry="24" fill="#d3d3ce" opacity="0.8"/>
</g>
<g filter="url(#soft3)">
<path d="M1802.0,1353.4 L1822.2,1356.5" fill="none" stroke="#6db5b8" stroke-width="2.2" stroke-linecap="round"/>
<path d="M1808.2,1345.6 L1820.6,1338.6" fill="none" stroke="#6db5b8" stroke-width="2" stroke-linecap="round"/>
<path d="M1812.9,1371.9 L1821.4,1373.8" fill="none" stroke="#7fbec0" stroke-width="2" stroke-linecap="round"/>
<path d="M1851.6,1323.9 L1862.4,1336.3" fill="none" stroke="#6ab0b8" stroke-width="2.4" stroke-linecap="round"/>
<path d="M1845.4,1361.1 L1859.3,1364.2" fill="none" stroke="#a5d0d0" stroke-width="2.2" stroke-linecap="round"/>
<path d="M1908.9,1373.5 L1927.4,1361.1" fill="none" stroke="#4fa9a9" stroke-width="2.6" stroke-linecap="round"/>
<path d="M1877.9,1410.6 L1881.0,1427.7" fill="none" stroke="#c0dcdc" stroke-width="2.5" stroke-linecap="round" opacity="0.7"/>
</g>
</g>
<g clip-path="url(#cm1)">
<g filter="url(#soft4)">
<ellipse cx="2031.19" cy="1354.9" rx="12" ry="17" fill="#e8e2d2" opacity="0.9"/>
<path d="M2030.4,1382.8 L1986.3,1319.3" fill="none" stroke="#dcdbd4" stroke-width="8" stroke-linecap="round" opacity="0.7"/>
<path d="M2030.4,1382.8 L2076.1,1319.3" fill="none" stroke="#dcdbd4" stroke-width="8" stroke-linecap="round" opacity="0.7"/>
</g>
<g filter="url(#soft3)">
<path d="M2030.4,1382.8 C2030.6,1386.6 2031.1,1397.7 2031.5,1406.0 C2031.9,1414.3 2032.8,1427.9 2033.0,1432.3" fill="none" stroke="#2a9a9c" stroke-width="5.6" stroke-linecap="round"/>
<path d="M2030.4,1382.8 C2026.9,1380.4 2016.1,1373.5 2009.5,1368.8 C2002.9,1364.2 1994.0,1357.2 1990.9,1354.9" fill="none" stroke="#4aa5ae" stroke-width="2.6" stroke-linecap="round"/>
<path d="M2009.5,1368.8 L1983.2,1356.5" fill="none" stroke="#6ab5bc" stroke-width="2.2" stroke-linecap="round"/>
<path d="M2030.4,1382.8 C2033.4,1381.7 2040.6,1378.4 2048.2,1376.6 C2055.8,1374.8 2071.4,1372.7 2076.1,1371.9" fill="none" stroke="#4aa5ae" stroke-width="2.8" stroke-linecap="round"/>
<path d="M1961.5,1325.5 L1967.7,1323.9" fill="none" stroke="#6ab5bc" stroke-width="2" stroke-linecap="round"/>
<path d="M1963.1,1341.0 L1966.2,1350.3" fill="none" stroke="#6ab5bc" stroke-width="2" stroke-linecap="round"/>
<path d="M1983.2,1328.6 L1986.3,1333.2" fill="none" stroke="#7fbec0" stroke-width="2" stroke-linecap="round"/>
<path d="M2085.4,1354.9 L2097.8,1356.5" fill="none" stroke="#7fbec0" stroke-width="2" stroke-linecap="round"/>
<path d="M2086.9,1376.6 L2094.7,1378.1" fill="none" stroke="#6ab5bc" stroke-width="2" stroke-linecap="round"/>
<path d="M2093.1,1362.6 L2099.3,1361.1" fill="none" stroke="#7fbec0" stroke-width="2" stroke-linecap="round"/>
<circle cx="2034.28" cy="1337.87" r="2.2" fill="#f4f4f0"/>
<circle cx="2051.32" cy="1378.13" r="1.8" fill="#e4f0f0"/>
</g>
</g>
<g clip-path="url(#cm2)">
<g filter="url(#soft4)">
<path d="M1869.4,1485.0 L1869.8,1548.4" fill="none" stroke="#dcd7c3" stroke-width="7" stroke-linecap="round" opacity="0.9"/>
<ellipse cx="1868.61" cy="1464.83" rx="20" ry="22" fill="#e4e0ce" opacity="0.85"/>
<path d="M1868.6,1480.3 L1831.5,1433.9" fill="none" stroke="#d8d8d2" stroke-width="8" stroke-linecap="round" opacity="0.6"/>
</g>
<g filter="url(#soft3)">
<path d="M1805.1,1472.6 L1839.2,1483.4" fill="none" stroke="#6fb9bc" stroke-width="2.6" stroke-linecap="round"/>
<path d="M1884.1,1489.6 L1896.5,1488.1" fill="none" stroke="#6fb9bc" stroke-width="2.4" stroke-linecap="round"/>
<path d="M1919.7,1435.4 L1893.4,1464.8" fill="none" stroke="#a0cfcf" stroke-width="4.5" stroke-linecap="round"/>
<ellipse cx="1939.83" cy="1481.87" rx="10" ry="10" fill="#4aa9b8"/>
<ellipse cx="1941.38" cy="1480.32" rx="5.5" ry="5.5" fill="#2a93aa"/>
</g>
</g>
<g clip-path="url(#cm3)" filter="url(#soft3)">
<ellipse cx="1961.51" cy="1471.8" rx="19" ry="22" fill="url(#ctl)"/>
<ellipse cx="2085.38" cy="1480.32" rx="20.5" ry="23.5" fill="#3cb1a9"/>
<ellipse cx="2083.83" cy="1477.22" rx="12" ry="14" fill="#33a9a4" opacity="0.8"/>
<path d="M1975.4,1477.2 C1979.8,1478.5 1993.3,1481.9 2001.8,1485.0 C2010.3,1488.1 2022.4,1494.0 2026.5,1495.8" fill="none" stroke="#2aa0a5" stroke-width="6" stroke-linecap="round"/>
<path d="M2068.3,1486.5 C2065.0,1487.3 2054.7,1489.6 2048.2,1491.2 C2041.8,1492.7 2032.7,1495.0 2029.6,1495.8" fill="none" stroke="#1a7f95" stroke-width="6" stroke-linecap="round"/>
<path d="M2028.1,1495.8 C2028.2,1499.7 2028.7,1510.3 2029.0,1519.0 C2029.3,1527.8 2029.8,1543.5 2029.9,1548.4" fill="none" stroke="#2aa3a8" stroke-width="3.6" stroke-linecap="round"/>
<path d="M2028.1,1495.8 C2025.0,1490.6 2015.2,1475.0 2009.5,1464.8 C2003.8,1454.6 1996.6,1439.7 1994.0,1434.6" fill="none" stroke="#2aa3a8" stroke-width="3.2" stroke-linecap="round"/>
<path d="M2028.1,1495.8 C2032.0,1490.6 2044.1,1475.0 2051.3,1464.8 C2058.5,1454.6 2068.1,1439.7 2071.4,1434.6" fill="none" stroke="#2aa3a8" stroke-width="3.2" stroke-linecap="round"/>
<path d="M2028.1,1495.8 L2017.3,1464.8" fill="none" stroke="#8fd0ca" stroke-width="1.8" stroke-linecap="round"/>
<path d="M2028.1,1495.8 L2035.8,1467.9" fill="none" stroke="#8fd0ca" stroke-width="1.8" stroke-linecap="round"/>
<path d="M2020.3,1474.1 L2014.2,1458.6" fill="none" stroke="#a5d8d2" stroke-width="1.5" stroke-linecap="round"/>
</g>
<line x1="1914.3" y1="1420.7" x2="1941.4" y2="1420.7" stroke="#111" stroke-width="2.3"/>
<line x1="2069.9" y1="1421" x2="2096.2" y2="1421" stroke="#111" stroke-width="2.3"/>
<line x1="1911.2" y1="1538" x2="1938.3" y2="1538" stroke="#111" stroke-width="2.3"/>
<line x1="2070.7" y1="1542" x2="2097" y2="1542" stroke="#111" stroke-width="2.3"/>
</svg>
</body>
</html>
